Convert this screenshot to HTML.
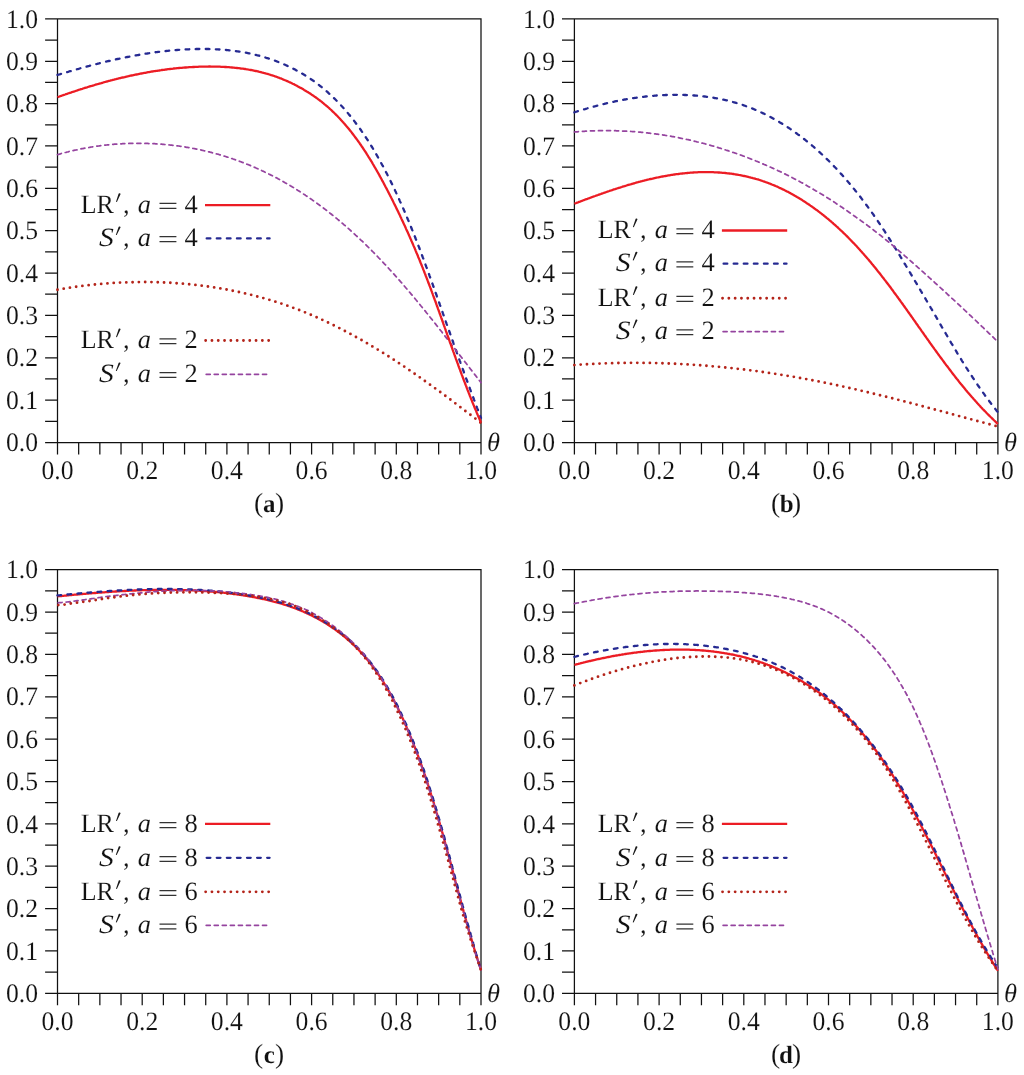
<!DOCTYPE html>
<html><head><meta charset="utf-8"><title>LR' and S' versus theta</title>
<style>
html,body{margin:0;padding:0;background:#fff;}
body{width:1024px;height:1075px;overflow:hidden;}
svg{display:block;will-change:transform;}
.t{font-family:"Liberation Serif",serif;font-size:26.5px;fill:#111;stroke:#fff;stroke-width:0.12px;text-rendering:geometricPrecision;}
.it{font-style:italic;}
.tl{font-size:26.6px;}
.bd{font-weight:bold;}
</style></head><body>
<svg width="1024" height="1075" viewBox="0 0 1024 1075">
<rect width="1024" height="1075" fill="#fff"/>
<path d="M45.10,442.50H57.50M45.10,421.32H57.50M45.10,400.14H57.50M45.10,378.96H57.50M45.10,357.78H57.50M45.10,336.60H57.50M45.10,315.42H57.50M45.10,294.24H57.50M45.10,273.06H57.50M45.10,251.88H57.50M45.10,230.70H57.50M45.10,209.52H57.50M45.10,188.34H57.50M45.10,167.16H57.50M45.10,145.98H57.50M45.10,124.80H57.50M45.10,103.62H57.50M45.10,82.44H57.50M45.10,61.26H57.50M45.10,40.08H57.50M45.10,18.90H57.50M57.50,442.50V454.40M78.67,442.50V454.40M99.85,442.50V454.40M121.03,442.50V454.40M142.20,442.50V454.40M163.38,442.50V454.40M184.55,442.50V454.40M205.72,442.50V454.40M226.90,442.50V454.40M248.07,442.50V454.40M269.25,442.50V454.40M290.43,442.50V454.40M311.60,442.50V454.40M332.77,442.50V454.40M353.95,442.50V454.40M375.12,442.50V454.40M396.30,442.50V454.40M417.48,442.50V454.40M438.65,442.50V454.40M459.82,442.50V454.40M481.00,442.50V454.40M57.50,442.50V18.90H481.00V442.50Z" fill="none" stroke="#111" stroke-width="1.25" stroke-linecap="butt"/>
<text x="38.10" y="451.20" text-anchor="end" class="t tl" textLength="32.09" lengthAdjust="spacingAndGlyphs">0.0</text>
<text x="38.10" y="408.84" text-anchor="end" class="t tl" textLength="32.09" lengthAdjust="spacingAndGlyphs">0.1</text>
<text x="38.10" y="366.48" text-anchor="end" class="t tl" textLength="32.09" lengthAdjust="spacingAndGlyphs">0.2</text>
<text x="38.10" y="324.12" text-anchor="end" class="t tl" textLength="32.09" lengthAdjust="spacingAndGlyphs">0.3</text>
<text x="38.10" y="281.76" text-anchor="end" class="t tl" textLength="32.09" lengthAdjust="spacingAndGlyphs">0.4</text>
<text x="38.10" y="239.40" text-anchor="end" class="t tl" textLength="32.09" lengthAdjust="spacingAndGlyphs">0.5</text>
<text x="38.10" y="197.04" text-anchor="end" class="t tl" textLength="32.09" lengthAdjust="spacingAndGlyphs">0.6</text>
<text x="38.10" y="154.68" text-anchor="end" class="t tl" textLength="32.09" lengthAdjust="spacingAndGlyphs">0.7</text>
<text x="38.10" y="112.32" text-anchor="end" class="t tl" textLength="32.09" lengthAdjust="spacingAndGlyphs">0.8</text>
<text x="38.10" y="69.96" text-anchor="end" class="t tl" textLength="32.09" lengthAdjust="spacingAndGlyphs">0.9</text>
<text x="38.10" y="27.60" text-anchor="end" class="t tl" textLength="32.09" lengthAdjust="spacingAndGlyphs">1.0</text>
<text x="57.50" y="478.70" text-anchor="middle" class="t tl" textLength="32.09" lengthAdjust="spacingAndGlyphs">0.0</text>
<text x="142.20" y="478.70" text-anchor="middle" class="t tl" textLength="32.09" lengthAdjust="spacingAndGlyphs">0.2</text>
<text x="226.90" y="478.70" text-anchor="middle" class="t tl" textLength="32.09" lengthAdjust="spacingAndGlyphs">0.4</text>
<text x="311.60" y="478.70" text-anchor="middle" class="t tl" textLength="32.09" lengthAdjust="spacingAndGlyphs">0.6</text>
<text x="396.30" y="478.70" text-anchor="middle" class="t tl" textLength="32.09" lengthAdjust="spacingAndGlyphs">0.8</text>
<text x="481.00" y="478.70" text-anchor="middle" class="t tl" textLength="32.09" lengthAdjust="spacingAndGlyphs">1.0</text>
<text x="487.00" y="451.30" class="t it">&#952;</text>
<path d="M562.00,442.50H574.40M562.00,421.32H574.40M562.00,400.14H574.40M562.00,378.96H574.40M562.00,357.78H574.40M562.00,336.60H574.40M562.00,315.42H574.40M562.00,294.24H574.40M562.00,273.06H574.40M562.00,251.88H574.40M562.00,230.70H574.40M562.00,209.52H574.40M562.00,188.34H574.40M562.00,167.16H574.40M562.00,145.98H574.40M562.00,124.80H574.40M562.00,103.62H574.40M562.00,82.44H574.40M562.00,61.26H574.40M562.00,40.08H574.40M562.00,18.90H574.40M574.40,442.50V454.40M595.57,442.50V454.40M616.75,442.50V454.40M637.92,442.50V454.40M659.10,442.50V454.40M680.27,442.50V454.40M701.45,442.50V454.40M722.62,442.50V454.40M743.80,442.50V454.40M764.97,442.50V454.40M786.15,442.50V454.40M807.33,442.50V454.40M828.50,442.50V454.40M849.67,442.50V454.40M870.85,442.50V454.40M892.02,442.50V454.40M913.20,442.50V454.40M934.38,442.50V454.40M955.55,442.50V454.40M976.72,442.50V454.40M997.90,442.50V454.40M574.40,442.50V18.90H997.90V442.50Z" fill="none" stroke="#111" stroke-width="1.25" stroke-linecap="butt"/>
<text x="555.00" y="451.20" text-anchor="end" class="t tl" textLength="32.09" lengthAdjust="spacingAndGlyphs">0.0</text>
<text x="555.00" y="408.84" text-anchor="end" class="t tl" textLength="32.09" lengthAdjust="spacingAndGlyphs">0.1</text>
<text x="555.00" y="366.48" text-anchor="end" class="t tl" textLength="32.09" lengthAdjust="spacingAndGlyphs">0.2</text>
<text x="555.00" y="324.12" text-anchor="end" class="t tl" textLength="32.09" lengthAdjust="spacingAndGlyphs">0.3</text>
<text x="555.00" y="281.76" text-anchor="end" class="t tl" textLength="32.09" lengthAdjust="spacingAndGlyphs">0.4</text>
<text x="555.00" y="239.40" text-anchor="end" class="t tl" textLength="32.09" lengthAdjust="spacingAndGlyphs">0.5</text>
<text x="555.00" y="197.04" text-anchor="end" class="t tl" textLength="32.09" lengthAdjust="spacingAndGlyphs">0.6</text>
<text x="555.00" y="154.68" text-anchor="end" class="t tl" textLength="32.09" lengthAdjust="spacingAndGlyphs">0.7</text>
<text x="555.00" y="112.32" text-anchor="end" class="t tl" textLength="32.09" lengthAdjust="spacingAndGlyphs">0.8</text>
<text x="555.00" y="69.96" text-anchor="end" class="t tl" textLength="32.09" lengthAdjust="spacingAndGlyphs">0.9</text>
<text x="555.00" y="27.60" text-anchor="end" class="t tl" textLength="32.09" lengthAdjust="spacingAndGlyphs">1.0</text>
<text x="574.40" y="478.70" text-anchor="middle" class="t tl" textLength="32.09" lengthAdjust="spacingAndGlyphs">0.0</text>
<text x="659.10" y="478.70" text-anchor="middle" class="t tl" textLength="32.09" lengthAdjust="spacingAndGlyphs">0.2</text>
<text x="743.80" y="478.70" text-anchor="middle" class="t tl" textLength="32.09" lengthAdjust="spacingAndGlyphs">0.4</text>
<text x="828.50" y="478.70" text-anchor="middle" class="t tl" textLength="32.09" lengthAdjust="spacingAndGlyphs">0.6</text>
<text x="913.20" y="478.70" text-anchor="middle" class="t tl" textLength="32.09" lengthAdjust="spacingAndGlyphs">0.8</text>
<text x="997.90" y="478.70" text-anchor="middle" class="t tl" textLength="32.09" lengthAdjust="spacingAndGlyphs">1.0</text>
<text x="1003.90" y="451.30" class="t it">&#952;</text>
<path d="M45.10,993.30H57.50M45.10,972.12H57.50M45.10,950.94H57.50M45.10,929.76H57.50M45.10,908.58H57.50M45.10,887.40H57.50M45.10,866.22H57.50M45.10,845.04H57.50M45.10,823.86H57.50M45.10,802.68H57.50M45.10,781.50H57.50M45.10,760.32H57.50M45.10,739.14H57.50M45.10,717.96H57.50M45.10,696.78H57.50M45.10,675.60H57.50M45.10,654.42H57.50M45.10,633.24H57.50M45.10,612.06H57.50M45.10,590.88H57.50M45.10,569.70H57.50M57.50,993.30V1005.20M78.67,993.30V1005.20M99.85,993.30V1005.20M121.03,993.30V1005.20M142.20,993.30V1005.20M163.38,993.30V1005.20M184.55,993.30V1005.20M205.72,993.30V1005.20M226.90,993.30V1005.20M248.07,993.30V1005.20M269.25,993.30V1005.20M290.43,993.30V1005.20M311.60,993.30V1005.20M332.77,993.30V1005.20M353.95,993.30V1005.20M375.12,993.30V1005.20M396.30,993.30V1005.20M417.48,993.30V1005.20M438.65,993.30V1005.20M459.82,993.30V1005.20M481.00,993.30V1005.20M57.50,993.30V569.70H481.00V993.30Z" fill="none" stroke="#111" stroke-width="1.25" stroke-linecap="butt"/>
<text x="38.10" y="1002.00" text-anchor="end" class="t tl" textLength="32.09" lengthAdjust="spacingAndGlyphs">0.0</text>
<text x="38.10" y="959.64" text-anchor="end" class="t tl" textLength="32.09" lengthAdjust="spacingAndGlyphs">0.1</text>
<text x="38.10" y="917.28" text-anchor="end" class="t tl" textLength="32.09" lengthAdjust="spacingAndGlyphs">0.2</text>
<text x="38.10" y="874.92" text-anchor="end" class="t tl" textLength="32.09" lengthAdjust="spacingAndGlyphs">0.3</text>
<text x="38.10" y="832.56" text-anchor="end" class="t tl" textLength="32.09" lengthAdjust="spacingAndGlyphs">0.4</text>
<text x="38.10" y="790.20" text-anchor="end" class="t tl" textLength="32.09" lengthAdjust="spacingAndGlyphs">0.5</text>
<text x="38.10" y="747.84" text-anchor="end" class="t tl" textLength="32.09" lengthAdjust="spacingAndGlyphs">0.6</text>
<text x="38.10" y="705.48" text-anchor="end" class="t tl" textLength="32.09" lengthAdjust="spacingAndGlyphs">0.7</text>
<text x="38.10" y="663.12" text-anchor="end" class="t tl" textLength="32.09" lengthAdjust="spacingAndGlyphs">0.8</text>
<text x="38.10" y="620.76" text-anchor="end" class="t tl" textLength="32.09" lengthAdjust="spacingAndGlyphs">0.9</text>
<text x="38.10" y="578.40" text-anchor="end" class="t tl" textLength="32.09" lengthAdjust="spacingAndGlyphs">1.0</text>
<text x="57.50" y="1029.50" text-anchor="middle" class="t tl" textLength="32.09" lengthAdjust="spacingAndGlyphs">0.0</text>
<text x="142.20" y="1029.50" text-anchor="middle" class="t tl" textLength="32.09" lengthAdjust="spacingAndGlyphs">0.2</text>
<text x="226.90" y="1029.50" text-anchor="middle" class="t tl" textLength="32.09" lengthAdjust="spacingAndGlyphs">0.4</text>
<text x="311.60" y="1029.50" text-anchor="middle" class="t tl" textLength="32.09" lengthAdjust="spacingAndGlyphs">0.6</text>
<text x="396.30" y="1029.50" text-anchor="middle" class="t tl" textLength="32.09" lengthAdjust="spacingAndGlyphs">0.8</text>
<text x="481.00" y="1029.50" text-anchor="middle" class="t tl" textLength="32.09" lengthAdjust="spacingAndGlyphs">1.0</text>
<text x="487.00" y="1002.10" class="t it">&#952;</text>
<path d="M562.00,993.30H574.40M562.00,972.12H574.40M562.00,950.94H574.40M562.00,929.76H574.40M562.00,908.58H574.40M562.00,887.40H574.40M562.00,866.22H574.40M562.00,845.04H574.40M562.00,823.86H574.40M562.00,802.68H574.40M562.00,781.50H574.40M562.00,760.32H574.40M562.00,739.14H574.40M562.00,717.96H574.40M562.00,696.78H574.40M562.00,675.60H574.40M562.00,654.42H574.40M562.00,633.24H574.40M562.00,612.06H574.40M562.00,590.88H574.40M562.00,569.70H574.40M574.40,993.30V1005.20M595.57,993.30V1005.20M616.75,993.30V1005.20M637.92,993.30V1005.20M659.10,993.30V1005.20M680.27,993.30V1005.20M701.45,993.30V1005.20M722.62,993.30V1005.20M743.80,993.30V1005.20M764.97,993.30V1005.20M786.15,993.30V1005.20M807.33,993.30V1005.20M828.50,993.30V1005.20M849.67,993.30V1005.20M870.85,993.30V1005.20M892.02,993.30V1005.20M913.20,993.30V1005.20M934.38,993.30V1005.20M955.55,993.30V1005.20M976.72,993.30V1005.20M997.90,993.30V1005.20M574.40,993.30V569.70H997.90V993.30Z" fill="none" stroke="#111" stroke-width="1.25" stroke-linecap="butt"/>
<text x="555.00" y="1002.00" text-anchor="end" class="t tl" textLength="32.09" lengthAdjust="spacingAndGlyphs">0.0</text>
<text x="555.00" y="959.64" text-anchor="end" class="t tl" textLength="32.09" lengthAdjust="spacingAndGlyphs">0.1</text>
<text x="555.00" y="917.28" text-anchor="end" class="t tl" textLength="32.09" lengthAdjust="spacingAndGlyphs">0.2</text>
<text x="555.00" y="874.92" text-anchor="end" class="t tl" textLength="32.09" lengthAdjust="spacingAndGlyphs">0.3</text>
<text x="555.00" y="832.56" text-anchor="end" class="t tl" textLength="32.09" lengthAdjust="spacingAndGlyphs">0.4</text>
<text x="555.00" y="790.20" text-anchor="end" class="t tl" textLength="32.09" lengthAdjust="spacingAndGlyphs">0.5</text>
<text x="555.00" y="747.84" text-anchor="end" class="t tl" textLength="32.09" lengthAdjust="spacingAndGlyphs">0.6</text>
<text x="555.00" y="705.48" text-anchor="end" class="t tl" textLength="32.09" lengthAdjust="spacingAndGlyphs">0.7</text>
<text x="555.00" y="663.12" text-anchor="end" class="t tl" textLength="32.09" lengthAdjust="spacingAndGlyphs">0.8</text>
<text x="555.00" y="620.76" text-anchor="end" class="t tl" textLength="32.09" lengthAdjust="spacingAndGlyphs">0.9</text>
<text x="555.00" y="578.40" text-anchor="end" class="t tl" textLength="32.09" lengthAdjust="spacingAndGlyphs">1.0</text>
<text x="574.40" y="1029.50" text-anchor="middle" class="t tl" textLength="32.09" lengthAdjust="spacingAndGlyphs">0.0</text>
<text x="659.10" y="1029.50" text-anchor="middle" class="t tl" textLength="32.09" lengthAdjust="spacingAndGlyphs">0.2</text>
<text x="743.80" y="1029.50" text-anchor="middle" class="t tl" textLength="32.09" lengthAdjust="spacingAndGlyphs">0.4</text>
<text x="828.50" y="1029.50" text-anchor="middle" class="t tl" textLength="32.09" lengthAdjust="spacingAndGlyphs">0.6</text>
<text x="913.20" y="1029.50" text-anchor="middle" class="t tl" textLength="32.09" lengthAdjust="spacingAndGlyphs">0.8</text>
<text x="997.90" y="1029.50" text-anchor="middle" class="t tl" textLength="32.09" lengthAdjust="spacingAndGlyphs">1.0</text>
<text x="1003.90" y="1002.10" class="t it">&#952;</text>
<path d="M57.5,74.9L58.5,74.6L59.4,74.4L60.4,74.1L61.3,73.8L62.3,73.5L63.3,73.2L64.2,72.9L65.2,72.6L66.2,72.4L67.1,72.1L68.1,71.8L69.0,71.5L70.0,71.2L71.0,71.0L71.9,70.7L72.9,70.4L73.9,70.1L74.8,69.9L75.8,69.6L76.7,69.3L77.7,69.0L78.7,68.8L79.6,68.5L80.6,68.2L81.6,68.0L82.5,67.7L83.5,67.4L84.5,67.2L85.4,66.9L86.4,66.7L87.4,66.4L88.4,66.1L89.3,65.9L90.3,65.6L91.3,65.4L92.2,65.1L93.2,64.9L94.2,64.6L95.1,64.4L96.1,64.1L97.1,63.9L98.1,63.6L99.0,63.4L100.0,63.1L101.0,62.9L101.9,62.7L102.9,62.4L103.9,62.2L104.9,61.9L105.8,61.7L106.8,61.5L107.8,61.2L108.8,61.0L109.7,60.8L110.7,60.6L111.7,60.3L112.7,60.1L113.7,59.9L114.6,59.7L115.6,59.5L116.6,59.2L117.6,59.0L118.6,58.8L119.5,58.6L120.5,58.4L121.5,58.2L122.5,58.0L123.5,57.8L124.4,57.6L125.4,57.4L126.4,57.2L127.4,57.0L128.4,56.8L129.4,56.6L130.3,56.4L131.3,56.2L132.3,56.0L133.3,55.8L134.3,55.7L135.3,55.5L136.3,55.3L137.2,55.1L138.2,55.0L139.2,54.8L140.2,54.6L141.2,54.4L142.2,54.3L143.2,54.1L144.2,54.0L145.1,53.8L146.1,53.6L147.1,53.5L148.1,53.3L149.1,53.2L150.1,53.0L151.1,52.9L152.1,52.8L153.1,52.6L154.1,52.5L155.1,52.3L156.1,52.2L157.1,52.1L158.0,51.9L159.0,51.8L160.0,51.7L161.0,51.6L162.0,51.5L163.0,51.3L164.0,51.2L165.0,51.1L166.0,51.0L167.0,50.9L168.0,50.8L169.0,50.7L170.0,50.6L171.0,50.5L172.0,50.4L173.0,50.3L174.0,50.2L175.0,50.2L176.0,50.1L177.0,50.0L178.0,49.9L179.0,49.8L180.0,49.8L181.0,49.7L182.0,49.6L183.0,49.6L184.0,49.5L185.0,49.5L186.0,49.4L187.0,49.4L188.0,49.3L189.0,49.3L190.0,49.2L191.0,49.2L192.0,49.2L193.0,49.1L194.0,49.1L195.0,49.1L196.0,49.0L197.0,49.0L198.0,49.0L199.0,49.0L200.0,49.0L201.0,49.0L202.0,49.0L203.0,49.0L204.0,49.0L205.0,49.0L206.0,49.0L207.0,49.0L208.0,49.0L209.0,49.0L210.0,49.1L211.0,49.1L212.0,49.1L213.1,49.2L214.1,49.2L215.1,49.3L216.1,49.3L217.1,49.4L218.1,49.4L219.1,49.5L220.1,49.5L221.1,49.6L222.1,49.7L223.1,49.7L224.1,49.8L225.1,49.9L226.1,50.0L227.1,50.1L228.1,50.2L229.0,50.3L230.0,50.4L231.0,50.5L232.0,50.6L233.0,50.7L234.0,50.9L235.0,51.0L236.0,51.1L237.0,51.3L238.0,51.4L239.0,51.6L240.0,51.7L241.0,51.9L242.0,52.0L243.0,52.2L243.9,52.4L244.9,52.5L245.9,52.7L246.9,52.9L247.9,53.1L248.9,53.3L249.8,53.5L250.8,53.7L251.8,53.9L252.8,54.1L253.8,54.4L254.7,54.6L255.7,54.8L256.7,55.1L257.7,55.3L258.6,55.6L259.6,55.8L260.6,56.1L261.5,56.3L262.5,56.6L263.5,56.9L264.4,57.2L265.4,57.5L266.3,57.8L267.3,58.1L268.3,58.4L269.2,58.7L270.2,59.0L271.1,59.3L272.1,59.6L273.0,60.0L273.9,60.3L274.9,60.7L275.8,61.0L276.8,61.4L277.7,61.7L278.6,62.1L279.6,62.5L280.5,62.8L281.4,63.2L282.3,63.6L283.3,64.0L284.2,64.4L285.1,64.8L286.0,65.2L286.9,65.6L287.8,66.0L288.7,66.5L289.6,66.9L290.6,67.3L291.5,67.8L292.3,68.2L293.2,68.7L294.1,69.1L295.0,69.6L295.9,70.1L296.8,70.5L297.7,71.0L298.6,71.5L299.4,72.0L300.3,72.5L301.2,73.0L302.0,73.5L302.9,74.0L303.8,74.5L304.6,75.1L305.5,75.6L306.3,76.1L307.2,76.7L308.0,77.2L308.8,77.7L309.7,78.3L310.5,78.9L311.3,79.4L312.2,80.0L313.0,80.6L313.8,81.1L314.6,81.7L315.4,82.3L316.2,82.9L317.0,83.5L317.8,84.1L318.6,84.7L319.4,85.3L320.2,86.0L321.0,86.6L321.8,87.2L322.6,87.8L323.3,88.5L324.1,89.1L324.9,89.8L325.6,90.4L326.4,91.1L327.1,91.7L327.9,92.4L328.6,93.1L329.4,93.8L330.1,94.4L330.8,95.1L331.6,95.8L332.3,96.5L333.0,97.2L333.8,97.9L334.5,98.6L335.2,99.3L335.9,100.0L336.6,100.7L337.3,101.4L338.0,102.1L338.7,102.9L339.4,103.6L340.1,104.3L340.8,105.0L341.4,105.8L342.1,106.5L342.8,107.3L343.5,108.0L344.1,108.8L344.8,109.5L345.4,110.3L346.1,111.0L346.8,111.8L347.4,112.5L348.0,113.3L348.7,114.1L349.3,114.9L350.0,115.6L350.6,116.4L351.2,117.2L351.9,118.0L352.5,118.8L353.1,119.6L353.7,120.3L354.3,121.1L354.9,121.9L355.5,122.7L356.1,123.5L356.7,124.3L357.3,125.1L357.9,125.9L358.5,126.8L359.1,127.6L359.7,128.4L360.3,129.2L360.9,130.0L361.4,130.8L362.0,131.7L362.6,132.5L363.1,133.3L363.7,134.1L364.3,135.0L364.8,135.8L365.4,136.6L365.9,137.5L366.5,138.3L367.0,139.2L367.6,140.0L368.1,140.8L368.7,141.7L369.2,142.5L369.7,143.4L370.3,144.2L370.8,145.1L371.3,145.9L371.8,146.8L372.4,147.6L372.9,148.5L373.4,149.4L373.9,150.2L374.4,151.1L374.9,151.9L375.4,152.8L375.9,153.7L376.4,154.5L376.9,155.4L377.4,156.3L377.9,157.2L378.4,158.0L378.9,158.9L379.4,159.8L379.9,160.7L380.4,161.5L380.9,162.4L381.3,163.3L381.8,164.2L382.3,165.1L382.8,165.9L383.3,166.8L383.7,167.7L384.2,168.6L384.7,169.5L385.1,170.4L385.6,171.3L386.0,172.1L386.5,173.0L387.0,173.9L387.4,174.8L387.9,175.7L388.3,176.6L388.8,177.5L389.2,178.4L389.7,179.3L390.1,180.2L390.6,181.1L391.0,182.0L391.4,182.9L391.9,183.8L392.3,184.7L392.8,185.6L393.2,186.5L393.6,187.4L394.0,188.3L394.5,189.2L394.9,190.1L395.3,191.0L395.8,191.9L396.2,192.9L396.6,193.8L397.0,194.7L397.4,195.6L397.9,196.5L398.3,197.4L398.7,198.3L399.1,199.2L399.5,200.1L399.9,201.1L400.3,202.0L400.8,202.9L401.2,203.8L401.6,204.7L402.0,205.6L402.4,206.6L402.8,207.5L403.2,208.4L403.6,209.3L404.0,210.2L404.4,211.1L404.8,212.1L405.2,213.0L405.6,213.9L406.0,214.8L406.4,215.8L406.7,216.7L407.1,217.6L407.5,218.5L407.9,219.5L408.3,220.4L408.7,221.3L409.1,222.2L409.4,223.2L409.8,224.1L410.2,225.0L410.6,225.9L411.0,226.9L411.3,227.8L411.7,228.7L412.1,229.7L412.5,230.6L412.8,231.5L413.2,232.4L413.6,233.4L414.0,234.3L414.3,235.2L414.7,236.2L415.1,237.1L415.4,238.0L415.8,239.0L416.2,239.9L416.5,240.8L416.9,241.8L417.3,242.7L417.6,243.6L418.0,244.6L418.3,245.5L418.7,246.4L419.1,247.4L419.4,248.3L419.8,249.3L420.1,250.2L420.5,251.1L420.8,252.1L421.2,253.0L421.5,253.9L421.9,254.9L422.2,255.8L422.6,256.8L422.9,257.7L423.3,258.6L423.6,259.6L424.0,260.5L424.3,261.5L424.7,262.4L425.0,263.3L425.4,264.3L425.7,265.2L426.1,266.2L426.4,267.1L426.8,268.0L427.1,269.0L427.5,269.9L427.8,270.9L428.1,271.8L428.5,272.8L428.8,273.7L429.2,274.6L429.5,275.6L429.8,276.5L430.2,277.5L430.5,278.4L430.9,279.4L431.2,280.3L431.5,281.2L431.9,282.2L432.2,283.1L432.6,284.1L432.9,285.0L433.2,286.0L433.6,286.9L433.9,287.9L434.2,288.8L434.6,289.7L434.9,290.7L435.2,291.6L435.6,292.6L435.9,293.5L436.3,294.5L436.6,295.4L436.9,296.4L437.3,297.3L437.6,298.2L437.9,299.2L438.3,300.1L438.6,301.1L438.9,302.0L439.3,303.0L439.6,303.9L439.9,304.9L440.3,305.8L440.6,306.7L440.9,307.7L441.3,308.6L441.6,309.6L441.9,310.5L442.3,311.5L442.6,312.4L442.9,313.4L443.3,314.3L443.6,315.3L443.9,316.2L444.3,317.1L444.6,318.1L444.9,319.0L445.3,320.0L445.6,320.9L445.9,321.9L446.3,322.8L446.6,323.8L446.9,324.7L447.3,325.7L447.6,326.6L448.0,327.5L448.3,328.5L448.6,329.4L449.0,330.4L449.3,331.3L449.6,332.3L450.0,333.2L450.3,334.2L450.6,335.1L451.0,336.1L451.3,337.0L451.6,337.9L452.0,338.9L452.3,339.8L452.6,340.8L453.0,341.7L453.3,342.7L453.6,343.6L454.0,344.6L454.3,345.5L454.6,346.4L455.0,347.4L455.3,348.3L455.7,349.3L456.0,350.2L456.3,351.2L456.7,352.1L457.0,353.1L457.3,354.0L457.7,354.9L458.0,355.9L458.4,356.8L458.7,357.8L459.0,358.7L459.4,359.7L459.7,360.6L460.1,361.5L460.4,362.5L460.7,363.4L461.1,364.4L461.4,365.3L461.7,366.3L462.1,367.2L462.4,368.1L462.8,369.1L463.1,370.0L463.5,371.0L463.8,371.9L464.1,372.9L464.5,373.8L464.8,374.7L465.2,375.7L465.5,376.6L465.9,377.6L466.2,378.5L466.5,379.5L466.9,380.4L467.2,381.3L467.6,382.3L467.9,383.2L468.3,384.2L468.6,385.1L469.0,386.0L469.3,387.0L469.7,387.9L470.0,388.9L470.4,389.8L470.7,390.7L471.1,391.7L471.4,392.6L471.8,393.6L472.1,394.5L472.5,395.4L472.8,396.4L473.2,397.3L473.5,398.3L473.9,399.2L474.2,400.1L474.6,401.1L474.9,402.0L475.3,402.9L475.6,403.9L476.0,404.8L476.3,405.8L476.7,406.7L477.0,407.6L477.4,408.6L477.8,409.5L478.1,410.4L478.5,411.4L478.8,412.3L479.2,413.3L479.6,414.2L479.9,415.1L480.3,416.1L480.6,417.0L481.0,417.9" fill="none" stroke="#262a92" stroke-width="2.3" stroke-linecap="round" stroke-dasharray="3.7 6.38"/>
<path d="M57.5,154.6L58.5,154.3L59.4,154.1L60.4,153.8L61.4,153.5L62.3,153.3L63.3,153.0L64.3,152.8L65.2,152.5L66.2,152.3L67.2,152.0L68.2,151.8L69.1,151.5L70.1,151.3L71.1,151.1L72.1,150.8L73.0,150.6L74.0,150.4L75.0,150.2L76.0,150.0L77.0,149.8L77.9,149.5L78.9,149.3L79.9,149.1L80.9,148.9L81.9,148.7L82.9,148.6L83.8,148.4L84.8,148.2L85.8,148.0L86.8,147.8L87.8,147.6L88.8,147.5L89.8,147.3L90.7,147.1L91.7,147.0L92.7,146.8L93.7,146.7L94.7,146.5L95.7,146.4L96.7,146.2L97.7,146.1L98.7,146.0L99.7,145.8L100.7,145.7L101.7,145.6L102.7,145.4L103.7,145.3L104.7,145.2L105.6,145.1L106.6,145.0L107.6,144.9L108.6,144.8L109.6,144.7L110.6,144.6L111.6,144.5L112.6,144.4L113.6,144.3L114.6,144.2L115.6,144.2L116.6,144.1L117.6,144.0L118.6,143.9L119.6,143.9L120.6,143.8L121.6,143.8L122.6,143.7L123.6,143.6L124.6,143.6L125.6,143.6L126.6,143.5L127.6,143.5L128.6,143.4L129.7,143.4L130.7,143.4L131.7,143.4L132.7,143.3L133.7,143.3L134.7,143.3L135.7,143.3L136.7,143.3L137.7,143.3L138.7,143.3L139.7,143.3L140.7,143.3L141.7,143.3L142.7,143.3L143.7,143.3L144.7,143.4L145.7,143.4L146.7,143.4L147.7,143.4L148.7,143.5L149.7,143.5L150.7,143.5L151.7,143.6L152.7,143.6L153.7,143.7L154.7,143.7L155.7,143.8L156.7,143.9L157.7,143.9L158.7,144.0L159.7,144.1L160.7,144.1L161.7,144.2L162.7,144.3L163.7,144.4L164.7,144.5L165.7,144.6L166.7,144.6L167.7,144.7L168.7,144.8L169.7,145.0L170.7,145.1L171.7,145.2L172.7,145.3L173.7,145.4L174.7,145.5L175.7,145.7L176.7,145.8L177.7,145.9L178.7,146.0L179.7,146.2L180.7,146.3L181.6,146.5L182.6,146.6L183.6,146.8L184.6,146.9L185.6,147.1L186.6,147.3L187.6,147.4L188.6,147.6L189.6,147.8L190.5,147.9L191.5,148.1L192.5,148.3L193.5,148.5L194.5,148.7L195.5,148.9L196.5,149.1L197.4,149.3L198.4,149.5L199.4,149.7L200.4,149.9L201.4,150.1L202.3,150.3L203.3,150.5L204.3,150.8L205.3,151.0L206.3,151.2L207.2,151.4L208.2,151.7L209.2,151.9L210.2,152.2L211.1,152.4L212.1,152.7L213.1,152.9L214.0,153.2L215.0,153.4L216.0,153.7L216.9,154.0L217.9,154.2L218.9,154.5L219.8,154.8L220.8,155.1L221.8,155.3L222.7,155.6L223.7,155.9L224.6,156.2L225.6,156.5L226.6,156.8L227.5,157.1L228.5,157.4L229.4,157.7L230.4,158.0L231.3,158.4L232.3,158.7L233.2,159.0L234.2,159.3L235.1,159.7L236.1,160.0L237.0,160.3L237.9,160.7L238.9,161.0L239.8,161.4L240.8,161.7L241.7,162.1L242.6,162.4L243.6,162.8L244.5,163.2L245.4,163.5L246.4,163.9L247.3,164.3L248.2,164.6L249.2,165.0L250.1,165.4L251.0,165.8L251.9,166.2L252.9,166.6L253.8,167.0L254.7,167.4L255.6,167.8L256.5,168.2L257.5,168.6L258.4,169.0L259.3,169.4L260.2,169.8L261.1,170.2L262.0,170.7L262.9,171.1L263.8,171.5L264.7,172.0L265.6,172.4L266.5,172.8L267.4,173.3L268.3,173.7L269.2,174.2L270.1,174.6L271.0,175.1L271.9,175.5L272.8,176.0L273.7,176.4L274.6,176.9L275.5,177.4L276.4,177.8L277.3,178.3L278.1,178.8L279.0,179.3L279.9,179.8L280.8,180.2L281.7,180.7L282.5,181.2L283.4,181.7L284.3,182.2L285.1,182.7L286.0,183.2L286.9,183.7L287.8,184.2L288.6,184.7L289.5,185.2L290.3,185.7L291.2,186.2L292.1,186.8L292.9,187.3L293.8,187.8L294.6,188.3L295.5,188.9L296.3,189.4L297.2,189.9L298.0,190.5L298.9,191.0L299.7,191.5L300.6,192.1L301.4,192.6L302.3,193.2L303.1,193.7L303.9,194.3L304.8,194.8L305.6,195.4L306.4,195.9L307.3,196.5L308.1,197.1L308.9,197.6L309.7,198.2L310.6,198.8L311.4,199.3L312.2,199.9L313.0,200.5L313.9,201.1L314.7,201.6L315.5,202.2L316.3,202.8L317.1,203.4L317.9,204.0L318.7,204.6L319.6,205.2L320.4,205.8L321.2,206.4L322.0,207.0L322.8,207.6L323.6,208.2L324.4,208.8L325.2,209.4L326.0,210.0L326.8,210.6L327.5,211.2L328.3,211.8L329.1,212.5L329.9,213.1L330.7,213.7L331.5,214.3L332.3,215.0L333.1,215.6L333.8,216.2L334.6,216.8L335.4,217.5L336.2,218.1L336.9,218.7L337.7,219.4L338.5,220.0L339.3,220.7L340.0,221.3L340.8,222.0L341.6,222.6L342.3,223.3L343.1,223.9L343.8,224.6L344.6,225.2L345.4,225.9L346.1,226.5L346.9,227.2L347.6,227.9L348.4,228.5L349.1,229.2L349.9,229.9L350.6,230.5L351.4,231.2L352.1,231.9L352.9,232.5L353.6,233.2L354.3,233.9L355.1,234.6L355.8,235.3L356.5,235.9L357.3,236.6L358.0,237.3L358.7,238.0L359.5,238.7L360.2,239.4L360.9,240.1L361.7,240.7L362.4,241.4L363.1,242.1L363.8,242.8L364.5,243.5L365.3,244.2L366.0,244.9L366.7,245.6L367.4,246.3L368.1,247.0L368.8,247.7L369.6,248.4L370.3,249.2L371.0,249.9L371.7,250.6L372.4,251.3L373.1,252.0L373.8,252.7L374.5,253.4L375.2,254.1L375.9,254.9L376.6,255.6L377.3,256.3L378.0,257.0L378.7,257.8L379.4,258.5L380.1,259.2L380.8,259.9L381.5,260.7L382.1,261.4L382.8,262.1L383.5,262.8L384.2,263.6L384.9,264.3L385.6,265.0L386.3,265.8L386.9,266.5L387.6,267.3L388.3,268.0L389.0,268.7L389.6,269.5L390.3,270.2L391.0,271.0L391.7,271.7L392.3,272.4L393.0,273.2L393.7,273.9L394.4,274.7L395.0,275.4L395.7,276.2L396.4,276.9L397.0,277.7L397.7,278.4L398.4,279.2L399.0,279.9L399.7,280.7L400.3,281.4L401.0,282.2L401.7,282.9L402.3,283.7L403.0,284.5L403.6,285.2L404.3,286.0L404.9,286.7L405.6,287.5L406.2,288.3L406.9,289.0L407.5,289.8L408.2,290.5L408.8,291.3L409.5,292.1L410.1,292.8L410.8,293.6L411.4,294.4L412.1,295.1L412.7,295.9L413.4,296.7L414.0,297.5L414.7,298.2L415.3,299.0L415.9,299.8L416.6,300.5L417.2,301.3L417.9,302.1L418.5,302.9L419.1,303.6L419.8,304.4L420.4,305.2L421.0,306.0L421.7,306.7L422.3,307.5L422.9,308.3L423.6,309.1L424.2,309.8L424.8,310.6L425.5,311.4L426.1,312.2L426.7,313.0L427.4,313.7L428.0,314.5L428.6,315.3L429.2,316.1L429.9,316.9L430.5,317.7L431.1,318.4L431.7,319.2L432.4,320.0L433.0,320.8L433.6,321.6L434.2,322.4L434.9,323.2L435.5,323.9L436.1,324.7L436.7,325.5L437.3,326.3L438.0,327.1L438.6,327.9L439.2,328.7L439.8,329.5L440.4,330.2L441.1,331.0L441.7,331.8L442.3,332.6L442.9,333.4L443.5,334.2L444.2,335.0L444.8,335.8L445.4,336.6L446.0,337.4L446.6,338.1L447.2,338.9L447.9,339.7L448.5,340.5L449.1,341.3L449.7,342.1L450.3,342.9L450.9,343.7L451.5,344.5L452.2,345.3L452.8,346.1L453.4,346.9L454.0,347.7L454.6,348.4L455.2,349.2L455.8,350.0L456.5,350.8L457.1,351.6L457.7,352.4L458.3,353.2L458.9,354.0L459.5,354.8L460.1,355.6L460.7,356.4L461.4,357.2L462.0,358.0L462.6,358.8L463.2,359.6L463.8,360.4L464.4,361.1L465.0,361.9L465.6,362.7L466.3,363.5L466.9,364.3L467.5,365.1L468.1,365.9L468.7,366.7L469.3,367.5L469.9,368.3L470.5,369.1L471.2,369.9L471.8,370.7L472.4,371.5L473.0,372.3L473.6,373.0L474.2,373.8L474.8,374.6L475.5,375.4L476.1,376.2L476.7,377.0L477.3,377.8L477.9,378.6L478.5,379.4L479.2,380.2L479.8,381.0L480.4,381.8L481.0,382.6" fill="none" stroke="#95449f" stroke-width="1.75" stroke-linecap="round" stroke-dasharray="4.0 4.05"/>
<path d="M57.5,289.7L58.5,289.5L59.5,289.4L60.5,289.2L61.5,289.0L62.4,288.9L63.4,288.7L64.4,288.5L65.4,288.4L66.4,288.2L67.4,288.0L68.4,287.9L69.4,287.7L70.4,287.6L71.4,287.4L72.3,287.3L73.3,287.1L74.3,287.0L75.3,286.9L76.3,286.7L77.3,286.6L78.3,286.5L79.3,286.3L80.3,286.2L81.3,286.1L82.3,285.9L83.3,285.8L84.3,285.7L85.3,285.6L86.3,285.4L87.3,285.3L88.3,285.2L89.3,285.1L90.3,285.0L91.3,284.9L92.2,284.8L93.2,284.7L94.2,284.6L95.2,284.5L96.2,284.4L97.2,284.3L98.2,284.2L99.2,284.1L100.2,284.0L101.2,283.9L102.2,283.8L103.2,283.7L104.2,283.7L105.2,283.6L106.2,283.5L107.2,283.4L108.2,283.3L109.2,283.3L110.2,283.2L111.2,283.1L112.2,283.1L113.2,283.0L114.2,282.9L115.2,282.9L116.2,282.8L117.2,282.8L118.2,282.7L119.2,282.7L120.2,282.6L121.2,282.6L122.2,282.5L123.3,282.5L124.3,282.4L125.3,282.4L126.3,282.4L127.3,282.3L128.3,282.3L129.3,282.3L130.3,282.2L131.3,282.2L132.3,282.2L133.3,282.2L134.3,282.1L135.3,282.1L136.3,282.1L137.3,282.1L138.3,282.1L139.3,282.1L140.3,282.1L141.3,282.0L142.3,282.0L143.3,282.0L144.3,282.0L145.3,282.0L146.3,282.0L147.3,282.1L148.3,282.1L149.3,282.1L150.3,282.1L151.3,282.1L152.3,282.1L153.3,282.1L154.3,282.2L155.3,282.2L156.3,282.2L157.3,282.2L158.3,282.3L159.3,282.3L160.4,282.3L161.4,282.4L162.4,282.4L163.4,282.5L164.4,282.5L165.4,282.5L166.4,282.6L167.4,282.6L168.4,282.7L169.4,282.7L170.4,282.8L171.4,282.9L172.4,282.9L173.4,283.0L174.4,283.0L175.4,283.1L176.4,283.2L177.4,283.2L178.4,283.3L179.4,283.4L180.4,283.5L181.4,283.6L182.4,283.6L183.4,283.7L184.4,283.8L185.4,283.9L186.4,284.0L187.4,284.1L188.4,284.2L189.4,284.3L190.4,284.4L191.4,284.5L192.4,284.6L193.4,284.7L194.4,284.8L195.4,284.9L196.4,285.0L197.3,285.1L198.3,285.3L199.3,285.4L200.3,285.5L201.3,285.6L202.3,285.7L203.3,285.9L204.3,286.0L205.3,286.1L206.3,286.3L207.3,286.4L208.3,286.5L209.3,286.7L210.3,286.8L211.3,287.0L212.3,287.1L213.2,287.3L214.2,287.4L215.2,287.6L216.2,287.7L217.2,287.9L218.2,288.1L219.2,288.2L220.2,288.4L221.2,288.6L222.2,288.7L223.1,288.9L224.1,289.1L225.1,289.3L226.1,289.5L227.1,289.6L228.1,289.8L229.1,290.0L230.0,290.2L231.0,290.4L232.0,290.6L233.0,290.8L234.0,291.0L235.0,291.2L235.9,291.4L236.9,291.6L237.9,291.8L238.9,292.0L239.9,292.2L240.8,292.4L241.8,292.7L242.8,292.9L243.8,293.1L244.8,293.3L245.7,293.6L246.7,293.8L247.7,294.0L248.7,294.3L249.6,294.5L250.6,294.7L251.6,295.0L252.6,295.2L253.5,295.5L254.5,295.7L255.5,296.0L256.4,296.2L257.4,296.5L258.4,296.7L259.4,297.0L260.3,297.3L261.3,297.5L262.3,297.8L263.2,298.1L264.2,298.3L265.2,298.6L266.1,298.9L267.1,299.2L268.0,299.4L269.0,299.7L270.0,300.0L270.9,300.3L271.9,300.6L272.8,300.9L273.8,301.2L274.8,301.5L275.7,301.8L276.7,302.1L277.6,302.4L278.6,302.7L279.5,303.0L280.5,303.3L281.4,303.6L282.4,304.0L283.3,304.3L284.3,304.6L285.2,304.9L286.2,305.3L287.1,305.6L288.1,305.9L289.0,306.3L290.0,306.6L290.9,306.9L291.9,307.3L292.8,307.6L293.7,308.0L294.7,308.3L295.6,308.7L296.6,309.0L297.5,309.4L298.4,309.8L299.4,310.1L300.3,310.5L301.2,310.8L302.2,311.2L303.1,311.6L304.0,312.0L305.0,312.3L305.9,312.7L306.8,313.1L307.7,313.5L308.7,313.9L309.6,314.3L310.5,314.6L311.4,315.0L312.4,315.4L313.3,315.8L314.2,316.2L315.1,316.6L316.0,317.0L317.0,317.4L317.9,317.8L318.8,318.2L319.7,318.7L320.6,319.1L321.5,319.5L322.4,319.9L323.4,320.3L324.3,320.7L325.2,321.2L326.1,321.6L327.0,322.0L327.9,322.5L328.8,322.9L329.7,323.3L330.6,323.8L331.5,324.2L332.4,324.6L333.3,325.1L334.2,325.5L335.1,326.0L336.0,326.4L336.9,326.9L337.8,327.3L338.7,327.8L339.6,328.2L340.5,328.7L341.4,329.1L342.3,329.6L343.2,330.0L344.0,330.5L344.9,331.0L345.8,331.4L346.7,331.9L347.6,332.4L348.5,332.9L349.4,333.3L350.2,333.8L351.1,334.3L352.0,334.8L352.9,335.2L353.8,335.7L354.7,336.2L355.5,336.7L356.4,337.2L357.3,337.7L358.2,338.2L359.0,338.6L359.9,339.1L360.8,339.6L361.7,340.1L362.5,340.6L363.4,341.1L364.3,341.6L365.1,342.1L366.0,342.6L366.9,343.1L367.7,343.6L368.6,344.1L369.5,344.7L370.3,345.2L371.2,345.7L372.0,346.2L372.9,346.7L373.8,347.2L374.6,347.7L375.5,348.3L376.3,348.8L377.2,349.3L378.1,349.8L378.9,350.3L379.8,350.9L380.6,351.4L381.5,351.9L382.3,352.5L383.2,353.0L384.0,353.5L384.9,354.1L385.7,354.6L386.6,355.1L387.4,355.7L388.3,356.2L389.1,356.7L390.0,357.3L390.8,357.8L391.6,358.4L392.5,358.9L393.3,359.4L394.2,360.0L395.0,360.5L395.9,361.1L396.7,361.6L397.5,362.2L398.4,362.7L399.2,363.3L400.0,363.8L400.9,364.4L401.7,365.0L402.5,365.5L403.4,366.1L404.2,366.6L405.0,367.2L405.9,367.7L406.7,368.3L407.5,368.9L408.4,369.4L409.2,370.0L410.0,370.6L410.9,371.1L411.7,371.7L412.5,372.3L413.3,372.8L414.2,373.4L415.0,374.0L415.8,374.5L416.6,375.1L417.5,375.7L418.3,376.3L419.1,376.8L419.9,377.4L420.7,378.0L421.6,378.6L422.4,379.2L423.2,379.7L424.0,380.3L424.8,380.9L425.6,381.5L426.5,382.1L427.3,382.6L428.1,383.2L428.9,383.8L429.7,384.4L430.5,385.0L431.4,385.6L432.2,386.2L433.0,386.7L433.8,387.3L434.6,387.9L435.4,388.5L436.2,389.1L437.0,389.7L437.8,390.3L438.7,390.9L439.5,391.5L440.3,392.1L441.1,392.7L441.9,393.3L442.7,393.9L443.5,394.5L444.3,395.0L445.1,395.6L445.9,396.2L446.7,396.8L447.5,397.4L448.3,398.0L449.1,398.6L449.9,399.2L450.7,399.8L451.5,400.4L452.3,401.1L453.1,401.7L453.9,402.3L454.7,402.9L455.5,403.5L456.3,404.1L457.1,404.7L457.9,405.3L458.7,405.9L459.5,406.5L460.3,407.1L461.1,407.7L461.9,408.3L462.7,408.9L463.5,409.5L464.3,410.1L465.1,410.8L465.9,411.4L466.7,412.0L467.5,412.6L468.3,413.2L469.1,413.8L469.9,414.4L470.7,415.0L471.5,415.6L472.3,416.3L473.1,416.9L473.9,417.5L474.7,418.1L475.5,418.7L476.2,419.3L477.0,419.9L477.8,420.6L478.6,421.2L479.4,421.8L480.2,422.4L481.0,423.0" fill="none" stroke="#b4241a" stroke-width="2.85" stroke-linecap="round" stroke-dasharray="0 6.3"/>
<path d="M57.5,97.2L58.4,96.8L59.4,96.5L60.3,96.2L61.3,95.8L62.2,95.5L63.2,95.2L64.1,94.8L65.1,94.5L66.0,94.2L67.0,93.9L67.9,93.5L68.9,93.2L69.8,92.9L70.8,92.6L71.7,92.2L72.7,91.9L73.6,91.6L74.6,91.3L75.5,91.0L76.5,90.7L77.4,90.4L78.4,90.0L79.3,89.7L80.3,89.4L81.2,89.1L82.2,88.8L83.1,88.5L84.1,88.2L85.0,87.9L86.0,87.6L87.0,87.3L87.9,87.0L88.9,86.7L89.8,86.4L90.8,86.1L91.8,85.9L92.7,85.6L93.7,85.3L94.6,85.0L95.6,84.7L96.6,84.4L97.5,84.2L98.5,83.9L99.4,83.6L100.4,83.3L101.4,83.1L102.3,82.8L103.3,82.5L104.3,82.2L105.2,82.0L106.2,81.7L107.2,81.5L108.1,81.2L109.1,80.9L110.1,80.7L111.0,80.4L112.0,80.2L113.0,79.9L114.0,79.7L114.9,79.4L115.9,79.2L116.9,78.9L117.8,78.7L118.8,78.4L119.8,78.2L120.8,78.0L121.7,77.7L122.7,77.5L123.7,77.3L124.7,77.1L125.6,76.8L126.6,76.6L127.6,76.4L128.6,76.2L129.6,75.9L130.5,75.7L131.5,75.5L132.5,75.3L133.5,75.1L134.4,74.9L135.4,74.7L136.4,74.5L137.4,74.3L138.4,74.1L139.4,73.9L140.3,73.7L141.3,73.5L142.3,73.3L143.3,73.1L144.3,72.9L145.3,72.8L146.3,72.6L147.2,72.4L148.2,72.2L149.2,72.1L150.2,71.9L151.2,71.7L152.2,71.5L153.2,71.4L154.2,71.2L155.1,71.1L156.1,70.9L157.1,70.8L158.1,70.6L159.1,70.5L160.1,70.3L161.1,70.2L162.1,70.0L163.1,69.9L164.1,69.8L165.1,69.6L166.1,69.5L167.0,69.4L168.0,69.2L169.0,69.1L170.0,69.0L171.0,68.9L172.0,68.8L173.0,68.7L174.0,68.5L175.0,68.4L176.0,68.3L177.0,68.2L178.0,68.1L179.0,68.0L180.0,67.9L181.0,67.9L182.0,67.8L183.0,67.7L184.0,67.6L185.0,67.5L186.0,67.5L187.0,67.4L188.0,67.3L189.0,67.2L190.0,67.2L191.0,67.1L192.0,67.1L193.0,67.0L194.0,67.0L195.0,66.9L196.0,66.9L197.0,66.8L198.0,66.8L199.0,66.7L200.0,66.7L201.0,66.7L202.0,66.7L203.0,66.6L204.0,66.6L205.0,66.6L206.0,66.6L207.0,66.6L208.0,66.6L209.0,66.5L210.0,66.5L211.0,66.6L212.0,66.6L213.0,66.6L214.0,66.6L215.0,66.6L216.0,66.6L217.0,66.6L218.0,66.7L219.0,66.7L220.0,66.7L221.0,66.8L222.0,66.8L223.0,66.9L224.0,66.9L225.0,67.0L226.0,67.0L227.0,67.1L228.0,67.2L229.0,67.2L230.0,67.3L231.0,67.4L232.0,67.5L233.0,67.6L234.0,67.7L235.0,67.8L236.0,67.9L237.0,68.0L238.0,68.1L239.0,68.2L240.0,68.3L241.0,68.5L242.0,68.6L243.0,68.7L244.0,68.9L245.0,69.0L246.0,69.2L247.0,69.3L247.9,69.5L248.9,69.7L249.9,69.8L250.9,70.0L251.9,70.2L252.9,70.4L253.9,70.6L254.8,70.8L255.8,71.0L256.8,71.2L257.8,71.4L258.7,71.7L259.7,71.9L260.7,72.1L261.7,72.4L262.6,72.6L263.6,72.9L264.6,73.1L265.5,73.4L266.5,73.7L267.5,73.9L268.4,74.2L269.4,74.5L270.4,74.8L271.3,75.1L272.3,75.4L273.2,75.7L274.2,76.0L275.1,76.4L276.1,76.7L277.0,77.0L277.9,77.4L278.9,77.7L279.8,78.1L280.8,78.4L281.7,78.8L282.6,79.2L283.5,79.6L284.5,80.0L285.4,80.3L286.3,80.7L287.2,81.1L288.1,81.5L289.1,82.0L290.0,82.4L290.9,82.8L291.8,83.2L292.7,83.7L293.6,84.1L294.5,84.6L295.4,85.0L296.3,85.5L297.2,85.9L298.0,86.4L298.9,86.9L299.8,87.4L300.7,87.9L301.5,88.3L302.4,88.8L303.3,89.3L304.1,89.9L305.0,90.4L305.9,90.9L306.7,91.4L307.6,91.9L308.4,92.5L309.3,93.0L310.1,93.6L310.9,94.1L311.8,94.7L312.6,95.2L313.4,95.8L314.3,96.4L315.1,96.9L315.9,97.5L316.7,98.1L317.5,98.7L318.3,99.3L319.1,99.9L319.9,100.5L320.7,101.1L321.5,101.7L322.3,102.4L323.1,103.0L323.8,103.6L324.6,104.3L325.4,104.9L326.1,105.6L326.9,106.2L327.7,106.9L328.4,107.5L329.2,108.2L329.9,108.9L330.6,109.5L331.4,110.2L332.1,110.9L332.8,111.6L333.6,112.3L334.3,113.0L335.0,113.7L335.7,114.4L336.4,115.1L337.1,115.8L337.8,116.5L338.5,117.3L339.2,118.0L339.9,118.7L340.6,119.5L341.2,120.2L341.9,120.9L342.6,121.7L343.3,122.4L343.9,123.2L344.6,123.9L345.2,124.7L345.9,125.4L346.5,126.2L347.2,127.0L347.8,127.7L348.5,128.5L349.1,129.3L349.7,130.1L350.4,130.9L351.0,131.6L351.6,132.4L352.2,133.2L352.8,134.0L353.4,134.8L354.0,135.6L354.6,136.4L355.2,137.2L355.8,138.0L356.4,138.8L357.0,139.6L357.6,140.4L358.2,141.3L358.8,142.1L359.4,142.9L359.9,143.7L360.5,144.5L361.1,145.4L361.6,146.2L362.2,147.0L362.8,147.9L363.3,148.7L363.9,149.5L364.4,150.4L365.0,151.2L365.5,152.0L366.1,152.9L366.6,153.7L367.1,154.6L367.7,155.4L368.2,156.3L368.7,157.1L369.3,158.0L369.8,158.8L370.3,159.7L370.8,160.5L371.4,161.4L371.9,162.2L372.4,163.1L372.9,164.0L373.4,164.8L373.9,165.7L374.4,166.6L374.9,167.4L375.4,168.3L375.9,169.2L376.4,170.0L376.9,170.9L377.4,171.8L377.9,172.7L378.4,173.5L378.9,174.4L379.4,175.3L379.8,176.2L380.3,177.0L380.8,177.9L381.3,178.8L381.8,179.7L382.2,180.6L382.7,181.4L383.2,182.3L383.7,183.2L384.1,184.1L384.6,185.0L385.1,185.9L385.5,186.7L386.0,187.6L386.5,188.5L386.9,189.4L387.4,190.3L387.9,191.2L388.3,192.1L388.8,193.0L389.2,193.9L389.7,194.8L390.1,195.6L390.6,196.5L391.1,197.4L391.5,198.3L392.0,199.2L392.4,200.1L392.9,201.0L393.3,201.9L393.7,202.8L394.2,203.7L394.6,204.6L395.1,205.5L395.5,206.4L396.0,207.3L396.4,208.2L396.8,209.1L397.3,210.0L397.7,210.9L398.2,211.8L398.6,212.7L399.0,213.6L399.5,214.5L399.9,215.4L400.3,216.3L400.7,217.2L401.2,218.1L401.6,219.1L402.0,220.0L402.4,220.9L402.9,221.8L403.3,222.7L403.7,223.6L404.1,224.5L404.6,225.4L405.0,226.3L405.4,227.2L405.8,228.1L406.2,229.1L406.6,230.0L407.0,230.9L407.5,231.8L407.9,232.7L408.3,233.6L408.7,234.5L409.1,235.5L409.5,236.4L409.9,237.3L410.3,238.2L410.7,239.1L411.1,240.0L411.5,241.0L411.9,241.9L412.3,242.8L412.7,243.7L413.1,244.6L413.5,245.6L413.9,246.5L414.3,247.4L414.7,248.3L415.1,249.3L415.5,250.2L415.8,251.1L416.2,252.0L416.6,253.0L417.0,253.9L417.4,254.8L417.8,255.7L418.1,256.7L418.5,257.6L418.9,258.5L419.3,259.4L419.7,260.4L420.0,261.3L420.4,262.2L420.8,263.2L421.2,264.1L421.5,265.0L421.9,265.9L422.3,266.9L422.7,267.8L423.0,268.7L423.4,269.7L423.8,270.6L424.1,271.5L424.5,272.5L424.8,273.4L425.2,274.3L425.6,275.3L425.9,276.2L426.3,277.1L426.7,278.1L427.0,279.0L427.4,279.9L427.7,280.9L428.1,281.8L428.4,282.8L428.8,283.7L429.2,284.6L429.5,285.6L429.9,286.5L430.2,287.4L430.6,288.4L430.9,289.3L431.3,290.3L431.6,291.2L432.0,292.1L432.3,293.1L432.7,294.0L433.0,295.0L433.3,295.9L433.7,296.8L434.0,297.8L434.4,298.7L434.7,299.7L435.1,300.6L435.4,301.5L435.8,302.5L436.1,303.4L436.4,304.4L436.8,305.3L437.1,306.3L437.5,307.2L437.8,308.1L438.1,309.1L438.5,310.0L438.8,311.0L439.2,311.9L439.5,312.9L439.8,313.8L440.2,314.7L440.5,315.7L440.9,316.6L441.2,317.6L441.5,318.5L441.9,319.5L442.2,320.4L442.5,321.3L442.9,322.3L443.2,323.2L443.5,324.2L443.9,325.1L444.2,326.1L444.6,327.0L444.9,328.0L445.2,328.9L445.6,329.8L445.9,330.8L446.2,331.7L446.6,332.7L446.9,333.6L447.2,334.6L447.6,335.5L447.9,336.5L448.3,337.4L448.6,338.3L448.9,339.3L449.3,340.2L449.6,341.2L449.9,342.1L450.3,343.1L450.6,344.0L450.9,344.9L451.3,345.9L451.6,346.8L452.0,347.8L452.3,348.7L452.6,349.7L453.0,350.6L453.3,351.6L453.7,352.5L454.0,353.4L454.3,354.4L454.7,355.3L455.0,356.3L455.4,357.2L455.7,358.2L456.0,359.1L456.4,360.0L456.7,361.0L457.1,361.9L457.4,362.9L457.8,363.8L458.1,364.7L458.4,365.7L458.8,366.6L459.1,367.6L459.5,368.5L459.8,369.4L460.2,370.4L460.5,371.3L460.9,372.3L461.2,373.2L461.6,374.1L461.9,375.1L462.3,376.0L462.6,377.0L463.0,377.9L463.3,378.8L463.7,379.8L464.0,380.7L464.4,381.6L464.8,382.6L465.1,383.5L465.5,384.5L465.8,385.4L466.2,386.3L466.6,387.3L466.9,388.2L467.3,389.1L467.6,390.1L468.0,391.0L468.4,391.9L468.7,392.9L469.1,393.8L469.5,394.7L469.8,395.7L470.2,396.6L470.6,397.5L470.9,398.5L471.3,399.4L471.7,400.3L472.1,401.2L472.4,402.2L472.8,403.1L473.2,404.0L473.6,405.0L474.0,405.9L474.3,406.8L474.7,407.7L475.1,408.7L475.5,409.6L475.9,410.5L476.3,411.4L476.6,412.4L477.0,413.3L477.4,414.2L477.8,415.1L478.2,416.1L478.6,417.0L479.0,417.9L479.4,418.8L479.8,419.7L480.2,420.7L480.6,421.6L481.0,422.5" fill="none" stroke="#ec1c24" stroke-width="2.3" stroke-linejoin="round"/>
<path d="M574.4,112.3L575.4,112.0L576.3,111.7L577.3,111.4L578.2,111.1L579.2,110.8L580.1,110.5L581.1,110.2L582.1,109.9L583.0,109.6L584.0,109.3L584.9,109.1L585.9,108.8L586.9,108.5L587.8,108.2L588.8,107.9L589.8,107.7L590.7,107.4L591.7,107.1L592.7,106.9L593.6,106.6L594.6,106.3L595.6,106.1L596.5,105.8L597.5,105.6L598.5,105.3L599.4,105.1L600.4,104.8L601.4,104.6L602.4,104.3L603.3,104.1L604.3,103.9L605.3,103.6L606.3,103.4L607.2,103.2L608.2,103.0L609.2,102.7L610.2,102.5L611.1,102.3L612.1,102.1L613.1,101.9L614.1,101.7L615.1,101.4L616.0,101.2L617.0,101.0L618.0,100.8L619.0,100.7L620.0,100.5L621.0,100.3L621.9,100.1L622.9,99.9L623.9,99.7L624.9,99.5L625.9,99.4L626.9,99.2L627.9,99.0L628.9,98.9L629.8,98.7L630.8,98.5L631.8,98.4L632.8,98.2L633.8,98.1L634.8,97.9L635.8,97.8L636.8,97.6L637.8,97.5L638.8,97.4L639.8,97.2L640.8,97.1L641.8,97.0L642.8,96.9L643.7,96.8L644.7,96.6L645.7,96.5L646.7,96.4L647.7,96.3L648.7,96.2L649.7,96.1L650.7,96.0L651.7,95.9L652.7,95.8L653.7,95.8L654.7,95.7L655.7,95.6L656.7,95.5L657.7,95.5L658.7,95.4L659.7,95.3L660.7,95.3L661.7,95.2L662.7,95.2L663.7,95.1L664.7,95.1L665.7,95.0L666.7,95.0L667.7,95.0L668.7,94.9L669.7,94.9L670.7,94.9L671.7,94.9L672.7,94.8L673.8,94.8L674.8,94.8L675.8,94.8L676.8,94.8L677.8,94.8L678.8,94.8L679.8,94.9L680.8,94.9L681.8,94.9L682.8,94.9L683.8,94.9L684.8,95.0L685.8,95.0L686.8,95.1L687.8,95.1L688.8,95.1L689.8,95.2L690.8,95.3L691.8,95.3L692.8,95.4L693.8,95.5L694.8,95.5L695.8,95.6L696.8,95.7L697.8,95.8L698.8,95.9L699.8,96.0L700.8,96.1L701.8,96.2L702.8,96.3L703.8,96.4L704.8,96.5L705.8,96.6L706.8,96.8L707.7,96.9L708.7,97.0L709.7,97.2L710.7,97.3L711.7,97.5L712.7,97.6L713.7,97.8L714.7,98.0L715.7,98.1L716.7,98.3L717.6,98.5L718.6,98.7L719.6,98.9L720.6,99.1L721.6,99.3L722.6,99.5L723.5,99.7L724.5,99.9L725.5,100.1L726.5,100.3L727.4,100.6L728.4,100.8L729.4,101.1L730.4,101.3L731.3,101.6L732.3,101.8L733.3,102.1L734.2,102.3L735.2,102.6L736.2,102.9L737.1,103.2L738.1,103.5L739.0,103.8L740.0,104.1L740.9,104.4L741.9,104.7L742.9,105.0L743.8,105.4L744.7,105.7L745.7,106.0L746.6,106.4L747.6,106.7L748.5,107.1L749.5,107.4L750.4,107.8L751.3,108.1L752.3,108.5L753.2,108.9L754.1,109.3L755.0,109.7L756.0,110.1L756.9,110.5L757.8,110.9L758.7,111.3L759.6,111.7L760.5,112.1L761.4,112.5L762.4,112.9L763.3,113.4L764.2,113.8L765.1,114.2L766.0,114.7L766.9,115.1L767.8,115.6L768.6,116.0L769.5,116.5L770.4,117.0L771.3,117.4L772.2,117.9L773.1,118.4L773.9,118.9L774.8,119.4L775.7,119.9L776.6,120.4L777.4,120.9L778.3,121.4L779.2,121.9L780.0,122.4L780.9,122.9L781.7,123.4L782.6,124.0L783.4,124.5L784.3,125.0L785.1,125.6L786.0,126.1L786.8,126.6L787.7,127.2L788.5,127.7L789.3,128.3L790.2,128.9L791.0,129.4L791.8,130.0L792.6,130.6L793.5,131.1L794.3,131.7L795.1,132.3L795.9,132.9L796.7,133.5L797.5,134.1L798.4,134.7L799.2,135.2L800.0,135.8L800.8,136.5L801.6,137.1L802.4,137.7L803.1,138.3L803.9,138.9L804.7,139.5L805.5,140.1L806.3,140.8L807.1,141.4L807.8,142.0L808.6,142.7L809.4,143.3L810.2,143.9L810.9,144.6L811.7,145.2L812.5,145.9L813.2,146.5L814.0,147.2L814.7,147.9L815.5,148.5L816.2,149.2L817.0,149.8L817.7,150.5L818.5,151.2L819.2,151.9L820.0,152.5L820.7,153.2L821.4,153.9L822.2,154.6L822.9,155.3L823.6,156.0L824.4,156.6L825.1,157.3L825.8,158.0L826.5,158.7L827.2,159.4L828.0,160.1L828.7,160.8L829.4,161.5L830.1,162.3L830.8,163.0L831.5,163.7L832.2,164.4L832.9,165.1L833.6,165.8L834.3,166.6L835.0,167.3L835.7,168.0L836.4,168.7L837.1,169.5L837.7,170.2L838.4,170.9L839.1,171.7L839.8,172.4L840.5,173.2L841.1,173.9L841.8,174.6L842.5,175.4L843.1,176.1L843.8,176.9L844.5,177.6L845.1,178.4L845.8,179.1L846.4,179.9L847.1,180.7L847.8,181.4L848.4,182.2L849.1,183.0L849.7,183.7L850.3,184.5L851.0,185.3L851.6,186.0L852.3,186.8L852.9,187.6L853.5,188.3L854.2,189.1L854.8,189.9L855.4,190.7L856.1,191.5L856.7,192.2L857.3,193.0L857.9,193.8L858.6,194.6L859.2,195.4L859.8,196.2L860.4,197.0L861.0,197.8L861.6,198.6L862.2,199.4L862.8,200.2L863.4,201.0L864.0,201.8L864.7,202.6L865.3,203.4L865.8,204.2L866.4,205.0L867.0,205.8L867.6,206.6L868.2,207.4L868.8,208.2L869.4,209.0L870.0,209.8L870.6,210.7L871.2,211.5L871.7,212.3L872.3,213.1L872.9,213.9L873.5,214.7L874.0,215.6L874.6,216.4L875.2,217.2L875.8,218.0L876.3,218.9L876.9,219.7L877.5,220.5L878.0,221.4L878.6,222.2L879.1,223.0L879.7,223.8L880.3,224.7L880.8,225.5L881.4,226.4L881.9,227.2L882.5,228.0L883.0,228.9L883.6,229.7L884.1,230.5L884.7,231.4L885.2,232.2L885.8,233.1L886.3,233.9L886.8,234.7L887.4,235.6L887.9,236.4L888.5,237.3L889.0,238.1L889.5,239.0L890.1,239.8L890.6,240.7L891.1,241.5L891.7,242.4L892.2,243.2L892.7,244.1L893.3,244.9L893.8,245.8L894.3,246.6L894.8,247.5L895.4,248.3L895.9,249.2L896.4,250.0L896.9,250.9L897.5,251.7L898.0,252.6L898.5,253.5L899.0,254.3L899.6,255.2L900.1,256.0L900.6,256.9L901.1,257.7L901.6,258.6L902.2,259.5L902.7,260.3L903.2,261.2L903.7,262.0L904.2,262.9L904.7,263.8L905.3,264.6L905.8,265.5L906.3,266.3L906.8,267.2L907.3,268.1L907.8,268.9L908.4,269.8L908.9,270.6L909.4,271.5L909.9,272.4L910.4,273.2L910.9,274.1L911.4,274.9L911.9,275.8L912.5,276.7L913.0,277.5L913.5,278.4L914.0,279.2L914.5,280.1L915.0,281.0L915.5,281.8L916.0,282.7L916.6,283.6L917.1,284.4L917.6,285.3L918.1,286.2L918.6,287.0L919.1,287.9L919.6,288.7L920.1,289.6L920.6,290.5L921.1,291.3L921.6,292.2L922.2,293.1L922.7,293.9L923.2,294.8L923.7,295.7L924.2,296.5L924.7,297.4L925.2,298.2L925.7,299.1L926.2,300.0L926.7,300.8L927.2,301.7L927.7,302.6L928.2,303.4L928.7,304.3L929.2,305.2L929.8,306.0L930.3,306.9L930.8,307.8L931.3,308.6L931.8,309.5L932.3,310.4L932.8,311.2L933.3,312.1L933.8,313.0L934.3,313.8L934.8,314.7L935.3,315.6L935.8,316.4L936.3,317.3L936.8,318.2L937.3,319.0L937.8,319.9L938.3,320.8L938.8,321.7L939.3,322.5L939.8,323.4L940.3,324.3L940.8,325.1L941.3,326.0L941.8,326.9L942.3,327.7L942.8,328.6L943.3,329.5L943.8,330.3L944.3,331.2L944.8,332.1L945.4,332.9L945.9,333.8L946.4,334.7L946.9,335.5L947.4,336.4L947.9,337.2L948.4,338.1L948.9,339.0L949.4,339.8L949.9,340.7L950.4,341.6L950.9,342.4L951.4,343.3L952.0,344.2L952.5,345.0L953.0,345.9L953.5,346.7L954.0,347.6L954.5,348.5L955.0,349.3L955.6,350.2L956.1,351.0L956.6,351.9L957.1,352.8L957.6,353.6L958.2,354.5L958.7,355.3L959.2,356.2L959.7,357.0L960.2,357.9L960.8,358.7L961.3,359.6L961.8,360.5L962.3,361.3L962.9,362.2L963.4,363.0L963.9,363.9L964.5,364.7L965.0,365.6L965.5,366.4L966.1,367.3L966.6,368.1L967.2,368.9L967.7,369.8L968.2,370.6L968.8,371.5L969.3,372.3L969.9,373.2L970.4,374.0L971.0,374.8L971.5,375.7L972.1,376.5L972.6,377.4L973.2,378.2L973.7,379.0L974.3,379.9L974.8,380.7L975.4,381.5L975.9,382.4L976.5,383.2L977.1,384.0L977.6,384.9L978.2,385.7L978.8,386.5L979.3,387.3L979.9,388.2L980.5,389.0L981.1,389.8L981.6,390.6L982.2,391.4L982.8,392.3L983.4,393.1L984.0,393.9L984.5,394.7L985.1,395.5L985.7,396.3L986.3,397.1L986.9,397.9L987.5,398.8L988.1,399.6L988.7,400.4L989.3,401.2L989.9,402.0L990.5,402.8L991.1,403.6L991.7,404.4L992.3,405.2L992.9,406.0L993.5,406.7L994.2,407.5L994.8,408.3L995.4,409.1L996.0,409.9L996.6,410.7L997.3,411.5L997.9,412.2" fill="none" stroke="#262a92" stroke-width="2.3" stroke-linecap="round" stroke-dasharray="3.7 6.38"/>
<path d="M574.4,132.0L575.4,131.9L576.4,131.8L577.4,131.8L578.4,131.7L579.4,131.6L580.4,131.5L581.4,131.5L582.4,131.4L583.4,131.3L584.4,131.3L585.4,131.2L586.4,131.2L587.4,131.1L588.4,131.0L589.4,131.0L590.4,131.0L591.4,130.9L592.4,130.9L593.4,130.8L594.4,130.8L595.4,130.8L596.4,130.7L597.4,130.7L598.4,130.7L599.4,130.7L600.4,130.7L601.5,130.6L602.5,130.6L603.5,130.6L604.5,130.6L605.5,130.6L606.5,130.6L607.5,130.6L608.5,130.6L609.5,130.6L610.5,130.6L611.5,130.6L612.5,130.7L613.5,130.7L614.5,130.7L615.5,130.7L616.5,130.8L617.5,130.8L618.5,130.8L619.5,130.9L620.5,130.9L621.5,130.9L622.5,131.0L623.5,131.0L624.5,131.1L625.5,131.1L626.5,131.2L627.5,131.2L628.5,131.3L629.5,131.4L630.5,131.4L631.5,131.5L632.5,131.6L633.5,131.6L634.5,131.7L635.5,131.8L636.5,131.9L637.5,132.0L638.5,132.0L639.5,132.1L640.5,132.2L641.5,132.3L642.5,132.4L643.5,132.5L644.5,132.6L645.5,132.7L646.5,132.8L647.5,132.9L648.5,133.1L649.5,133.2L650.5,133.3L651.5,133.4L652.5,133.5L653.5,133.7L654.5,133.8L655.5,133.9L656.5,134.1L657.5,134.2L658.5,134.3L659.5,134.5L660.5,134.6L661.5,134.8L662.4,134.9L663.4,135.1L664.4,135.2L665.4,135.4L666.4,135.5L667.4,135.7L668.4,135.9L669.4,136.0L670.4,136.2L671.4,136.4L672.3,136.6L673.3,136.7L674.3,136.9L675.3,137.1L676.3,137.3L677.3,137.5L678.3,137.7L679.3,137.9L680.2,138.1L681.2,138.3L682.2,138.5L683.2,138.7L684.2,138.9L685.2,139.1L686.1,139.3L687.1,139.5L688.1,139.7L689.1,139.9L690.1,140.1L691.0,140.4L692.0,140.6L693.0,140.8L694.0,141.1L694.9,141.3L695.9,141.5L696.9,141.8L697.9,142.0L698.8,142.2L699.8,142.5L700.8,142.7L701.8,143.0L702.7,143.2L703.7,143.5L704.7,143.7L705.6,144.0L706.6,144.3L707.6,144.5L708.5,144.8L709.5,145.1L710.5,145.3L711.4,145.6L712.4,145.9L713.4,146.1L714.3,146.4L715.3,146.7L716.3,147.0L717.2,147.3L718.2,147.6L719.1,147.9L720.1,148.2L721.1,148.5L722.0,148.7L723.0,149.0L723.9,149.4L724.9,149.7L725.8,150.0L726.8,150.3L727.8,150.6L728.7,150.9L729.7,151.2L730.6,151.5L731.6,151.9L732.5,152.2L733.5,152.5L734.4,152.8L735.4,153.2L736.3,153.5L737.3,153.8L738.2,154.2L739.1,154.5L740.1,154.8L741.0,155.2L742.0,155.5L742.9,155.9L743.9,156.2L744.8,156.6L745.7,156.9L746.7,157.3L747.6,157.6L748.5,158.0L749.5,158.4L750.4,158.7L751.3,159.1L752.3,159.5L753.2,159.8L754.1,160.2L755.1,160.6L756.0,161.0L756.9,161.3L757.9,161.7L758.8,162.1L759.7,162.5L760.6,162.9L761.6,163.3L762.5,163.7L763.4,164.1L764.3,164.5L765.3,164.9L766.2,165.3L767.1,165.7L768.0,166.1L768.9,166.5L769.8,166.9L770.8,167.3L771.7,167.7L772.6,168.1L773.5,168.5L774.4,169.0L775.3,169.4L776.2,169.8L777.1,170.2L778.1,170.7L779.0,171.1L779.9,171.5L780.8,171.9L781.7,172.4L782.6,172.8L783.5,173.3L784.4,173.7L785.3,174.1L786.2,174.6L787.1,175.0L788.0,175.5L788.9,175.9L789.8,176.4L790.7,176.8L791.6,177.3L792.4,177.8L793.3,178.2L794.2,178.7L795.1,179.2L796.0,179.6L796.9,180.1L797.8,180.6L798.7,181.0L799.6,181.5L800.4,182.0L801.3,182.5L802.2,182.9L803.1,183.4L804.0,183.9L804.8,184.4L805.7,184.9L806.6,185.4L807.5,185.9L808.3,186.4L809.2,186.9L810.1,187.4L810.9,187.9L811.8,188.4L812.7,188.9L813.6,189.4L814.4,189.9L815.3,190.4L816.1,190.9L817.0,191.4L817.9,191.9L818.7,192.4L819.6,193.0L820.5,193.5L821.3,194.0L822.2,194.5L823.0,195.0L823.9,195.6L824.7,196.1L825.6,196.6L826.4,197.2L827.3,197.7L828.1,198.2L829.0,198.8L829.8,199.3L830.7,199.9L831.5,200.4L832.3,200.9L833.2,201.5L834.0,202.0L834.9,202.6L835.7,203.1L836.5,203.7L837.4,204.3L838.2,204.8L839.0,205.4L839.9,205.9L840.7,206.5L841.5,207.1L842.4,207.6L843.2,208.2L844.0,208.8L844.8,209.3L845.7,209.9L846.5,210.5L847.3,211.0L848.1,211.6L849.0,212.2L849.8,212.8L850.6,213.3L851.4,213.9L852.3,214.5L853.1,215.1L853.9,215.7L854.7,216.2L855.5,216.8L856.3,217.4L857.2,218.0L858.0,218.6L858.8,219.1L859.6,219.7L860.4,220.3L861.2,220.9L862.1,221.5L862.9,222.1L863.7,222.7L864.5,223.3L865.3,223.8L866.1,224.4L866.9,225.0L867.7,225.6L868.5,226.2L869.3,226.8L870.1,227.4L871.0,228.0L871.8,228.6L872.6,229.2L873.3,229.8L874.1,230.5L874.9,231.1L875.7,231.7L876.5,232.3L877.3,232.9L878.1,233.5L878.9,234.2L879.7,234.8L880.5,235.4L881.3,236.0L882.0,236.7L882.8,237.3L883.6,237.9L884.4,238.5L885.2,239.2L885.9,239.8L886.7,240.5L887.5,241.1L888.3,241.7L889.0,242.4L889.8,243.0L890.6,243.7L891.3,244.3L892.1,244.9L892.9,245.6L893.6,246.2L894.4,246.9L895.2,247.5L895.9,248.2L896.7,248.8L897.5,249.5L898.2,250.1L899.0,250.8L899.7,251.5L900.5,252.1L901.3,252.8L902.0,253.4L902.8,254.1L903.5,254.7L904.3,255.4L905.0,256.1L905.8,256.7L906.6,257.4L907.3,258.0L908.1,258.7L908.8,259.4L909.6,260.0L910.3,260.7L911.1,261.4L911.8,262.0L912.6,262.7L913.3,263.4L914.1,264.0L914.8,264.7L915.6,265.4L916.3,266.0L917.1,266.7L917.8,267.4L918.6,268.0L919.3,268.7L920.1,269.4L920.8,270.0L921.6,270.7L922.3,271.4L923.1,272.0L923.8,272.7L924.6,273.4L925.3,274.0L926.1,274.7L926.8,275.4L927.6,276.1L928.3,276.7L929.0,277.4L929.8,278.1L930.5,278.7L931.3,279.4L932.0,280.1L932.8,280.8L933.5,281.4L934.3,282.1L935.0,282.8L935.7,283.5L936.5,284.1L937.2,284.8L938.0,285.5L938.7,286.2L939.5,286.8L940.2,287.5L940.9,288.2L941.7,288.9L942.4,289.5L943.2,290.2L943.9,290.9L944.6,291.6L945.4,292.3L946.1,292.9L946.9,293.6L947.6,294.3L948.3,295.0L949.1,295.7L949.8,296.3L950.5,297.0L951.3,297.7L952.0,298.4L952.8,299.1L953.5,299.7L954.2,300.4L955.0,301.1L955.7,301.8L956.4,302.5L957.2,303.2L957.9,303.8L958.6,304.5L959.4,305.2L960.1,305.9L960.8,306.6L961.6,307.3L962.3,307.9L963.0,308.6L963.8,309.3L964.5,310.0L965.2,310.7L966.0,311.4L966.7,312.1L967.4,312.7L968.2,313.4L968.9,314.1L969.6,314.8L970.4,315.5L971.1,316.2L971.8,316.9L972.5,317.6L973.3,318.3L974.0,318.9L974.7,319.6L975.5,320.3L976.2,321.0L976.9,321.7L977.6,322.4L978.4,323.1L979.1,323.8L979.8,324.5L980.5,325.2L981.3,325.9L982.0,326.6L982.7,327.2L983.5,327.9L984.2,328.6L984.9,329.3L985.6,330.0L986.3,330.7L987.1,331.4L987.8,332.1L988.5,332.8L989.2,333.5L990.0,334.2L990.7,334.9L991.4,335.6L992.1,336.3L992.9,337.0L993.6,337.7L994.3,338.4L995.0,339.1L995.7,339.8L996.5,340.5L997.2,341.2L997.9,341.9" fill="none" stroke="#95449f" stroke-width="1.75" stroke-linecap="round" stroke-dasharray="4.0 4.05"/>
<path d="M574.4,365.1L575.4,365.0L576.4,364.9L577.4,364.8L578.4,364.8L579.4,364.7L580.4,364.6L581.4,364.6L582.4,364.5L583.4,364.4L584.4,364.4L585.4,364.3L586.4,364.3L587.4,364.2L588.4,364.1L589.4,364.1L590.4,364.0L591.4,364.0L592.4,363.9L593.4,363.9L594.4,363.8L595.4,363.8L596.4,363.7L597.4,363.7L598.4,363.6L599.4,363.6L600.4,363.5L601.4,363.5L602.4,363.5L603.4,363.4L604.5,363.4L605.5,363.4L606.5,363.3L607.5,363.3L608.5,363.3L609.5,363.2L610.5,363.2L611.5,363.2L612.5,363.1L613.5,363.1L614.5,363.1L615.5,363.1L616.5,363.0L617.5,363.0L618.5,363.0L619.5,363.0L620.5,363.0L621.5,362.9L622.5,362.9L623.5,362.9L624.5,362.9L625.5,362.9L626.5,362.9L627.5,362.9L628.5,362.9L629.5,362.8L630.5,362.8L631.5,362.8L632.5,362.8L633.5,362.8L634.5,362.8L635.5,362.8L636.5,362.8L637.6,362.8L638.6,362.8L639.6,362.8L640.6,362.8L641.6,362.8L642.6,362.9L643.6,362.9L644.6,362.9L645.6,362.9L646.6,362.9L647.6,362.9L648.6,362.9L649.6,362.9L650.6,363.0L651.6,363.0L652.6,363.0L653.6,363.0L654.6,363.0L655.6,363.1L656.6,363.1L657.6,363.1L658.6,363.1L659.6,363.2L660.6,363.2L661.6,363.2L662.6,363.3L663.6,363.3L664.6,363.3L665.6,363.4L666.6,363.4L667.6,363.4L668.6,363.5L669.6,363.5L670.7,363.6L671.7,363.6L672.7,363.6L673.7,363.7L674.7,363.7L675.7,363.8L676.7,363.8L677.7,363.9L678.7,363.9L679.7,364.0L680.7,364.0L681.7,364.1L682.7,364.1L683.7,364.2L684.7,364.2L685.7,364.3L686.7,364.4L687.7,364.4L688.7,364.5L689.7,364.5L690.7,364.6L691.7,364.7L692.7,364.7L693.7,364.8L694.7,364.9L695.7,364.9L696.7,365.0L697.7,365.1L698.7,365.1L699.7,365.2L700.7,365.3L701.7,365.4L702.7,365.4L703.7,365.5L704.7,365.6L705.7,365.7L706.7,365.8L707.7,365.8L708.7,365.9L709.7,366.0L710.7,366.1L711.7,366.2L712.7,366.3L713.7,366.4L714.7,366.4L715.7,366.5L716.7,366.6L717.7,366.7L718.7,366.8L719.7,366.9L720.7,367.0L721.7,367.1L722.7,367.2L723.7,367.3L724.7,367.4L725.7,367.5L726.7,367.6L727.7,367.7L728.7,367.8L729.7,367.9L730.7,368.0L731.7,368.1L732.7,368.2L733.7,368.3L734.7,368.5L735.7,368.6L736.7,368.7L737.7,368.8L738.6,368.9L739.6,369.0L740.6,369.1L741.6,369.3L742.6,369.4L743.6,369.5L744.6,369.6L745.6,369.7L746.6,369.9L747.6,370.0L748.6,370.1L749.6,370.2L750.6,370.4L751.6,370.5L752.6,370.6L753.6,370.7L754.6,370.9L755.6,371.0L756.6,371.1L757.6,371.3L758.6,371.4L759.6,371.5L760.5,371.7L761.5,371.8L762.5,372.0L763.5,372.1L764.5,372.2L765.5,372.4L766.5,372.5L767.5,372.7L768.5,372.8L769.5,373.0L770.5,373.1L771.5,373.3L772.5,373.4L773.5,373.6L774.4,373.7L775.4,373.9L776.4,374.0L777.4,374.2L778.4,374.3L779.4,374.5L780.4,374.6L781.4,374.8L782.4,375.0L783.4,375.1L784.4,375.3L785.3,375.4L786.3,375.6L787.3,375.8L788.3,375.9L789.3,376.1L790.3,376.3L791.3,376.4L792.3,376.6L793.3,376.8L794.2,376.9L795.2,377.1L796.2,377.3L797.2,377.5L798.2,377.6L799.2,377.8L800.2,378.0L801.2,378.2L802.2,378.3L803.1,378.5L804.1,378.7L805.1,378.9L806.1,379.1L807.1,379.2L808.1,379.4L809.1,379.6L810.0,379.8L811.0,380.0L812.0,380.2L813.0,380.4L814.0,380.5L815.0,380.7L816.0,380.9L816.9,381.1L817.9,381.3L818.9,381.5L819.9,381.7L820.9,381.9L821.9,382.1L822.8,382.3L823.8,382.5L824.8,382.7L825.8,382.9L826.8,383.1L827.8,383.3L828.7,383.5L829.7,383.7L830.7,383.9L831.7,384.1L832.7,384.3L833.7,384.5L834.6,384.7L835.6,384.9L836.6,385.1L837.6,385.4L838.6,385.6L839.5,385.8L840.5,386.0L841.5,386.2L842.5,386.4L843.5,386.6L844.4,386.9L845.4,387.1L846.4,387.3L847.4,387.5L848.4,387.7L849.3,388.0L850.3,388.2L851.3,388.4L852.3,388.6L853.3,388.8L854.2,389.1L855.2,389.3L856.2,389.5L857.2,389.7L858.1,390.0L859.1,390.2L860.1,390.4L861.1,390.7L862.0,390.9L863.0,391.1L864.0,391.3L865.0,391.6L866.0,391.8L866.9,392.0L867.9,392.3L868.9,392.5L869.9,392.7L870.8,393.0L871.8,393.2L872.8,393.4L873.8,393.7L874.7,393.9L875.7,394.2L876.7,394.4L877.7,394.6L878.6,394.9L879.6,395.1L880.6,395.4L881.5,395.6L882.5,395.8L883.5,396.1L884.5,396.3L885.4,396.6L886.4,396.8L887.4,397.1L888.4,397.3L889.3,397.6L890.3,397.8L891.3,398.0L892.3,398.3L893.2,398.5L894.2,398.8L895.2,399.0L896.1,399.3L897.1,399.5L898.1,399.8L899.1,400.0L900.0,400.3L901.0,400.5L902.0,400.8L902.9,401.0L903.9,401.3L904.9,401.5L905.9,401.8L906.8,402.0L907.8,402.3L908.8,402.6L909.7,402.8L910.7,403.1L911.7,403.3L912.6,403.6L913.6,403.8L914.6,404.1L915.6,404.3L916.5,404.6L917.5,404.9L918.5,405.1L919.4,405.4L920.4,405.6L921.4,405.9L922.3,406.1L923.3,406.4L924.3,406.7L925.3,406.9L926.2,407.2L927.2,407.4L928.2,407.7L929.1,408.0L930.1,408.2L931.1,408.5L932.0,408.7L933.0,409.0L934.0,409.3L934.9,409.5L935.9,409.8L936.9,410.0L937.9,410.3L938.8,410.6L939.8,410.8L940.8,411.1L941.7,411.3L942.7,411.6L943.7,411.9L944.6,412.1L945.6,412.4L946.6,412.7L947.5,412.9L948.5,413.2L949.5,413.4L950.4,413.7L951.4,414.0L952.4,414.2L953.3,414.5L954.3,414.8L955.3,415.0L956.3,415.3L957.2,415.5L958.2,415.8L959.2,416.1L960.1,416.3L961.1,416.6L962.1,416.9L963.0,417.1L964.0,417.4L965.0,417.7L965.9,417.9L966.9,418.2L967.9,418.4L968.8,418.7L969.8,419.0L970.8,419.2L971.7,419.5L972.7,419.8L973.7,420.0L974.6,420.3L975.6,420.5L976.6,420.8L977.6,421.1L978.5,421.3L979.5,421.6L980.5,421.9L981.4,422.1L982.4,422.4L983.4,422.6L984.3,422.9L985.3,423.2L986.3,423.4L987.2,423.7L988.2,423.9L989.2,424.2L990.1,424.5L991.1,424.7L992.1,425.0L993.1,425.2L994.0,425.5L995.0,425.8L996.0,426.0L996.9,426.3L997.9,426.5" fill="none" stroke="#b4241a" stroke-width="2.85" stroke-linecap="round" stroke-dasharray="0 6.3"/>
<path d="M574.4,203.7L575.3,203.3L576.3,203.0L577.2,202.6L578.2,202.3L579.1,201.9L580.0,201.6L581.0,201.2L581.9,200.9L582.8,200.5L583.8,200.2L584.7,199.8L585.7,199.4L586.6,199.1L587.5,198.8L588.5,198.4L589.4,198.1L590.4,197.7L591.3,197.4L592.3,197.0L593.2,196.7L594.1,196.3L595.1,196.0L596.0,195.7L597.0,195.3L597.9,195.0L598.9,194.6L599.8,194.3L600.8,194.0L601.7,193.6L602.6,193.3L603.6,193.0L604.5,192.6L605.5,192.3L606.4,192.0L607.4,191.7L608.3,191.3L609.3,191.0L610.2,190.7L611.2,190.4L612.1,190.1L613.1,189.7L614.0,189.4L615.0,189.1L615.9,188.8L616.9,188.5L617.9,188.2L618.8,187.9L619.8,187.6L620.7,187.3L621.7,187.0L622.6,186.7L623.6,186.4L624.6,186.1L625.5,185.8L626.5,185.5L627.4,185.2L628.4,184.9L629.4,184.6L630.3,184.4L631.3,184.1L632.2,183.8L633.2,183.5L634.2,183.3L635.1,183.0L636.1,182.7L637.1,182.4L638.0,182.2L639.0,181.9L640.0,181.7L641.0,181.4L641.9,181.2L642.9,180.9L643.9,180.7L644.8,180.4L645.8,180.2L646.8,179.9L647.8,179.7L648.7,179.5L649.7,179.2L650.7,179.0L651.7,178.8L652.6,178.6L653.6,178.3L654.6,178.1L655.6,177.9L656.6,177.7L657.5,177.5L658.5,177.3L659.5,177.1L660.5,176.9L661.5,176.7L662.5,176.5L663.4,176.3L664.4,176.1L665.4,176.0L666.4,175.8L667.4,175.6L668.4,175.4L669.4,175.3L670.4,175.1L671.4,174.9L672.3,174.8L673.3,174.6L674.3,174.5L675.3,174.4L676.3,174.2L677.3,174.1L678.3,174.0L679.3,173.8L680.3,173.7L681.3,173.6L682.3,173.5L683.3,173.4L684.3,173.3L685.3,173.2L686.3,173.1L687.3,173.0L688.3,172.9L689.3,172.8L690.3,172.7L691.3,172.6L692.3,172.6L693.3,172.5L694.3,172.4L695.3,172.4L696.3,172.3L697.3,172.3L698.3,172.2L699.3,172.2L700.3,172.2L701.3,172.2L702.3,172.1L703.3,172.1L704.3,172.1L705.3,172.1L706.3,172.1L707.3,172.1L708.3,172.1L709.3,172.1L710.3,172.1L711.3,172.2L712.3,172.2L713.3,172.2L714.3,172.3L715.3,172.3L716.3,172.4L717.3,172.4L718.3,172.5L719.3,172.5L720.3,172.6L721.3,172.7L722.3,172.8L723.3,172.9L724.3,172.9L725.3,173.0L726.3,173.1L727.3,173.3L728.3,173.4L729.3,173.5L730.3,173.6L731.3,173.7L732.3,173.9L733.3,174.0L734.3,174.2L735.3,174.3L736.3,174.5L737.3,174.6L738.3,174.8L739.2,175.0L740.2,175.2L741.2,175.4L742.2,175.6L743.2,175.8L744.2,176.0L745.1,176.2L746.1,176.4L747.1,176.6L748.1,176.8L749.1,177.1L750.0,177.3L751.0,177.6L752.0,177.8L752.9,178.1L753.9,178.3L754.9,178.6L755.8,178.9L756.8,179.2L757.8,179.4L758.7,179.7L759.7,180.0L760.6,180.3L761.6,180.7L762.5,181.0L763.5,181.3L764.4,181.6L765.4,182.0L766.3,182.3L767.3,182.7L768.2,183.0L769.1,183.4L770.1,183.7L771.0,184.1L771.9,184.5L772.9,184.9L773.8,185.2L774.7,185.6L775.6,186.0L776.6,186.4L777.5,186.8L778.4,187.2L779.3,187.7L780.2,188.1L781.1,188.5L782.0,188.9L782.9,189.4L783.8,189.8L784.7,190.3L785.6,190.7L786.5,191.2L787.4,191.6L788.3,192.1L789.2,192.6L790.1,193.0L790.9,193.5L791.8,194.0L792.7,194.5L793.6,195.0L794.4,195.5L795.3,196.0L796.2,196.5L797.0,197.0L797.9,197.5L798.8,198.0L799.6,198.5L800.5,199.1L801.3,199.6L802.2,200.1L803.0,200.7L803.9,201.2L804.7,201.8L805.6,202.3L806.4,202.9L807.2,203.4L808.1,204.0L808.9,204.5L809.7,205.1L810.5,205.7L811.4,206.2L812.2,206.8L813.0,207.4L813.8,208.0L814.6,208.6L815.4,209.2L816.3,209.8L817.1,210.3L817.9,210.9L818.7,211.6L819.5,212.2L820.3,212.8L821.1,213.4L821.8,214.0L822.6,214.6L823.4,215.2L824.2,215.9L825.0,216.5L825.8,217.1L826.5,217.8L827.3,218.4L828.1,219.0L828.9,219.7L829.6,220.3L830.4,221.0L831.2,221.6L831.9,222.3L832.7,222.9L833.4,223.6L834.2,224.3L834.9,224.9L835.7,225.6L836.4,226.3L837.2,226.9L837.9,227.6L838.6,228.3L839.4,229.0L840.1,229.7L840.8,230.4L841.6,231.0L842.3,231.7L843.0,232.4L843.7,233.1L844.5,233.8L845.2,234.5L845.9,235.2L846.6,235.9L847.3,236.6L848.0,237.3L848.7,238.1L849.4,238.8L850.1,239.5L850.8,240.2L851.5,240.9L852.2,241.7L852.9,242.4L853.6,243.1L854.3,243.8L855.0,244.6L855.7,245.3L856.4,246.0L857.1,246.8L857.7,247.5L858.4,248.2L859.1,249.0L859.8,249.7L860.4,250.5L861.1,251.2L861.8,252.0L862.4,252.7L863.1,253.5L863.8,254.2L864.4,255.0L865.1,255.7L865.7,256.5L866.4,257.3L867.0,258.0L867.7,258.8L868.4,259.5L869.0,260.3L869.6,261.1L870.3,261.8L870.9,262.6L871.6,263.4L872.2,264.2L872.9,264.9L873.5,265.7L874.1,266.5L874.8,267.3L875.4,268.0L876.0,268.8L876.6,269.6L877.3,270.4L877.9,271.2L878.5,271.9L879.2,272.7L879.8,273.5L880.4,274.3L881.0,275.1L881.6,275.9L882.2,276.7L882.9,277.5L883.5,278.3L884.1,279.1L884.7,279.9L885.3,280.6L885.9,281.4L886.5,282.2L887.1,283.0L887.7,283.8L888.3,284.6L889.0,285.4L889.6,286.2L890.2,287.0L890.8,287.8L891.4,288.7L892.0,289.5L892.6,290.3L893.2,291.1L893.7,291.9L894.3,292.7L894.9,293.5L895.5,294.3L896.1,295.1L896.7,295.9L897.3,296.7L897.9,297.5L898.5,298.4L899.1,299.2L899.7,300.0L900.3,300.8L900.8,301.6L901.4,302.4L902.0,303.2L902.6,304.0L903.2,304.9L903.8,305.7L904.3,306.5L904.9,307.3L905.5,308.1L906.1,308.9L906.7,309.8L907.3,310.6L907.8,311.4L908.4,312.2L909.0,313.0L909.6,313.9L910.2,314.7L910.7,315.5L911.3,316.3L911.9,317.1L912.5,317.9L913.0,318.8L913.6,319.6L914.2,320.4L914.8,321.2L915.4,322.0L915.9,322.9L916.5,323.7L917.1,324.5L917.7,325.3L918.2,326.1L918.8,327.0L919.4,327.8L920.0,328.6L920.6,329.4L921.1,330.2L921.7,331.1L922.3,331.9L922.9,332.7L923.4,333.5L924.0,334.3L924.6,335.2L925.2,336.0L925.8,336.8L926.3,337.6L926.9,338.4L927.5,339.3L928.1,340.1L928.7,340.9L929.2,341.7L929.8,342.5L930.4,343.4L931.0,344.2L931.6,345.0L932.1,345.8L932.7,346.6L933.3,347.4L933.9,348.2L934.5,349.1L935.1,349.9L935.7,350.7L936.2,351.5L936.8,352.3L937.4,353.1L938.0,353.9L938.6,354.8L939.2,355.6L939.8,356.4L940.4,357.2L941.0,358.0L941.6,358.8L942.2,359.6L942.8,360.4L943.4,361.2L943.9,362.0L944.5,362.8L945.1,363.6L945.7,364.4L946.3,365.2L947.0,366.0L947.6,366.8L948.2,367.6L948.8,368.4L949.4,369.2L950.0,370.0L950.6,370.8L951.2,371.6L951.8,372.4L952.4,373.2L953.0,374.0L953.6,374.8L954.3,375.6L954.9,376.4L955.5,377.2L956.1,378.0L956.7,378.8L957.4,379.5L958.0,380.3L958.6,381.1L959.2,381.9L959.9,382.7L960.5,383.5L961.1,384.2L961.8,385.0L962.4,385.8L963.0,386.6L963.7,387.3L964.3,388.1L965.0,388.9L965.6,389.7L966.2,390.4L966.9,391.2L967.5,392.0L968.2,392.7L968.8,393.5L969.5,394.3L970.1,395.0L970.8,395.8L971.4,396.5L972.1,397.3L972.8,398.0L973.4,398.8L974.1,399.5L974.8,400.3L975.4,401.0L976.1,401.8L976.8,402.5L977.4,403.3L978.1,404.0L978.8,404.8L979.5,405.5L980.2,406.2L980.8,407.0L981.5,407.7L982.2,408.4L982.9,409.2L983.6,409.9L984.3,410.6L985.0,411.3L985.7,412.0L986.4,412.8L987.1,413.5L987.8,414.2L988.5,414.9L989.2,415.6L989.9,416.3L990.6,417.0L991.4,417.7L992.1,418.4L992.8,419.1L993.5,419.8L994.2,420.5L995.0,421.2L995.7,421.9L996.4,422.6L997.2,423.3L997.9,423.9" fill="none" stroke="#ec1c24" stroke-width="2.3" stroke-linejoin="round"/>
<path d="M57.5,596.3L58.5,596.2L59.5,596.2L60.5,596.1L61.5,596.0L62.5,595.9L63.5,595.8L64.5,595.7L65.5,595.6L66.5,595.5L67.5,595.4L68.5,595.3L69.5,595.2L70.5,595.1L71.5,595.0L72.5,594.9L73.5,594.8L74.5,594.7L75.5,594.7L76.4,594.6L77.4,594.5L78.4,594.4L79.4,594.3L80.4,594.2L81.4,594.1L82.4,594.0L83.4,593.9L84.4,593.9L85.4,593.8L86.4,593.7L87.4,593.6L88.4,593.5L89.4,593.4L90.4,593.4L91.4,593.3L92.4,593.2L93.4,593.1L94.4,593.0L95.4,593.0L96.4,592.9L97.4,592.8L98.4,592.7L99.4,592.6L100.4,592.6L101.4,592.5L102.4,592.4L103.4,592.3L104.4,592.3L105.4,592.2L106.4,592.1L107.4,592.1L108.4,592.0L109.4,591.9L110.4,591.9L111.4,591.8L112.4,591.7L113.4,591.7L114.4,591.6L115.4,591.5L116.4,591.5L117.4,591.4L118.4,591.3L119.4,591.3L120.4,591.2L121.4,591.2L122.4,591.1L123.4,591.1L124.4,591.0L125.4,591.0L126.4,590.9L127.4,590.8L128.4,590.8L129.4,590.7L130.4,590.7L131.4,590.7L132.4,590.6L133.4,590.6L134.4,590.5L135.4,590.5L136.4,590.4L137.4,590.4L138.4,590.4L139.4,590.3L140.4,590.3L141.4,590.3L142.4,590.2L143.4,590.2L144.4,590.2L145.4,590.1L146.4,590.1L147.4,590.1L148.4,590.0L149.4,590.0L150.4,590.0L151.4,590.0L152.4,590.0L153.4,589.9L154.4,589.9L155.4,589.9L156.4,589.9L157.4,589.9L158.4,589.9L159.4,589.8L160.4,589.8L161.4,589.8L162.4,589.8L163.4,589.8L164.4,589.8L165.4,589.8L166.4,589.8L167.4,589.8L168.4,589.8L169.4,589.8L170.4,589.8L171.4,589.8L172.4,589.8L173.4,589.9L174.5,589.9L175.5,589.9L176.5,589.9L177.5,589.9L178.5,589.9L179.5,590.0L180.5,590.0L181.5,590.0L182.5,590.0L183.5,590.1L184.5,590.1L185.5,590.1L186.5,590.1L187.5,590.2L188.5,590.2L189.5,590.3L190.5,590.3L191.5,590.3L192.5,590.4L193.5,590.4L194.5,590.5L195.5,590.5L196.5,590.6L197.5,590.6L198.5,590.7L199.5,590.7L200.5,590.8L201.5,590.9L202.5,590.9L203.5,591.0L204.5,591.1L205.5,591.1L206.5,591.2L207.5,591.3L208.5,591.3L209.5,591.4L210.5,591.5L211.5,591.6L212.5,591.7L213.5,591.8L214.5,591.8L215.5,591.9L216.5,592.0L217.5,592.1L218.4,592.2L219.4,592.3L220.4,592.4L221.4,592.5L222.4,592.6L223.4,592.7L224.4,592.8L225.4,592.9L226.4,593.1L227.4,593.2L228.4,593.3L229.4,593.4L230.4,593.5L231.4,593.7L232.4,593.8L233.4,593.9L234.4,594.0L235.4,594.2L236.4,594.3L237.3,594.5L238.3,594.6L239.3,594.7L240.3,594.9L241.3,595.0L242.3,595.2L243.3,595.3L244.3,595.5L245.3,595.6L246.3,595.8L247.2,596.0L248.2,596.1L249.2,596.3L250.2,596.5L251.2,596.7L252.2,596.8L253.2,597.0L254.1,597.2L255.1,597.4L256.1,597.6L257.1,597.8L258.1,598.0L259.1,598.2L260.0,598.4L261.0,598.6L262.0,598.8L263.0,599.0L264.0,599.2L264.9,599.4L265.9,599.6L266.9,599.9L267.9,600.1L268.8,600.3L269.8,600.6L270.8,600.8L271.8,601.1L272.7,601.3L273.7,601.6L274.7,601.8L275.6,602.1L276.6,602.3L277.6,602.6L278.5,602.9L279.5,603.2L280.5,603.4L281.4,603.7L282.4,604.0L283.3,604.3L284.3,604.6L285.2,604.9L286.2,605.2L287.1,605.5L288.1,605.8L289.0,606.2L290.0,606.5L290.9,606.8L291.9,607.1L292.8,607.5L293.8,607.8L294.7,608.2L295.6,608.5L296.6,608.9L297.5,609.3L298.4,609.6L299.4,610.0L300.3,610.4L301.2,610.8L302.1,611.2L303.1,611.5L304.0,611.9L304.9,612.4L305.8,612.8L306.7,613.2L307.6,613.6L308.5,614.0L309.4,614.5L310.3,614.9L311.2,615.3L312.1,615.8L313.0,616.2L313.9,616.7L314.8,617.2L315.7,617.6L316.6,618.1L317.5,618.6L318.3,619.0L319.2,619.5L320.1,620.0L321.0,620.5L321.8,621.0L322.7,621.5L323.6,622.0L324.4,622.6L325.3,623.1L326.1,623.6L327.0,624.1L327.8,624.7L328.7,625.2L329.5,625.8L330.3,626.3L331.2,626.9L332.0,627.4L332.8,628.0L333.6,628.6L334.5,629.1L335.3,629.7L336.1,630.3L336.9,630.9L337.7,631.5L338.5,632.1L339.3,632.7L340.1,633.3L340.9,633.9L341.7,634.5L342.5,635.2L343.3,635.8L344.0,636.4L344.8,637.0L345.6,637.7L346.3,638.3L347.1,639.0L347.9,639.6L348.6,640.3L349.4,641.0L350.1,641.6L350.9,642.3L351.6,643.0L352.3,643.7L353.1,644.3L353.8,645.0L354.5,645.7L355.2,646.4L355.9,647.1L356.7,647.8L357.4,648.5L358.1,649.3L358.8,650.0L359.4,650.7L360.1,651.4L360.8,652.2L361.5,652.9L362.2,653.6L362.8,654.4L363.5,655.1L364.2,655.9L364.8,656.6L365.5,657.4L366.1,658.2L366.8,658.9L367.4,659.7L368.0,660.5L368.7,661.3L369.3,662.0L369.9,662.8L370.5,663.6L371.2,664.4L371.8,665.2L372.4,666.0L373.0,666.8L373.6,667.6L374.2,668.4L374.8,669.2L375.3,670.0L375.9,670.8L376.5,671.7L377.1,672.5L377.7,673.3L378.2,674.1L378.8,675.0L379.3,675.8L379.9,676.6L380.5,677.5L381.0,678.3L381.5,679.1L382.1,680.0L382.6,680.8L383.2,681.7L383.7,682.5L384.2,683.4L384.7,684.2L385.3,685.1L385.8,685.9L386.3,686.8L386.8,687.7L387.3,688.5L387.8,689.4L388.3,690.3L388.8,691.1L389.3,692.0L389.8,692.9L390.3,693.7L390.8,694.6L391.3,695.5L391.7,696.4L392.2,697.3L392.7,698.1L393.2,699.0L393.6,699.9L394.1,700.8L394.6,701.7L395.0,702.6L395.5,703.5L395.9,704.4L396.4,705.3L396.8,706.1L397.3,707.0L397.7,707.9L398.2,708.8L398.6,709.7L399.0,710.6L399.5,711.5L399.9,712.4L400.3,713.4L400.8,714.3L401.2,715.2L401.6,716.1L402.0,717.0L402.4,717.9L402.9,718.8L403.3,719.7L403.7,720.6L404.1,721.5L404.5,722.5L404.9,723.4L405.3,724.3L405.7,725.2L406.1,726.1L406.5,727.0L406.9,728.0L407.3,728.9L407.7,729.8L408.1,730.7L408.5,731.6L408.9,732.6L409.3,733.5L409.6,734.4L410.0,735.3L410.4,736.3L410.8,737.2L411.2,738.1L411.5,739.1L411.9,740.0L412.3,740.9L412.7,741.8L413.0,742.8L413.4,743.7L413.8,744.6L414.1,745.6L414.5,746.5L414.9,747.4L415.2,748.4L415.6,749.3L415.9,750.2L416.3,751.2L416.7,752.1L417.0,753.0L417.4,754.0L417.7,754.9L418.1,755.9L418.4,756.8L418.7,757.7L419.1,758.7L419.4,759.6L419.8,760.6L420.1,761.5L420.5,762.5L420.8,763.4L421.1,764.3L421.5,765.3L421.8,766.2L422.1,767.2L422.5,768.1L422.8,769.1L423.1,770.0L423.4,771.0L423.8,771.9L424.1,772.9L424.4,773.8L424.7,774.8L425.1,775.7L425.4,776.6L425.7,777.6L426.0,778.5L426.3,779.5L426.6,780.5L426.9,781.4L427.3,782.4L427.6,783.3L427.9,784.3L428.2,785.2L428.5,786.2L428.8,787.1L429.1,788.1L429.4,789.0L429.7,790.0L430.0,790.9L430.3,791.9L430.6,792.8L430.9,793.8L431.2,794.8L431.5,795.7L431.8,796.7L432.1,797.6L432.4,798.6L432.7,799.5L433.0,800.5L433.3,801.5L433.6,802.4L433.9,803.4L434.1,804.3L434.4,805.3L434.7,806.3L435.0,807.2L435.3,808.2L435.6,809.1L435.9,810.1L436.1,811.1L436.4,812.0L436.7,813.0L437.0,813.9L437.3,814.9L437.5,815.9L437.8,816.8L438.1,817.8L438.4,818.8L438.7,819.7L438.9,820.7L439.2,821.6L439.5,822.6L439.8,823.6L440.0,824.5L440.3,825.5L440.6,826.5L440.9,827.4L441.1,828.4L441.4,829.3L441.7,830.3L441.9,831.3L442.2,832.2L442.5,833.2L442.7,834.2L443.0,835.1L443.3,836.1L443.6,837.1L443.8,838.0L444.1,839.0L444.3,840.0L444.6,840.9L444.9,841.9L445.1,842.9L445.4,843.8L445.7,844.8L445.9,845.8L446.2,846.7L446.5,847.7L446.7,848.7L447.0,849.6L447.3,850.6L447.5,851.6L447.8,852.5L448.0,853.5L448.3,854.5L448.6,855.4L448.8,856.4L449.1,857.4L449.3,858.3L449.6,859.3L449.9,860.3L450.1,861.2L450.4,862.2L450.6,863.2L450.9,864.1L451.2,865.1L451.4,866.1L451.7,867.0L451.9,868.0L452.2,869.0L452.4,869.9L452.7,870.9L453.0,871.9L453.2,872.8L453.5,873.8L453.7,874.8L454.0,875.7L454.3,876.7L454.5,877.7L454.8,878.7L455.0,879.6L455.3,880.6L455.5,881.6L455.8,882.5L456.1,883.5L456.3,884.5L456.6,885.4L456.8,886.4L457.1,887.4L457.4,888.3L457.6,889.3L457.9,890.3L458.1,891.2L458.4,892.2L458.7,893.2L458.9,894.1L459.2,895.1L459.4,896.1L459.7,897.0L460.0,898.0L460.2,899.0L460.5,899.9L460.7,900.9L461.0,901.9L461.3,902.8L461.5,903.8L461.8,904.8L462.1,905.7L462.3,906.7L462.6,907.7L462.8,908.6L463.1,909.6L463.4,910.6L463.6,911.5L463.9,912.5L464.2,913.5L464.4,914.4L464.7,915.4L465.0,916.4L465.2,917.3L465.5,918.3L465.8,919.3L466.0,920.2L466.3,921.2L466.6,922.1L466.9,923.1L467.1,924.1L467.4,925.0L467.7,926.0L467.9,927.0L468.2,927.9L468.5,928.9L468.8,929.9L469.0,930.8L469.3,931.8L469.6,932.7L469.9,933.7L470.2,934.7L470.4,935.6L470.7,936.6L471.0,937.6L471.3,938.5L471.6,939.5L471.8,940.4L472.1,941.4L472.4,942.4L472.7,943.3L473.0,944.3L473.3,945.2L473.5,946.2L473.8,947.2L474.1,948.1L474.4,949.1L474.7,950.0L475.0,951.0L475.3,952.0L475.6,952.9L475.9,953.9L476.2,954.8L476.5,955.8L476.8,956.7L477.1,957.7L477.4,958.7L477.6,959.6L477.9,960.6L478.3,961.5L478.6,962.5L478.9,963.4L479.2,964.4L479.5,965.3L479.8,966.3L480.1,967.2L480.4,968.2L480.7,969.2L481.0,970.1" fill="none" stroke="#ec1c24" stroke-width="2.3" stroke-linejoin="round"/>
<path d="M57.4,595.4L58.4,595.4L59.4,595.3L60.4,595.2L61.4,595.1L62.4,595.0L63.4,594.9L64.4,594.8L65.4,594.7L66.4,594.6L67.4,594.5L68.4,594.4L69.4,594.3L70.4,594.2L71.4,594.1L72.4,594.0L73.4,593.9L74.4,593.9L75.4,593.8L76.4,593.7L77.4,593.6L78.4,593.5L79.4,593.4L80.4,593.3L81.4,593.2L82.4,593.1L83.4,593.1L84.4,593.0L85.4,592.9L86.4,592.8L87.3,592.7L88.3,592.6L89.3,592.6L90.3,592.5L91.3,592.4L92.3,592.3L93.3,592.2L94.3,592.1L95.3,592.1L96.3,592.0L97.3,591.9L98.3,591.8L99.3,591.8L100.3,591.7L101.3,591.6L102.3,591.5L103.3,591.5L104.3,591.4L105.3,591.3L106.3,591.3L107.3,591.2L108.3,591.1L109.3,591.0L110.3,591.0L111.3,590.9L112.3,590.8L113.3,590.8L114.3,590.7L115.3,590.7L116.3,590.6L117.3,590.5L118.3,590.5L119.3,590.4L120.3,590.4L121.3,590.3L122.3,590.2L123.3,590.2L124.3,590.1L125.3,590.1L126.3,590.0L127.3,590.0L128.3,589.9L129.4,589.9L130.4,589.8L131.4,589.8L132.4,589.7L133.4,589.7L134.4,589.7L135.4,589.6L136.4,589.6L137.4,589.5L138.4,589.5L139.4,589.5L140.4,589.4L141.4,589.4L142.4,589.4L143.4,589.3L144.4,589.3L145.4,589.3L146.4,589.2L147.4,589.2L148.4,589.2L149.4,589.2L150.4,589.1L151.4,589.1L152.4,589.1L153.4,589.1L154.4,589.1L155.4,589.0L156.4,589.0L157.4,589.0L158.4,589.0L159.4,589.0L160.4,589.0L161.4,589.0L162.4,589.0L163.4,589.0L164.4,589.0L165.4,589.0L166.4,589.0L167.4,589.0L168.4,589.0L169.4,589.0L170.5,589.0L171.5,589.0L172.5,589.0L173.5,589.0L174.5,589.0L175.5,589.0L176.5,589.0L177.5,589.1L178.5,589.1L179.5,589.1L180.5,589.1L181.5,589.2L182.5,589.2L183.5,589.2L184.5,589.2L185.5,589.3L186.5,589.3L187.5,589.3L188.5,589.4L189.5,589.4L190.5,589.5L191.5,589.5L192.5,589.5L193.5,589.6L194.5,589.6L195.5,589.7L196.5,589.7L197.5,589.8L198.5,589.8L199.5,589.9L200.5,590.0L201.5,590.0L202.5,590.1L203.5,590.2L204.5,590.2L205.5,590.3L206.5,590.4L207.5,590.4L208.5,590.5L209.5,590.6L210.5,590.7L211.5,590.7L212.5,590.8L213.5,590.9L214.5,591.0L215.5,591.1L216.5,591.2L217.5,591.3L218.5,591.4L219.5,591.5L220.5,591.6L221.5,591.7L222.5,591.8L223.5,591.9L224.5,592.0L225.5,592.1L226.5,592.2L227.5,592.3L228.5,592.5L229.5,592.6L230.5,592.7L231.5,592.8L232.5,593.0L233.5,593.1L234.5,593.2L235.5,593.4L236.5,593.5L237.5,593.6L238.5,593.8L239.4,593.9L240.4,594.1L241.4,594.2L242.4,594.4L243.4,594.5L244.4,594.7L245.4,594.8L246.4,595.0L247.4,595.2L248.4,595.3L249.4,595.5L250.3,595.7L251.3,595.8L252.3,596.0L253.3,596.2L254.3,596.4L255.3,596.6L256.3,596.8L257.3,597.0L258.2,597.2L259.2,597.4L260.2,597.6L261.2,597.8L262.2,598.0L263.2,598.2L264.1,598.4L265.1,598.6L266.1,598.8L267.1,599.1L268.1,599.3L269.0,599.5L270.0,599.8L271.0,600.0L272.0,600.3L272.9,600.5L273.9,600.8L274.9,601.0L275.8,601.3L276.8,601.6L277.8,601.8L278.7,602.1L279.7,602.4L280.7,602.7L281.6,602.9L282.6,603.2L283.6,603.5L284.5,603.8L285.5,604.1L286.4,604.4L287.4,604.8L288.3,605.1L289.3,605.4L290.3,605.7L291.2,606.1L292.2,606.4L293.1,606.7L294.0,607.1L295.0,607.4L295.9,607.8L296.9,608.1L297.8,608.5L298.7,608.9L299.7,609.3L300.6,609.6L301.5,610.0L302.5,610.4L303.4,610.8L304.3,611.2L305.2,611.6L306.1,612.0L307.1,612.5L308.0,612.9L308.9,613.3L309.8,613.7L310.7,614.2L311.6,614.6L312.5,615.1L313.4,615.5L314.3,616.0L315.2,616.5L316.1,616.9L317.0,617.4L317.8,617.9L318.7,618.4L319.6,618.9L320.5,619.3L321.3,619.8L322.2,620.4L323.1,620.9L324.0,621.4L324.8,621.9L325.7,622.4L326.5,623.0L327.4,623.5L328.2,624.0L329.1,624.6L329.9,625.1L330.8,625.7L331.6,626.2L332.4,626.8L333.3,627.4L334.1,627.9L334.9,628.5L335.7,629.1L336.5,629.7L337.4,630.3L338.2,630.9L339.0,631.5L339.8,632.1L340.6,632.7L341.4,633.3L342.2,633.9L342.9,634.6L343.7,635.2L344.5,635.8L345.3,636.5L346.1,637.1L346.8,637.8L347.6,638.4L348.4,639.1L349.1,639.7L349.9,640.4L350.6,641.1L351.4,641.7L352.1,642.4L352.8,643.1L353.6,643.8L354.3,644.5L355.0,645.2L355.8,645.9L356.5,646.6L357.2,647.3L357.9,648.0L358.6,648.7L359.3,649.5L360.0,650.2L360.7,650.9L361.4,651.7L362.0,652.4L362.7,653.1L363.4,653.9L364.1,654.6L364.7,655.4L365.4,656.2L366.0,656.9L366.7,657.7L367.3,658.5L368.0,659.2L368.6,660.0L369.2,660.8L369.9,661.6L370.5,662.4L371.1,663.2L371.7,664.0L372.3,664.8L373.0,665.6L373.6,666.4L374.2,667.2L374.8,668.0L375.3,668.8L375.9,669.6L376.5,670.4L377.1,671.2L377.7,672.1L378.2,672.9L378.8,673.7L379.4,674.5L379.9,675.4L380.5,676.2L381.1,677.1L381.6,677.9L382.1,678.7L382.7,679.6L383.2,680.4L383.8,681.3L384.3,682.1L384.8,683.0L385.4,683.8L385.9,684.7L386.4,685.6L386.9,686.4L387.4,687.3L387.9,688.2L388.4,689.0L388.9,689.9L389.4,690.8L389.9,691.6L390.4,692.5L390.9,693.4L391.4,694.3L391.9,695.2L392.4,696.0L392.8,696.9L393.3,697.8L393.8,698.7L394.2,699.6L394.7,700.5L395.2,701.4L395.6,702.2L396.1,703.1L396.6,704.0L397.0,704.9L397.5,705.8L397.9,706.7L398.3,707.6L398.8,708.5L399.2,709.4L399.7,710.3L400.1,711.2L400.5,712.1L401.0,713.1L401.4,714.0L401.8,714.9L402.2,715.8L402.7,716.7L403.1,717.6L403.5,718.5L403.9,719.4L404.3,720.3L404.7,721.3L405.1,722.2L405.5,723.1L406.0,724.0L406.4,724.9L406.8,725.8L407.2,726.8L407.5,727.7L407.9,728.6L408.3,729.5L408.7,730.5L409.1,731.4L409.5,732.3L409.9,733.2L410.3,734.2L410.7,735.1L411.0,736.0L411.4,736.9L411.8,737.9L412.2,738.8L412.6,739.7L412.9,740.7L413.3,741.6L413.7,742.5L414.0,743.5L414.4,744.4L414.8,745.3L415.1,746.3L415.5,747.2L415.9,748.1L416.2,749.1L416.6,750.0L416.9,750.9L417.3,751.9L417.6,752.8L418.0,753.8L418.3,754.7L418.7,755.6L419.0,756.6L419.4,757.5L419.7,758.5L420.1,759.4L420.4,760.3L420.7,761.3L421.1,762.2L421.4,763.2L421.8,764.1L422.1,765.1L422.4,766.0L422.8,767.0L423.1,767.9L423.4,768.8L423.7,769.8L424.1,770.7L424.4,771.7L424.7,772.6L425.0,773.6L425.4,774.5L425.7,775.5L426.0,776.4L426.3,777.4L426.6,778.3L426.9,779.3L427.3,780.2L427.6,781.2L427.9,782.1L428.2,783.1L428.5,784.1L428.8,785.0L429.1,786.0L429.4,786.9L429.7,787.9L430.0,788.8L430.3,789.8L430.6,790.7L430.9,791.7L431.2,792.7L431.5,793.6L431.8,794.6L432.1,795.5L432.4,796.5L432.7,797.4L433.0,798.4L433.3,799.4L433.6,800.3L433.9,801.3L434.2,802.2L434.5,803.2L434.8,804.2L435.1,805.1L435.3,806.1L435.6,807.0L435.9,808.0L436.2,809.0L436.5,809.9L436.8,810.9L437.0,811.8L437.3,812.8L437.6,813.8L437.9,814.7L438.2,815.7L438.4,816.6L438.7,817.6L439.0,818.6L439.3,819.5L439.6,820.5L439.8,821.5L440.1,822.4L440.4,823.4L440.7,824.4L440.9,825.3L441.2,826.3L441.5,827.2L441.7,828.2L442.0,829.2L442.3,830.1L442.6,831.1L442.8,832.1L443.1,833.0L443.4,834.0L443.6,835.0L443.9,835.9L444.2,836.9L444.4,837.9L444.7,838.8L445.0,839.8L445.2,840.8L445.5,841.7L445.8,842.7L446.0,843.7L446.3,844.6L446.5,845.6L446.8,846.6L447.1,847.5L447.3,848.5L447.6,849.5L447.9,850.4L448.1,851.4L448.4,852.4L448.6,853.3L448.9,854.3L449.2,855.3L449.4,856.2L449.7,857.2L449.9,858.2L450.2,859.1L450.5,860.1L450.7,861.1L451.0,862.0L451.2,863.0L451.5,864.0L451.8,864.9L452.0,865.9L452.3,866.9L452.5,867.8L452.8,868.8L453.1,869.8L453.3,870.7L453.6,871.7L453.8,872.7L454.1,873.7L454.3,874.6L454.6,875.6L454.9,876.6L455.1,877.5L455.4,878.5L455.6,879.5L455.9,880.4L456.1,881.4L456.4,882.4L456.7,883.3L456.9,884.3L457.2,885.3L457.4,886.2L457.7,887.2L458.0,888.2L458.2,889.1L458.5,890.1L458.7,891.1L459.0,892.0L459.2,893.0L459.5,894.0L459.8,894.9L460.0,895.9L460.3,896.9L460.5,897.8L460.8,898.8L461.1,899.8L461.3,900.7L461.6,901.7L461.9,902.7L462.1,903.6L462.4,904.6L462.6,905.6L462.9,906.5L463.2,907.5L463.4,908.5L463.7,909.4L464.0,910.4L464.2,911.4L464.5,912.3L464.8,913.3L465.0,914.3L465.3,915.2L465.6,916.2L465.8,917.2L466.1,918.1L466.4,919.1L466.6,920.1L466.9,921.0L467.2,922.0L467.4,922.9L467.7,923.9L468.0,924.9L468.3,925.8L468.5,926.8L468.8,927.8L469.1,928.7L469.4,929.7L469.6,930.7L469.9,931.6L470.2,932.6L470.5,933.5L470.7,934.5L471.0,935.5L471.3,936.4L471.5,937.4L471.8,938.4L472.1,939.3L472.3,940.3L472.6,941.3L472.9,942.2L473.1,943.2L473.4,944.2L473.7,945.1L473.9,946.1L474.2,947.0L474.5,948.0L474.8,949.0L475.0,949.9L475.3,950.9L475.6,951.9L475.9,952.8L476.1,953.8L476.4,954.8L476.7,955.7L477.0,956.7L477.3,957.6L477.5,958.6L477.8,959.6L478.1,960.5L478.4,961.5L478.7,962.4L479.0,963.4L479.3,964.4L479.5,965.3L479.8,966.3L480.1,967.2L480.4,968.2L480.7,969.1L481.0,970.1" fill="none" stroke="#262a92" stroke-width="2.3" stroke-linecap="round" stroke-dasharray="3.7 6.38"/>
<path d="M58.1,602.8L59.1,602.7L60.1,602.6L61.1,602.6L62.1,602.5L63.1,602.4L64.1,602.3L65.1,602.2L66.1,602.1L67.1,602.0L68.1,601.9L69.1,601.8L70.1,601.6L71.1,601.5L72.0,601.4L73.0,601.2L74.0,601.1L75.0,601.0L76.0,600.8L77.0,600.7L78.0,600.6L79.0,600.4L80.0,600.3L81.0,600.2L82.0,600.1L82.9,599.9L83.9,599.8L84.9,599.7L85.9,599.5L86.9,599.4L87.9,599.2L88.9,599.1L89.9,598.9L90.9,598.8L91.9,598.6L92.8,598.5L93.8,598.4L94.8,598.2L95.8,598.1L96.8,597.9L97.8,597.8L98.8,597.6L99.8,597.5L100.8,597.3L101.8,597.2L102.7,597.1L103.7,596.9L104.7,596.8L105.7,596.7L106.7,596.5L107.7,596.4L108.7,596.3L109.7,596.2L110.7,596.1L111.7,595.9L112.7,595.8L113.7,595.7L114.6,595.6L115.6,595.5L116.6,595.4L117.6,595.3L118.6,595.1L119.6,595.0L120.6,594.9L121.6,594.8L122.6,594.7L123.6,594.6L124.6,594.5L125.6,594.4L126.6,594.3L127.6,594.2L128.6,594.1L129.5,594.0L130.5,593.9L131.5,593.8L132.5,593.7L133.5,593.6L134.5,593.5L135.5,593.4L136.5,593.3L137.5,593.2L138.5,593.1L139.5,593.0L140.5,592.9L141.5,592.8L142.5,592.7L143.5,592.6L144.5,592.5L145.5,592.4L146.5,592.3L147.5,592.2L148.5,592.1L149.5,592.0L150.5,591.9L151.5,591.8L152.5,591.7L153.4,591.7L154.4,591.6L155.4,591.5L156.4,591.5L157.4,591.4L158.4,591.4L159.4,591.3L160.4,591.3L161.4,591.2L162.4,591.2L163.4,591.1L164.4,591.1L165.4,591.0L166.4,591.0L167.4,590.9L168.4,590.9L169.4,590.9L170.4,590.8L171.4,590.8L172.4,590.7L173.4,590.7L174.4,590.7L175.4,590.7L176.4,590.6L177.4,590.6L178.4,590.6L179.4,590.6L180.4,590.5L181.4,590.5L182.4,590.5L183.5,590.5L184.5,590.5L185.5,590.5L186.5,590.5L187.5,590.4L188.5,590.4L189.5,590.4L190.5,590.4L191.5,590.4L192.5,590.4L193.5,590.4L194.5,590.4L195.5,590.4L196.5,590.4L197.5,590.5L198.5,590.5L199.5,590.5L200.5,590.5L201.5,590.5L202.5,590.5L203.5,590.6L204.5,590.6L205.5,590.6L206.5,590.6L207.5,590.7L208.5,590.7L209.5,590.7L210.5,590.8L211.5,590.8L212.5,590.8L213.5,590.9L214.5,591.0L215.5,591.0L216.5,591.1L217.5,591.1L218.5,591.2L219.5,591.3L220.5,591.3L221.6,591.4L222.6,591.5L223.6,591.6L224.6,591.6L225.6,591.7L226.6,591.8L227.6,591.9L228.6,592.0L229.6,592.1L230.6,592.2L231.6,592.3L232.6,592.3L233.6,592.4L234.6,592.5L235.6,592.7L236.6,592.8L237.6,592.9L238.6,593.0L239.6,593.1L240.6,593.2L241.6,593.3L242.6,593.4L243.6,593.6L244.6,593.7L245.6,593.8L246.6,594.0L247.6,594.1L248.6,594.2L249.6,594.4L250.6,594.5L251.5,594.7L252.5,594.8L253.5,595.0L254.5,595.1L255.5,595.3L256.5,595.4L257.5,595.6L258.5,595.8L259.5,595.9L260.5,596.1L261.5,596.3L262.5,596.5L263.5,596.7L264.5,596.8L265.5,597.0L266.5,597.2L267.5,597.4L268.5,597.6L269.4,597.8L270.4,598.1L271.4,598.3L272.4,598.5L273.4,598.7L274.4,598.9L275.4,599.2L276.4,599.4L277.3,599.6L278.3,599.9L279.3,600.2L280.3,600.5L281.2,600.7L282.2,601.0L283.2,601.3L284.2,601.6L285.1,601.9L286.1,602.2L287.1,602.5L288.0,602.8L289.0,603.1L290.0,603.5L290.9,603.8L291.9,604.1L292.8,604.5L293.8,604.8L294.8,605.2L295.7,605.5L296.7,605.9L297.6,606.2L298.6,606.6L299.5,607.0L300.4,607.3L301.4,607.7L302.3,608.1L303.3,608.5L304.2,608.9L305.1,609.3L306.1,609.7L307.0,610.1L307.9,610.5L308.8,611.0L309.8,611.5L310.7,611.9L311.6,612.4L312.5,612.9L313.3,613.4L314.2,613.9L315.1,614.4L316.0,614.9L316.9,615.4L317.8,615.9L318.7,616.4L319.5,616.9L320.4,617.4L321.3,618.0L322.1,618.5L323.0,619.0L323.9,619.6L324.7,620.1L325.6,620.7L326.4,621.2L327.3,621.8L328.1,622.4L328.9,622.9L329.8,623.5L330.6,624.1L331.4,624.7L332.2,625.3L333.1,625.8L333.9,626.4L334.7,627.0L335.5,627.7L336.3,628.3L337.1,628.9L337.9,629.5L338.7,630.1L339.5,630.8L340.3,631.4L341.1,632.0L341.9,632.7L342.6,633.3L343.4,634.0L344.2,634.6L345.0,635.3L345.7,635.9L346.5,636.6L347.2,637.3L348.0,637.9L348.7,638.6L349.5,639.3L350.2,640.0L351.0,640.7L351.7,641.4L352.4,642.1L353.2,642.8L353.9,643.5L354.6,644.2L355.3,644.9L356.0,645.6L356.7,646.4L357.4,647.1L358.1,647.8L358.8,648.6L359.5,649.3L360.2,650.0L360.8,650.8L361.5,651.5L362.2,652.3L362.8,653.1L363.5,653.8L364.1,654.6L364.8,655.4L365.4,656.1L366.1,656.9L366.7,657.7L367.3,658.5L368.0,659.3L368.6,660.0L369.2,660.8L369.8,661.6L370.4,662.4L371.0,663.2L371.6,664.0L372.2,664.8L372.8,665.7L373.4,666.5L374.0,667.3L374.6,668.1L375.1,668.9L375.7,669.8L376.3,670.6L376.8,671.4L377.4,672.3L378.0,673.1L378.5,673.9L379.1,674.8L379.6,675.6L380.2,676.4L380.7,677.3L381.2,678.1L381.8,679.0L382.3,679.8L382.8,680.7L383.4,681.5L383.9,682.4L384.4,683.2L384.9,684.1L385.4,685.0L386.0,685.8L386.5,686.7L387.0,687.6L387.5,688.4L388.0,689.3L388.5,690.2L389.0,691.0L389.4,691.9L389.9,692.8L390.4,693.7L390.9,694.6L391.4,695.4L391.8,696.3L392.3,697.2L392.8,698.1L393.2,699.0L393.7,699.9L394.2,700.8L394.6,701.6L395.1,702.5L395.5,703.4L396.0,704.3L396.4,705.2L396.9,706.1L397.3,707.0L397.7,707.9L398.2,708.8L398.6,709.7L399.0,710.6L399.5,711.5L399.9,712.4L400.3,713.4L400.7,714.3L401.2,715.2L401.6,716.1L402.0,717.0L402.4,717.9L402.8,718.8L403.2,719.7L403.6,720.6L404.0,721.6L404.4,722.5L404.8,723.4L405.2,724.3L405.6,725.2L406.0,726.2L406.4,727.1L406.8,728.0L407.2,728.9L407.6,729.8L408.0,730.8L408.4,731.7L408.8,732.6L409.1,733.5L409.5,734.5L409.9,735.4L410.3,736.3L410.6,737.3L411.0,738.2L411.4,739.1L411.8,740.0L412.1,741.0L412.5,741.9L412.9,742.8L413.2,743.8L413.6,744.7L413.9,745.6L414.3,746.6L414.7,747.5L415.0,748.5L415.4,749.4L415.7,750.3L416.1,751.3L416.4,752.2L416.8,753.1L417.1,754.1L417.5,755.0L417.8,756.0L418.1,756.9L418.5,757.8L418.8,758.8L419.2,759.7L419.5,760.7L419.8,761.6L420.2,762.6L420.5,763.5L420.8,764.4L421.2,765.4L421.5,766.3L421.8,767.3L422.2,768.2L422.5,769.2L422.8,770.1L423.2,771.1L423.5,772.0L423.8,773.0L424.1,773.9L424.4,774.8L424.8,775.8L425.1,776.7L425.4,777.7L425.7,778.6L426.0,779.6L426.3,780.5L426.7,781.5L427.0,782.4L427.3,783.4L427.6,784.4L427.9,785.3L428.2,786.3L428.5,787.2L428.8,788.2L429.1,789.1L429.4,790.1L429.7,791.0L430.0,792.0L430.3,792.9L430.6,793.9L430.9,794.8L431.2,795.8L431.5,796.8L431.8,797.7L432.1,798.7L432.4,799.6L432.7,800.6L433.0,801.5L433.3,802.5L433.6,803.5L433.9,804.4L434.1,805.4L434.4,806.3L434.7,807.3L435.0,808.3L435.3,809.2L435.6,810.2L435.9,811.1L436.1,812.1L436.4,813.1L436.7,814.0L437.0,815.0L437.3,815.9L437.5,816.9L437.8,817.9L438.1,818.8L438.4,819.8L438.6,820.8L438.9,821.7L439.2,822.7L439.5,823.6L439.7,824.6L440.0,825.6L440.3,826.5L440.6,827.5L440.8,828.5L441.1,829.4L441.4,830.4L441.7,831.4L441.9,832.3L442.2,833.3L442.5,834.3L442.7,835.2L443.0,836.2L443.3,837.1L443.5,838.1L443.8,839.1L444.1,840.0L444.3,841.0L444.6,842.0L444.9,842.9L445.1,843.9L445.4,844.9L445.6,845.8L445.9,846.8L446.2,847.8L446.4,848.7L446.7,849.7L447.0,850.7L447.2,851.6L447.5,852.6L447.7,853.6L448.0,854.5L448.3,855.5L448.5,856.5L448.8,857.4L449.0,858.4L449.3,859.4L449.6,860.3L449.8,861.3L450.1,862.3L450.3,863.2L450.6,864.2L450.9,865.2L451.1,866.1L451.4,867.1L451.6,868.1L451.9,869.1L452.2,870.0L452.4,871.0L452.7,872.0L452.9,872.9L453.2,873.9L453.4,874.9L453.7,875.8L454.0,876.8L454.2,877.8L454.5,878.7L454.7,879.7L455.0,880.7L455.3,881.6L455.5,882.6L455.8,883.6L456.0,884.5L456.3,885.5L456.5,886.5L456.8,887.4L457.1,888.4L457.3,889.4L457.6,890.3L457.8,891.3L458.1,892.3L458.4,893.2L458.6,894.2L458.9,895.2L459.1,896.1L459.4,897.1L459.7,898.1L459.9,899.0L460.2,900.0L460.5,901.0L460.7,901.9L461.0,902.9L461.2,903.9L461.5,904.8L461.8,905.8L462.0,906.8L462.3,907.7L462.6,908.7L462.8,909.7L463.1,910.6L463.4,911.6L463.6,912.6L463.9,913.5L464.2,914.5L464.4,915.5L464.7,916.4L465.0,917.4L465.2,918.4L465.5,919.3L465.8,920.3L466.0,921.3L466.3,922.2L466.6,923.2L466.8,924.2L467.1,925.1L467.4,926.1L467.7,927.0L467.9,928.0L468.2,929.0L468.5,929.9L468.8,930.9L469.0,931.9L469.3,932.8L469.6,933.8L469.9,934.8L470.2,935.7L470.4,936.7L470.7,937.6L471.0,938.6L471.3,939.6L471.6,940.5L471.9,941.5L472.2,942.4L472.5,943.4L472.8,944.3L473.1,945.3L473.4,946.3L473.6,947.2L473.9,948.2L474.2,949.1L474.5,950.1L474.8,951.0L475.1,952.0L475.4,953.0L475.7,953.9L476.0,954.9L476.3,955.8L476.6,956.8L477.0,957.7L477.3,958.7L477.6,959.6L477.9,960.6L478.2,961.5L478.5,962.5L478.8,963.4L479.1,964.4L479.4,965.4L479.7,966.3L480.1,967.3L480.4,968.2L480.7,969.2L481.0,970.1" fill="none" stroke="#95449f" stroke-width="1.75" stroke-linecap="round" stroke-dasharray="4.0 4.05"/>
<path d="M58.3,605.1L59.3,605.0L60.3,604.9L61.3,604.9L62.3,604.8L63.3,604.7L64.3,604.6L65.3,604.5L66.3,604.3L67.3,604.1L68.3,603.9L69.3,603.8L70.2,603.6L71.2,603.4L72.2,603.3L73.2,603.2L74.2,603.0L75.2,602.9L76.2,602.8L77.2,602.6L78.2,602.5L79.2,602.4L80.1,602.2L81.1,602.1L82.1,602.0L83.1,601.9L84.1,601.7L85.1,601.6L86.1,601.5L87.1,601.3L88.1,601.2L89.1,601.1L90.0,600.9L91.0,600.8L92.0,600.6L93.0,600.4L94.0,600.3L95.0,600.1L96.0,599.9L97.0,599.8L97.9,599.6L98.9,599.5L99.9,599.3L100.9,599.2L101.9,599.0L102.9,598.9L103.9,598.7L104.9,598.5L105.8,598.4L106.8,598.2L107.8,598.1L108.8,598.0L109.8,597.8L110.8,597.7L111.8,597.6L112.8,597.4L113.8,597.3L114.7,597.2L115.7,597.1L116.7,596.9L117.7,596.8L118.7,596.7L119.7,596.6L120.7,596.4L121.7,596.3L122.7,596.2L123.7,596.1L124.7,596.0L125.6,595.8L126.6,595.7L127.6,595.6L128.6,595.5L129.6,595.4L130.6,595.3L131.6,595.2L132.6,595.1L133.6,595.0L134.6,594.9L135.6,594.8L136.6,594.7L137.6,594.6L138.6,594.5L139.6,594.4L140.5,594.4L141.5,594.3L142.5,594.2L143.5,594.1L144.5,594.0L145.5,593.9L146.5,593.8L147.5,593.7L148.5,593.7L149.5,593.6L150.5,593.5L151.5,593.4L152.5,593.4L153.5,593.3L154.5,593.3L155.5,593.2L156.5,593.2L157.5,593.1L158.5,593.1L159.5,593.0L160.5,593.0L161.5,592.9L162.4,592.9L163.4,592.8L164.4,592.8L165.4,592.7L166.4,592.7L167.4,592.7L168.4,592.6L169.4,592.6L170.4,592.6L171.4,592.5L172.4,592.5L173.4,592.5L174.4,592.4L175.4,592.4L176.4,592.4L177.4,592.4L178.4,592.3L179.4,592.3L180.4,592.3L181.4,592.3L182.4,592.3L183.4,592.3L184.4,592.3L185.4,592.2L186.4,592.2L187.4,592.2L188.4,592.2L189.4,592.2L190.4,592.2L191.4,592.2L192.4,592.2L193.4,592.2L194.4,592.3L195.4,592.3L196.4,592.3L197.4,592.3L198.4,592.3L199.4,592.3L200.4,592.3L201.4,592.4L202.4,592.4L203.4,592.4L204.4,592.5L205.4,592.5L206.4,592.5L207.4,592.6L208.4,592.6L209.4,592.7L210.4,592.7L211.4,592.8L212.4,592.8L213.4,592.9L214.4,592.9L215.4,592.9L216.4,593.0L217.4,593.0L218.4,593.0L219.4,593.1L220.4,593.1L221.4,593.1L222.4,593.2L223.4,593.3L224.4,593.3L225.4,593.4L226.4,593.4L227.4,593.5L228.4,593.6L229.4,593.6L230.4,593.7L231.4,593.8L232.4,593.9L233.4,593.9L234.4,594.0L235.4,594.1L236.4,594.2L237.4,594.3L238.4,594.4L239.4,594.5L240.4,594.6L241.4,594.7L242.4,594.8L243.4,594.9L244.4,595.0L245.4,595.1L246.4,595.2L247.4,595.3L248.4,595.4L249.3,595.6L250.3,595.7L251.3,595.8L252.3,596.0L253.3,596.1L254.3,596.3L255.3,596.4L256.3,596.6L257.3,596.7L258.3,596.9L259.3,597.1L260.3,597.2L261.3,597.4L262.3,597.6L263.3,597.7L264.2,597.9L265.2,598.1L266.2,598.3L267.2,598.5L268.2,598.7L269.2,598.9L270.2,599.1L271.2,599.3L272.1,599.5L273.1,599.7L274.1,600.0L275.1,600.2L276.1,600.4L277.1,600.6L278.0,600.9L279.0,601.1L280.0,601.4L281.0,601.6L282.0,601.9L282.9,602.1L283.9,602.4L284.9,602.7L285.9,602.9L286.8,603.2L287.8,603.5L288.8,603.8L289.7,604.1L290.7,604.4L291.6,604.8L292.6,605.2L293.5,605.5L294.5,605.9L295.4,606.3L296.3,606.7L297.3,607.1L298.2,607.5L299.1,607.9L300.1,608.3L301.0,608.7L301.9,609.1L302.8,609.5L303.8,610.0L304.7,610.4L305.6,610.8L306.5,611.3L307.4,611.7L308.3,612.2L309.2,612.6L310.1,613.1L311.0,613.5L311.9,614.0L312.8,614.5L313.7,615.0L314.6,615.5L315.4,615.9L316.3,616.4L317.2,616.9L318.1,617.4L318.9,618.0L319.8,618.5L320.7,619.0L321.5,619.5L322.4,620.1L323.2,620.6L324.1,621.1L324.9,621.7L325.8,622.2L326.6,622.8L327.5,623.4L328.3,623.9L329.1,624.5L329.9,625.1L330.8,625.7L331.6,626.2L332.4,626.8L333.2,627.4L334.0,628.0L334.8,628.6L335.6,629.2L336.4,629.9L337.2,630.5L338.0,631.1L338.8,631.7L339.6,632.4L340.4,633.0L341.1,633.6L341.9,634.3L342.7,634.9L343.4,635.6L344.2,636.2L344.9,636.9L345.7,637.6L346.4,638.2L347.2,638.9L347.9,639.6L348.7,640.3L349.4,640.9L350.1,641.6L350.8,642.3L351.6,643.0L352.3,643.7L353.0,644.4L353.7,645.1L354.4,645.9L355.1,646.6L355.8,647.3L356.5,648.0L357.1,648.7L357.8,649.5L358.5,650.2L359.2,651.0L359.8,651.7L360.5,652.5L361.2,653.2L361.8,654.0L362.5,654.7L363.1,655.5L363.7,656.3L364.4,657.0L365.0,657.8L365.6,658.6L366.3,659.4L366.9,660.1L367.5,660.9L368.1,661.7L368.7,662.5L369.3,663.3L369.9,664.1L370.5,664.9L371.1,665.7L371.7,666.5L372.2,667.3L372.8,668.2L373.4,669.0L374.0,669.8L374.5,670.6L375.1,671.4L375.6,672.3L376.2,673.1L376.7,673.9L377.3,674.8L377.8,675.6L378.4,676.4L378.9,677.3L379.4,678.1L380.0,679.0L380.5,679.8L381.0,680.6L381.6,681.5L382.1,682.3L382.6,683.2L383.1,684.1L383.6,684.9L384.1,685.8L384.6,686.6L385.1,687.5L385.6,688.4L386.1,689.2L386.6,690.1L387.1,691.0L387.6,691.8L388.1,692.7L388.5,693.6L389.0,694.4L389.5,695.3L390.0,696.2L390.4,697.1L390.9,698.0L391.3,698.9L391.8,699.7L392.3,700.6L392.7,701.5L393.2,702.4L393.6,703.3L394.1,704.2L394.5,705.1L394.9,706.0L395.4,706.9L395.8,707.8L396.2,708.7L396.7,709.6L397.1,710.5L397.5,711.4L397.9,712.3L398.4,713.2L398.8,714.1L399.2,715.0L399.6,715.9L400.1,716.8L400.5,717.7L400.9,718.6L401.3,719.5L401.7,720.4L402.1,721.3L402.5,722.2L402.9,723.2L403.3,724.1L403.7,725.0L404.1,725.9L404.5,726.8L404.9,727.7L405.3,728.6L405.7,729.6L406.1,730.5L406.5,731.4L406.9,732.3L407.3,733.2L407.7,734.2L408.0,735.1L408.4,736.0L408.8,736.9L409.2,737.9L409.5,738.8L409.9,739.7L410.3,740.6L410.7,741.6L411.0,742.5L411.4,743.4L411.8,744.4L412.1,745.3L412.5,746.2L412.8,747.1L413.2,748.1L413.6,749.0L413.9,749.9L414.3,750.9L414.6,751.8L415.0,752.7L415.3,753.7L415.7,754.6L416.0,755.5L416.4,756.5L416.7,757.4L417.1,758.4L417.4,759.3L417.7,760.2L418.1,761.2L418.4,762.1L418.8,763.1L419.1,764.0L419.4,764.9L419.8,765.9L420.1,766.8L420.4,767.8L420.7,768.7L421.1,769.7L421.4,770.6L421.7,771.5L422.0,772.5L422.4,773.4L422.7,774.4L423.0,775.3L423.3,776.3L423.6,777.2L424.0,778.2L424.3,779.1L424.6,780.1L424.9,781.0L425.2,782.0L425.5,782.9L425.8,783.9L426.1,784.8L426.4,785.8L426.7,786.7L427.0,787.7L427.3,788.6L427.7,789.6L428.0,790.5L428.3,791.5L428.6,792.4L428.8,793.4L429.1,794.4L429.4,795.3L429.7,796.3L430.0,797.2L430.3,798.2L430.6,799.1L430.9,800.1L431.2,801.0L431.5,802.0L431.8,803.0L432.1,803.9L432.4,804.9L432.6,805.8L432.9,806.8L433.2,807.8L433.5,808.7L433.8,809.7L434.1,810.6L434.3,811.6L434.6,812.6L434.9,813.5L435.2,814.5L435.5,815.4L435.7,816.4L436.0,817.4L436.3,818.3L436.6,819.3L436.8,820.2L437.1,821.2L437.4,822.2L437.7,823.1L437.9,824.1L438.2,825.0L438.5,826.0L438.8,827.0L439.0,827.9L439.3,828.9L439.6,829.9L439.9,830.8L440.1,831.8L440.4,832.7L440.7,833.7L441.0,834.7L441.2,835.6L441.5,836.6L441.8,837.6L442.0,838.5L442.3,839.5L442.6,840.5L442.9,841.4L443.1,842.4L443.4,843.3L443.7,844.3L443.9,845.3L444.2,846.2L444.5,847.2L444.7,848.2L445.0,849.1L445.3,850.1L445.5,851.1L445.8,852.0L446.1,853.0L446.3,854.0L446.6,854.9L446.9,855.9L447.1,856.9L447.4,857.8L447.6,858.8L447.9,859.8L448.2,860.7L448.4,861.7L448.7,862.6L449.0,863.6L449.2,864.6L449.5,865.5L449.8,866.5L450.0,867.5L450.3,868.4L450.5,869.4L450.8,870.4L451.1,871.3L451.3,872.3L451.6,873.3L451.9,874.2L452.1,875.2L452.4,876.2L452.6,877.1L452.9,878.1L453.2,879.1L453.4,880.0L453.7,881.0L453.9,882.0L454.2,882.9L454.5,883.9L454.7,884.9L455.0,885.8L455.3,886.8L455.5,887.8L455.8,888.7L456.1,889.7L456.3,890.7L456.6,891.6L456.8,892.6L457.1,893.6L457.4,894.5L457.6,895.5L457.9,896.5L458.2,897.4L458.4,898.4L458.7,899.4L459.0,900.3L459.2,901.3L459.5,902.3L459.8,903.2L460.0,904.2L460.3,905.2L460.6,906.1L460.8,907.1L461.1,908.1L461.4,909.0L461.6,910.0L461.9,911.0L462.2,911.9L462.4,912.9L462.7,913.9L463.0,914.8L463.3,915.8L463.5,916.8L463.8,917.7L464.1,918.7L464.4,919.6L464.7,920.6L465.0,921.6L465.3,922.5L465.6,923.5L465.9,924.4L466.2,925.4L466.5,926.3L466.8,927.3L467.1,928.3L467.4,929.2L467.7,930.2L468.0,931.1L468.3,932.1L468.6,933.0L468.9,934.0L469.2,935.0L469.5,935.9L469.8,936.9L470.1,937.8L470.4,938.8L470.7,939.7L471.0,940.7L471.3,941.6L471.6,942.6L471.9,943.5L472.3,944.5L472.6,945.4L472.9,946.4L473.2,947.4L473.5,948.3L473.8,949.3L474.1,950.2L474.5,951.2L474.8,952.1L475.1,953.1L475.4,954.0L475.7,955.0L476.1,955.9L476.4,956.9L476.7,957.8L477.0,958.8L477.4,959.7L477.7,960.7L478.0,961.6L478.3,962.5L478.7,963.5L479.0,964.4L479.3,965.4L479.7,966.3L480.0,967.3L480.3,968.2L480.7,969.2L481.0,970.1" fill="none" stroke="#b4241a" stroke-width="2.85" stroke-linecap="round" stroke-dasharray="0 6.3"/>
<path d="M574.4,664.9L575.4,664.7L576.3,664.4L577.3,664.1L578.3,663.9L579.3,663.6L580.2,663.4L581.2,663.1L582.2,662.9L583.1,662.7L584.1,662.4L585.1,662.2L586.1,661.9L587.0,661.7L588.0,661.5L589.0,661.2L590.0,661.0L590.9,660.8L591.9,660.5L592.9,660.3L593.9,660.1L594.8,659.9L595.8,659.6L596.8,659.4L597.8,659.2L598.8,659.0L599.7,658.8L600.7,658.6L601.7,658.4L602.7,658.2L603.7,658.0L604.6,657.8L605.6,657.6L606.6,657.4L607.6,657.2L608.6,657.0L609.6,656.8L610.5,656.6L611.5,656.4L612.5,656.2L613.5,656.0L614.5,655.9L615.5,655.7L616.5,655.5L617.5,655.3L618.4,655.2L619.4,655.0L620.4,654.8L621.4,654.7L622.4,654.5L623.4,654.3L624.4,654.2L625.4,654.0L626.4,653.9L627.4,653.7L628.3,653.6L629.3,653.4L630.3,653.3L631.3,653.1L632.3,653.0L633.3,652.9L634.3,652.7L635.3,652.6L636.3,652.5L637.3,652.3L638.3,652.2L639.3,652.1L640.3,652.0L641.3,651.9L642.3,651.8L643.3,651.6L644.3,651.5L645.3,651.4L646.3,651.3L647.2,651.2L648.2,651.1L649.2,651.0L650.2,651.0L651.2,650.9L652.2,650.8L653.2,650.7L654.2,650.6L655.2,650.5L656.2,650.5L657.2,650.4L658.2,650.3L659.2,650.3L660.2,650.2L661.2,650.1L662.2,650.1L663.2,650.0L664.2,650.0L665.2,649.9L666.3,649.9L667.3,649.8L668.3,649.8L669.3,649.8L670.3,649.7L671.3,649.7L672.3,649.7L673.3,649.7L674.3,649.6L675.3,649.6L676.3,649.6L677.3,649.6L678.3,649.6L679.3,649.6L680.3,649.6L681.3,649.6L682.3,649.6L683.3,649.6L684.3,649.6L685.3,649.6L686.3,649.7L687.3,649.7L688.3,649.7L689.3,649.7L690.3,649.8L691.3,649.8L692.3,649.9L693.3,649.9L694.3,649.9L695.3,650.0L696.3,650.1L697.3,650.1L698.3,650.2L699.3,650.2L700.3,650.3L701.3,650.4L702.3,650.5L703.3,650.5L704.3,650.6L705.3,650.7L706.3,650.8L707.3,650.9L708.3,651.0L709.3,651.1L710.3,651.2L711.3,651.3L712.3,651.4L713.3,651.5L714.3,651.7L715.3,651.8L716.3,651.9L717.3,652.1L718.3,652.2L719.3,652.3L720.3,652.5L721.2,652.6L722.2,652.8L723.2,652.9L724.2,653.1L725.2,653.3L726.2,653.4L727.2,653.6L728.2,653.8L729.2,654.0L730.1,654.2L731.1,654.3L732.1,654.5L733.1,654.7L734.1,654.9L735.1,655.2L736.0,655.4L737.0,655.6L738.0,655.8L739.0,656.0L739.9,656.2L740.9,656.5L741.9,656.7L742.9,657.0L743.8,657.2L744.8,657.5L745.8,657.7L746.8,658.0L747.7,658.2L748.7,658.5L749.7,658.8L750.6,659.0L751.6,659.3L752.5,659.6L753.5,659.9L754.5,660.2L755.4,660.5L756.4,660.8L757.3,661.1L758.3,661.4L759.2,661.7L760.2,662.1L761.1,662.4L762.1,662.7L763.0,663.0L764.0,663.4L764.9,663.7L765.8,664.1L766.8,664.4L767.7,664.8L768.7,665.1L769.6,665.5L770.5,665.9L771.5,666.2L772.4,666.6L773.3,667.0L774.2,667.4L775.2,667.8L776.1,668.2L777.0,668.6L777.9,669.0L778.8,669.4L779.8,669.8L780.7,670.2L781.6,670.6L782.5,671.0L783.4,671.5L784.3,671.9L785.2,672.3L786.1,672.8L787.0,673.2L787.9,673.7L788.8,674.1L789.7,674.6L790.6,675.0L791.5,675.5L792.4,675.9L793.3,676.4L794.1,676.9L795.0,677.4L795.9,677.9L796.8,678.3L797.7,678.8L798.5,679.3L799.4,679.8L800.3,680.3L801.1,680.8L802.0,681.3L802.9,681.8L803.7,682.4L804.6,682.9L805.4,683.4L806.3,683.9L807.1,684.5L808.0,685.0L808.8,685.5L809.7,686.1L810.5,686.6L811.3,687.2L812.2,687.7L813.0,688.3L813.8,688.9L814.7,689.4L815.5,690.0L816.3,690.6L817.1,691.2L817.9,691.7L818.8,692.3L819.6,692.9L820.4,693.5L821.2,694.1L822.0,694.7L822.8,695.3L823.6,695.9L824.4,696.5L825.2,697.1L826.0,697.7L826.8,698.4L827.5,699.0L828.3,699.6L829.1,700.3L829.9,700.9L830.7,701.5L831.4,702.2L832.2,702.8L833.0,703.5L833.7,704.1L834.5,704.8L835.2,705.4L836.0,706.1L836.7,706.8L837.5,707.4L838.2,708.1L839.0,708.8L839.7,709.5L840.4,710.1L841.2,710.8L841.9,711.5L842.6,712.2L843.3,712.9L844.1,713.6L844.8,714.3L845.5,715.0L846.2,715.7L846.9,716.4L847.6,717.1L848.3,717.8L849.0,718.6L849.7,719.3L850.4,720.0L851.1,720.7L851.8,721.4L852.5,722.2L853.2,722.9L853.9,723.6L854.5,724.4L855.2,725.1L855.9,725.9L856.6,726.6L857.2,727.4L857.9,728.1L858.6,728.9L859.2,729.6L859.9,730.4L860.5,731.1L861.2,731.9L861.8,732.7L862.5,733.4L863.1,734.2L863.8,735.0L864.4,735.7L865.0,736.5L865.7,737.3L866.3,738.1L866.9,738.9L867.6,739.6L868.2,740.4L868.8,741.2L869.4,742.0L870.0,742.8L870.7,743.6L871.3,744.4L871.9,745.2L872.5,746.0L873.1,746.8L873.7,747.6L874.3,748.4L874.9,749.2L875.5,750.0L876.1,750.8L876.7,751.6L877.3,752.4L877.8,753.2L878.4,754.0L879.0,754.9L879.6,755.7L880.2,756.5L880.7,757.3L881.3,758.1L881.9,759.0L882.5,759.8L883.0,760.6L883.6,761.4L884.2,762.3L884.7,763.1L885.3,763.9L885.8,764.8L886.4,765.6L886.9,766.4L887.5,767.3L888.0,768.1L888.6,769.0L889.1,769.8L889.7,770.6L890.2,771.5L890.8,772.3L891.3,773.2L891.8,774.0L892.4,774.9L892.9,775.7L893.4,776.6L894.0,777.4L894.5,778.3L895.0,779.1L895.6,780.0L896.1,780.8L896.6,781.7L897.1,782.6L897.6,783.4L898.2,784.3L898.7,785.1L899.2,786.0L899.7,786.9L900.2,787.7L900.7,788.6L901.2,789.4L901.7,790.3L902.2,791.2L902.7,792.0L903.2,792.9L903.7,793.8L904.2,794.6L904.7,795.5L905.2,796.4L905.7,797.3L906.2,798.1L906.7,799.0L907.2,799.9L907.7,800.8L908.2,801.6L908.7,802.5L909.2,803.4L909.6,804.3L910.1,805.1L910.6,806.0L911.1,806.9L911.6,807.8L912.1,808.7L912.5,809.5L913.0,810.4L913.5,811.3L914.0,812.2L914.4,813.1L914.9,813.9L915.4,814.8L915.9,815.7L916.3,816.6L916.8,817.5L917.3,818.4L917.7,819.3L918.2,820.1L918.7,821.0L919.1,821.9L919.6,822.8L920.1,823.7L920.5,824.6L921.0,825.5L921.5,826.4L921.9,827.3L922.4,828.1L922.8,829.0L923.3,829.9L923.8,830.8L924.2,831.7L924.7,832.6L925.1,833.5L925.6,834.4L926.0,835.3L926.5,836.2L927.0,837.1L927.4,838.0L927.9,838.9L928.3,839.8L928.8,840.7L929.2,841.5L929.7,842.4L930.1,843.3L930.6,844.2L931.0,845.1L931.5,846.0L931.9,846.9L932.4,847.8L932.8,848.7L933.3,849.6L933.7,850.5L934.2,851.4L934.6,852.3L935.1,853.2L935.5,854.1L936.0,855.0L936.4,855.9L936.8,856.8L937.3,857.7L937.7,858.6L938.2,859.5L938.6,860.4L939.1,861.3L939.5,862.2L940.0,863.1L940.4,864.0L940.9,864.9L941.3,865.8L941.7,866.7L942.2,867.6L942.6,868.5L943.1,869.4L943.5,870.3L944.0,871.2L944.4,872.1L944.8,873.0L945.3,873.9L945.7,874.8L946.2,875.7L946.6,876.6L947.1,877.5L947.5,878.4L948.0,879.3L948.4,880.2L948.9,881.1L949.3,882.0L949.7,882.9L950.2,883.8L950.6,884.7L951.1,885.5L951.5,886.4L952.0,887.3L952.4,888.2L952.9,889.1L953.3,890.0L953.8,890.9L954.2,891.8L954.7,892.7L955.1,893.6L955.6,894.5L956.0,895.4L956.5,896.3L956.9,897.2L957.4,898.1L957.8,899.0L958.3,899.9L958.7,900.8L959.2,901.7L959.6,902.6L960.1,903.5L960.5,904.4L961.0,905.3L961.5,906.1L961.9,907.0L962.4,907.9L962.8,908.8L963.3,909.7L963.7,910.6L964.2,911.5L964.7,912.4L965.1,913.3L965.6,914.2L966.1,915.1L966.5,915.9L967.0,916.8L967.5,917.7L967.9,918.6L968.4,919.5L968.9,920.4L969.3,921.3L969.8,922.2L970.3,923.0L970.7,923.9L971.2,924.8L971.7,925.7L972.2,926.6L972.6,927.5L973.1,928.3L973.6,929.2L974.1,930.1L974.5,931.0L975.0,931.9L975.5,932.7L976.0,933.6L976.5,934.5L977.0,935.4L977.4,936.3L977.9,937.1L978.4,938.0L978.9,938.9L979.4,939.8L979.9,940.6L980.4,941.5L980.9,942.4L981.4,943.3L981.9,944.1L982.4,945.0L982.9,945.9L983.4,946.7L983.9,947.6L984.4,948.5L984.9,949.3L985.4,950.2L985.9,951.1L986.4,951.9L986.9,952.8L987.4,953.7L987.9,954.5L988.4,955.4L988.9,956.2L989.5,957.1L990.0,958.0L990.5,958.8L991.0,959.7L991.5,960.5L992.1,961.4L992.6,962.3L993.1,963.1L993.6,964.0L994.2,964.8L994.7,965.7L995.2,966.5L995.8,967.4L996.3,968.2L996.8,969.1L997.4,969.9L997.9,970.8" fill="none" stroke="#ec1c24" stroke-width="2.3" stroke-linejoin="round"/>
<path d="M574.4,656.8L575.4,656.6L576.3,656.4L577.3,656.1L578.3,655.9L579.3,655.7L580.2,655.4L581.2,655.2L582.2,655.0L583.2,654.7L584.2,654.5L585.1,654.3L586.1,654.1L587.1,653.9L588.1,653.6L589.1,653.4L590.0,653.2L591.0,653.0L592.0,652.8L593.0,652.6L594.0,652.4L594.9,652.2L595.9,652.0L596.9,651.8L597.9,651.6L598.9,651.4L599.9,651.2L600.8,651.0L601.8,650.8L602.8,650.6L603.8,650.5L604.8,650.3L605.8,650.1L606.8,649.9L607.8,649.8L608.7,649.6L609.7,649.4L610.7,649.3L611.7,649.1L612.7,648.9L613.7,648.8L614.7,648.6L615.7,648.5L616.7,648.3L617.7,648.2L618.7,648.0L619.6,647.9L620.6,647.7L621.6,647.6L622.6,647.4L623.6,647.3L624.6,647.2L625.6,647.0L626.6,646.9L627.6,646.8L628.6,646.7L629.6,646.5L630.6,646.4L631.6,646.3L632.6,646.2L633.6,646.1L634.6,646.0L635.6,645.9L636.6,645.8L637.6,645.7L638.6,645.6L639.6,645.5L640.6,645.4L641.6,645.3L642.6,645.2L643.6,645.1L644.6,645.0L645.6,645.0L646.6,644.9L647.6,644.8L648.6,644.7L649.6,644.7L650.6,644.6L651.6,644.6L652.6,644.5L653.6,644.4L654.6,644.4L655.6,644.3L656.6,644.3L657.6,644.2L658.6,644.2L659.6,644.2L660.6,644.1L661.6,644.1L662.6,644.1L663.6,644.0L664.6,644.0L665.6,644.0L666.6,644.0L667.6,644.0L668.6,643.9L669.6,643.9L670.6,643.9L671.6,643.9L672.6,643.9L673.6,643.9L674.6,643.9L675.6,644.0L676.6,644.0L677.6,644.0L678.6,644.0L679.6,644.0L680.6,644.1L681.6,644.1L682.6,644.1L683.7,644.2L684.7,644.2L685.7,644.2L686.7,644.3L687.7,644.3L688.7,644.4L689.7,644.4L690.7,644.5L691.7,644.6L692.7,644.6L693.7,644.7L694.7,644.8L695.7,644.9L696.7,644.9L697.7,645.0L698.7,645.1L699.7,645.2L700.7,645.3L701.7,645.4L702.7,645.5L703.7,645.6L704.7,645.7L705.7,645.8L706.6,645.9L707.6,646.1L708.6,646.2L709.6,646.3L710.6,646.4L711.6,646.6L712.6,646.7L713.6,646.8L714.6,647.0L715.6,647.1L716.6,647.3L717.6,647.4L718.6,647.6L719.6,647.8L720.5,647.9L721.5,648.1L722.5,648.3L723.5,648.5L724.5,648.6L725.5,648.8L726.5,649.0L727.5,649.2L728.4,649.4L729.4,649.6L730.4,649.8L731.4,650.0L732.4,650.2L733.3,650.4L734.3,650.7L735.3,650.9L736.3,651.1L737.3,651.3L738.2,651.6L739.2,651.8L740.2,652.1L741.2,652.3L742.1,652.6L743.1,652.8L744.1,653.1L745.0,653.3L746.0,653.6L747.0,653.9L747.9,654.2L748.9,654.4L749.9,654.7L750.8,655.0L751.8,655.3L752.7,655.6L753.7,655.9L754.6,656.2L755.6,656.5L756.5,656.8L757.5,657.1L758.5,657.5L759.4,657.8L760.3,658.1L761.3,658.5L762.2,658.8L763.2,659.1L764.1,659.5L765.1,659.8L766.0,660.2L766.9,660.6L767.9,660.9L768.8,661.3L769.7,661.7L770.7,662.0L771.6,662.4L772.5,662.8L773.4,663.2L774.4,663.6L775.3,664.0L776.2,664.4L777.1,664.8L778.0,665.2L778.9,665.7L779.8,666.1L780.7,666.5L781.7,666.9L782.6,667.4L783.5,667.8L784.4,668.3L785.3,668.7L786.1,669.2L787.0,669.6L787.9,670.1L788.8,670.6L789.7,671.0L790.6,671.5L791.5,672.0L792.3,672.5L793.2,673.0L794.1,673.5L795.0,674.0L795.8,674.5L796.7,675.0L797.5,675.5L798.4,676.0L799.3,676.5L800.1,677.1L801.0,677.6L801.8,678.1L802.7,678.7L803.5,679.2L804.4,679.8L805.2,680.3L806.0,680.9L806.9,681.4L807.7,682.0L808.5,682.5L809.4,683.1L810.2,683.7L811.0,684.2L811.8,684.8L812.6,685.4L813.5,686.0L814.3,686.6L815.1,687.2L815.9,687.8L816.7,688.4L817.5,689.0L818.3,689.6L819.1,690.2L819.9,690.8L820.7,691.4L821.5,692.0L822.2,692.7L823.0,693.3L823.8,693.9L824.6,694.6L825.4,695.2L826.1,695.8L826.9,696.5L827.7,697.1L828.4,697.8L829.2,698.4L830.0,699.1L830.7,699.7L831.5,700.4L832.2,701.1L833.0,701.7L833.7,702.4L834.5,703.1L835.2,703.7L835.9,704.4L836.7,705.1L837.4,705.8L838.2,706.5L838.9,707.2L839.6,707.8L840.3,708.5L841.1,709.2L841.8,709.9L842.5,710.6L843.2,711.3L843.9,712.0L844.6,712.8L845.3,713.5L846.0,714.2L846.7,714.9L847.4,715.6L848.1,716.3L848.8,717.1L849.5,717.8L850.2,718.5L850.9,719.2L851.6,720.0L852.3,720.7L853.0,721.4L853.6,722.2L854.3,722.9L855.0,723.7L855.7,724.4L856.3,725.2L857.0,725.9L857.7,726.7L858.3,727.4L859.0,728.2L859.6,728.9L860.3,729.7L860.9,730.5L861.6,731.2L862.2,732.0L862.9,732.7L863.5,733.5L864.2,734.3L864.8,735.1L865.5,735.8L866.1,736.6L866.7,737.4L867.4,738.2L868.0,739.0L868.6,739.7L869.2,740.5L869.9,741.3L870.5,742.1L871.1,742.9L871.7,743.7L872.3,744.5L872.9,745.3L873.5,746.1L874.2,746.9L874.8,747.7L875.4,748.5L876.0,749.3L876.6,750.1L877.2,750.9L877.8,751.7L878.4,752.5L878.9,753.3L879.5,754.1L880.1,754.9L880.7,755.7L881.3,756.6L881.9,757.4L882.4,758.2L883.0,759.0L883.6,759.8L884.2,760.7L884.7,761.5L885.3,762.3L885.9,763.1L886.5,764.0L887.0,764.8L887.6,765.6L888.1,766.5L888.7,767.3L889.3,768.1L889.8,769.0L890.4,769.8L890.9,770.6L891.5,771.5L892.0,772.3L892.6,773.2L893.1,774.0L893.6,774.8L894.2,775.7L894.7,776.5L895.3,777.4L895.8,778.2L896.3,779.1L896.9,779.9L897.4,780.8L897.9,781.6L898.5,782.5L899.0,783.3L899.5,784.2L900.0,785.0L900.5,785.9L901.1,786.8L901.6,787.6L902.1,788.5L902.6,789.3L903.1,790.2L903.6,791.1L904.1,791.9L904.7,792.8L905.2,793.7L905.7,794.5L906.2,795.4L906.7,796.3L907.2,797.1L907.7,798.0L908.2,798.9L908.7,799.8L909.2,800.6L909.6,801.5L910.1,802.4L910.6,803.2L911.1,804.1L911.6,805.0L912.1,805.9L912.6,806.8L913.1,807.6L913.5,808.5L914.0,809.4L914.5,810.3L915.0,811.2L915.5,812.0L915.9,812.9L916.4,813.8L916.9,814.7L917.3,815.6L917.8,816.5L918.3,817.4L918.8,818.2L919.2,819.1L919.7,820.0L920.2,820.9L920.6,821.8L921.1,822.7L921.5,823.6L922.0,824.5L922.5,825.4L922.9,826.3L923.4,827.1L923.8,828.0L924.3,828.9L924.8,829.8L925.2,830.7L925.7,831.6L926.1,832.5L926.6,833.4L927.0,834.3L927.5,835.2L927.9,836.1L928.4,837.0L928.8,837.9L929.3,838.8L929.7,839.7L930.2,840.6L930.6,841.5L931.1,842.4L931.5,843.3L931.9,844.2L932.4,845.1L932.8,846.0L933.3,846.9L933.7,847.8L934.2,848.7L934.6,849.6L935.0,850.5L935.5,851.4L935.9,852.3L936.4,853.2L936.8,854.1L937.2,855.0L937.7,855.9L938.1,856.8L938.5,857.7L939.0,858.6L939.4,859.5L939.9,860.4L940.3,861.3L940.7,862.2L941.2,863.1L941.6,864.0L942.0,864.9L942.5,865.8L942.9,866.7L943.4,867.6L943.8,868.5L944.2,869.4L944.7,870.3L945.1,871.2L945.5,872.1L946.0,873.0L946.4,873.9L946.9,874.8L947.3,875.8L947.7,876.7L948.2,877.6L948.6,878.5L949.0,879.4L949.5,880.3L949.9,881.2L950.4,882.1L950.8,883.0L951.2,883.9L951.7,884.8L952.1,885.7L952.6,886.6L953.0,887.5L953.4,888.4L953.9,889.3L954.3,890.2L954.8,891.1L955.2,892.0L955.7,892.9L956.1,893.8L956.5,894.7L957.0,895.6L957.4,896.5L957.9,897.4L958.3,898.3L958.8,899.2L959.2,900.1L959.7,901.0L960.1,901.9L960.6,902.8L961.0,903.6L961.5,904.5L961.9,905.4L962.4,906.3L962.8,907.2L963.3,908.1L963.8,909.0L964.2,909.9L964.7,910.8L965.1,911.7L965.6,912.6L966.1,913.5L966.5,914.4L967.0,915.3L967.5,916.1L967.9,917.0L968.4,917.9L968.9,918.8L969.3,919.7L969.8,920.6L970.3,921.5L970.7,922.3L971.2,923.2L971.7,924.1L972.2,925.0L972.6,925.9L973.1,926.8L973.6,927.6L974.1,928.5L974.6,929.4L975.0,930.3L975.5,931.2L976.0,932.0L976.5,932.9L977.0,933.8L977.5,934.7L978.0,935.5L978.5,936.4L979.0,937.3L979.5,938.2L980.0,939.0L980.5,939.9L981.0,940.8L981.5,941.6L982.0,942.5L982.5,943.4L983.0,944.2L983.5,945.1L984.0,946.0L984.5,946.8L985.0,947.7L985.5,948.5L986.1,949.4L986.6,950.3L987.1,951.1L987.6,952.0L988.1,952.8L988.7,953.7L989.2,954.5L989.7,955.4L990.3,956.2L990.8,957.1L991.3,957.9L991.9,958.8L992.4,959.6L992.9,960.5L993.5,961.3L994.0,962.2L994.6,963.0L995.1,963.8L995.7,964.7L996.2,965.5L996.8,966.4L997.3,967.2L997.9,968.0" fill="none" stroke="#262a92" stroke-width="2.3" stroke-linecap="round" stroke-dasharray="3.7 6.38"/>
<path d="M574.4,603.6L575.4,603.4L576.4,603.2L577.3,603.0L578.3,602.8L579.3,602.6L580.3,602.4L581.3,602.2L582.3,602.0L583.2,601.8L584.2,601.6L585.2,601.5L586.2,601.3L587.2,601.1L588.2,600.9L589.2,600.7L590.2,600.5L591.1,600.4L592.1,600.2L593.1,600.0L594.1,599.8L595.1,599.7L596.1,599.5L597.1,599.3L598.1,599.2L599.0,599.0L600.0,598.8L601.0,598.7L602.0,598.5L603.0,598.3L604.0,598.2L605.0,598.0L606.0,597.9L607.0,597.7L608.0,597.6L609.0,597.4L609.9,597.3L610.9,597.1L611.9,597.0L612.9,596.9L613.9,596.7L614.9,596.6L615.9,596.4L616.9,596.3L617.9,596.2L618.9,596.0L619.9,595.9L620.9,595.8L621.9,595.7L622.9,595.5L623.9,595.4L624.9,595.3L625.9,595.2L626.8,595.1L627.8,594.9L628.8,594.8L629.8,594.7L630.8,594.6L631.8,594.5L632.8,594.4L633.8,594.3L634.8,594.2L635.8,594.1L636.8,594.0L637.8,593.9L638.8,593.8L639.8,593.7L640.8,593.6L641.8,593.5L642.8,593.4L643.8,593.3L644.8,593.2L645.8,593.1L646.8,593.1L647.8,593.0L648.8,592.9L649.8,592.8L650.8,592.7L651.8,592.7L652.8,592.6L653.8,592.5L654.8,592.4L655.8,592.4L656.8,592.3L657.8,592.2L658.8,592.2L659.8,592.1L660.8,592.1L661.8,592.0L662.8,591.9L663.8,591.9L664.8,591.8L665.8,591.8L666.8,591.7L667.8,591.7L668.8,591.6L669.8,591.6L670.8,591.5L671.8,591.5L672.8,591.5L673.8,591.4L674.8,591.4L675.8,591.3L676.8,591.3L677.8,591.3L678.8,591.2L679.9,591.2L680.9,591.2L681.9,591.2L682.9,591.1L683.9,591.1L684.9,591.1L685.9,591.1L686.9,591.0L687.9,591.0L688.9,591.0L689.9,591.0L690.9,591.0L691.9,591.0L692.9,591.0L693.9,591.0L694.9,591.0L695.9,590.9L696.9,590.9L697.9,590.9L698.9,590.9L699.9,590.9L700.9,590.9L701.9,591.0L702.9,591.0L703.9,591.0L704.9,591.0L705.9,591.0L706.9,591.0L707.9,591.0L708.9,591.0L709.9,591.1L710.9,591.1L711.9,591.1L712.9,591.1L714.0,591.1L715.0,591.2L716.0,591.2L717.0,591.2L718.0,591.3L719.0,591.3L720.0,591.3L721.0,591.4L722.0,591.4L723.0,591.4L724.0,591.5L725.0,591.5L726.0,591.6L727.0,591.6L728.0,591.6L729.0,591.7L730.0,591.7L731.0,591.8L732.0,591.8L733.0,591.9L734.0,592.0L735.0,592.0L736.0,592.1L737.0,592.1L738.0,592.2L739.0,592.3L740.0,592.3L741.0,592.4L742.0,592.5L743.0,592.5L744.0,592.6L745.0,592.7L746.0,592.8L747.0,592.8L748.0,592.9L749.0,593.0L750.0,593.1L751.0,593.2L752.0,593.3L753.0,593.4L754.0,593.4L755.0,593.5L756.0,593.6L757.0,593.7L758.0,593.8L759.0,594.0L760.0,594.1L761.0,594.2L762.0,594.3L763.0,594.4L764.0,594.5L765.0,594.7L766.0,594.8L767.0,594.9L767.9,595.0L768.9,595.2L769.9,595.3L770.9,595.5L771.9,595.6L772.9,595.7L773.9,595.9L774.9,596.1L775.9,596.2L776.9,596.4L777.9,596.5L778.9,596.7L779.8,596.9L780.8,597.1L781.8,597.2L782.8,597.4L783.8,597.6L784.8,597.8L785.8,598.0L786.7,598.2L787.7,598.4L788.7,598.6L789.7,598.8L790.7,599.0L791.6,599.3L792.6,599.5L793.6,599.7L794.6,599.9L795.5,600.2L796.5,600.4L797.5,600.7L798.5,600.9L799.4,601.2L800.4,601.5L801.4,601.7L802.3,602.0L803.3,602.3L804.2,602.6L805.2,602.9L806.2,603.1L807.1,603.5L808.1,603.8L809.0,604.1L810.0,604.4L810.9,604.7L811.9,605.1L812.8,605.4L813.8,605.7L814.7,606.1L815.6,606.4L816.6,606.8L817.5,607.2L818.4,607.6L819.4,607.9L820.3,608.3L821.2,608.7L822.1,609.1L823.0,609.5L824.0,610.0L824.9,610.4L825.8,610.8L826.7,611.2L827.6,611.7L828.5,612.1L829.4,612.6L830.2,613.1L831.1,613.5L832.0,614.0L832.9,614.5L833.8,615.0L834.6,615.5L835.5,616.0L836.4,616.5L837.2,617.0L838.1,617.5L838.9,618.1L839.8,618.6L840.6,619.1L841.5,619.7L842.3,620.2L843.2,620.8L844.0,621.3L844.8,621.9L845.6,622.5L846.5,623.1L847.3,623.6L848.1,624.2L848.9,624.8L849.7,625.4L850.5,626.0L851.3,626.6L852.1,627.2L852.9,627.9L853.7,628.5L854.5,629.1L855.2,629.7L856.0,630.4L856.8,631.0L857.6,631.7L858.3,632.3L859.1,633.0L859.8,633.6L860.6,634.3L861.3,634.9L862.1,635.6L862.8,636.3L863.6,637.0L864.3,637.7L865.0,638.3L865.8,639.0L866.5,639.7L867.2,640.4L867.9,641.1L868.6,641.8L869.3,642.6L870.0,643.3L870.7,644.0L871.4,644.7L872.1,645.5L872.8,646.2L873.5,646.9L874.2,647.7L874.8,648.4L875.5,649.1L876.2,649.9L876.8,650.6L877.5,651.4L878.1,652.2L878.8,652.9L879.4,653.7L880.1,654.5L880.7,655.2L881.3,656.0L882.0,656.8L882.6,657.6L883.2,658.4L883.9,659.2L884.5,659.9L885.1,660.7L885.7,661.5L886.3,662.3L886.9,663.1L887.5,663.9L888.1,664.8L888.7,665.6L889.3,666.4L889.8,667.2L890.4,668.0L891.0,668.8L891.6,669.7L892.1,670.5L892.7,671.3L893.3,672.2L893.8,673.0L894.4,673.8L894.9,674.7L895.5,675.5L896.0,676.4L896.5,677.2L897.1,678.0L897.6,678.9L898.1,679.7L898.7,680.6L899.2,681.5L899.7,682.3L900.2,683.2L900.7,684.0L901.2,684.9L901.7,685.8L902.2,686.6L902.7,687.5L903.2,688.4L903.7,689.3L904.2,690.1L904.7,691.0L905.2,691.9L905.7,692.8L906.2,693.6L906.6,694.5L907.1,695.4L907.6,696.3L908.0,697.2L908.5,698.1L909.0,699.0L909.4,699.9L909.9,700.8L910.3,701.6L910.8,702.5L911.2,703.4L911.7,704.3L912.1,705.2L912.6,706.1L913.0,707.0L913.4,708.0L913.9,708.9L914.3,709.8L914.7,710.7L915.1,711.6L915.6,712.5L916.0,713.4L916.4,714.3L916.8,715.2L917.2,716.1L917.6,717.1L918.0,718.0L918.4,718.9L918.8,719.8L919.2,720.7L919.6,721.6L920.0,722.6L920.4,723.5L920.8,724.4L921.2,725.3L921.6,726.3L922.0,727.2L922.4,728.1L922.8,729.0L923.1,730.0L923.5,730.9L923.9,731.8L924.3,732.8L924.6,733.7L925.0,734.6L925.4,735.6L925.8,736.5L926.1,737.4L926.5,738.4L926.8,739.3L927.2,740.2L927.6,741.2L927.9,742.1L928.3,743.0L928.6,744.0L929.0,744.9L929.3,745.9L929.7,746.8L930.0,747.7L930.4,748.7L930.7,749.6L931.1,750.6L931.4,751.5L931.8,752.4L932.1,753.4L932.4,754.3L932.8,755.3L933.1,756.2L933.5,757.2L933.8,758.1L934.1,759.1L934.5,760.0L934.8,760.9L935.1,761.9L935.5,762.8L935.8,763.8L936.1,764.7L936.4,765.7L936.8,766.6L937.1,767.6L937.4,768.5L937.7,769.5L938.1,770.4L938.4,771.4L938.7,772.3L939.0,773.3L939.4,774.2L939.7,775.2L940.0,776.1L940.3,777.1L940.6,778.0L940.9,779.0L941.3,779.9L941.6,780.9L941.9,781.8L942.2,782.8L942.5,783.7L942.8,784.7L943.1,785.7L943.5,786.6L943.8,787.6L944.1,788.5L944.4,789.5L944.7,790.4L945.0,791.4L945.3,792.3L945.6,793.3L945.9,794.2L946.2,795.2L946.5,796.2L946.8,797.1L947.1,798.1L947.4,799.0L947.7,800.0L948.0,800.9L948.3,801.9L948.7,802.8L949.0,803.8L949.3,804.8L949.5,805.7L949.8,806.7L950.1,807.6L950.4,808.6L950.7,809.5L951.0,810.5L951.3,811.5L951.6,812.4L951.9,813.4L952.2,814.3L952.5,815.3L952.8,816.3L953.1,817.2L953.4,818.2L953.7,819.1L954.0,820.1L954.3,821.1L954.6,822.0L954.8,823.0L955.1,823.9L955.4,824.9L955.7,825.9L956.0,826.8L956.3,827.8L956.6,828.7L956.9,829.7L957.2,830.7L957.4,831.6L957.7,832.6L958.0,833.5L958.3,834.5L958.6,835.5L958.9,836.4L959.2,837.4L959.4,838.4L959.7,839.3L960.0,840.3L960.3,841.2L960.6,842.2L960.9,843.2L961.1,844.1L961.4,845.1L961.7,846.1L962.0,847.0L962.3,848.0L962.5,848.9L962.8,849.9L963.1,850.9L963.4,851.8L963.7,852.8L963.9,853.8L964.2,854.7L964.5,855.7L964.8,856.6L965.1,857.6L965.3,858.6L965.6,859.5L965.9,860.5L966.2,861.5L966.5,862.4L966.7,863.4L967.0,864.4L967.3,865.3L967.6,866.3L967.8,867.2L968.1,868.2L968.4,869.2L968.7,870.1L969.0,871.1L969.2,872.1L969.5,873.0L969.8,874.0L970.1,875.0L970.3,875.9L970.6,876.9L970.9,877.9L971.2,878.8L971.4,879.8L971.7,880.7L972.0,881.7L972.3,882.7L972.5,883.6L972.8,884.6L973.1,885.6L973.4,886.5L973.7,887.5L973.9,888.5L974.2,889.4L974.5,890.4L974.8,891.3L975.0,892.3L975.3,893.3L975.6,894.2L975.9,895.2L976.1,896.2L976.4,897.1L976.7,898.1L977.0,899.1L977.3,900.0L977.5,901.0L977.8,902.0L978.1,902.9L978.4,903.9L978.6,904.8L978.9,905.8L979.2,906.8L979.5,907.7L979.8,908.7L980.0,909.7L980.3,910.6L980.6,911.6L980.9,912.6L981.1,913.5L981.4,914.5L981.7,915.4L982.0,916.4L982.3,917.4L982.5,918.3L982.8,919.3L983.1,920.3L983.4,921.2L983.7,922.2L984.0,923.1L984.2,924.1L984.5,925.1L984.8,926.0L985.1,927.0L985.4,928.0L985.6,928.9L985.9,929.9L986.2,930.8L986.5,931.8L986.8,932.8L987.1,933.7L987.4,934.7L987.6,935.7L987.9,936.6L988.2,937.6L988.5,938.5L988.8,939.5L989.1,940.5L989.4,941.4L989.7,942.4L989.9,943.3L990.2,944.3L990.5,945.3L990.8,946.2L991.1,947.2L991.4,948.1L991.7,949.1L992.0,950.1L992.3,951.0L992.6,952.0L992.8,952.9L993.1,953.9L993.4,954.9L993.7,955.8L994.0,956.8L994.3,957.7L994.6,958.7L994.9,959.7L995.2,960.6L995.5,961.6L995.8,962.5L996.1,963.5L996.4,964.4L996.7,965.4L997.0,966.4L997.3,967.3L997.6,968.3L997.9,969.2" fill="none" stroke="#95449f" stroke-width="1.75" stroke-linecap="round" stroke-dasharray="4.0 4.05"/>
<path d="M574.4,685.4L575.3,685.0L576.3,684.7L577.2,684.3L578.1,683.9L579.1,683.6L580.0,683.2L580.9,682.9L581.9,682.5L582.8,682.2L583.8,681.8L584.7,681.5L585.6,681.1L586.6,680.8L587.5,680.4L588.5,680.1L589.4,679.7L590.3,679.4L591.3,679.1L592.2,678.7L593.2,678.4L594.1,678.0L595.1,677.7L596.0,677.4L597.0,677.1L597.9,676.7L598.8,676.4L599.8,676.1L600.7,675.8L601.7,675.4L602.6,675.1L603.6,674.8L604.5,674.5L605.5,674.2L606.5,673.9L607.4,673.6L608.4,673.3L609.3,673.0L610.3,672.7L611.2,672.4L612.2,672.1L613.1,671.8L614.1,671.5L615.1,671.2L616.0,670.9L617.0,670.6L617.9,670.3L618.9,670.1L619.9,669.8L620.8,669.5L621.8,669.2L622.8,669.0L623.7,668.7L624.7,668.4L625.6,668.1L626.6,667.9L627.6,667.6L628.6,667.4L629.5,667.1L630.5,666.9L631.5,666.6L632.4,666.4L633.4,666.1L634.4,665.9L635.3,665.6L636.3,665.4L637.3,665.2L638.3,664.9L639.2,664.7L640.2,664.5L641.2,664.2L642.2,664.0L643.1,663.8L644.1,663.6L645.1,663.4L646.1,663.2L647.1,663.0L648.0,662.8L649.0,662.6L650.0,662.4L651.0,662.2L652.0,662.0L653.0,661.8L653.9,661.6L654.9,661.4L655.9,661.2L656.9,661.0L657.9,660.9L658.9,660.7L659.9,660.5L660.8,660.4L661.8,660.2L662.8,660.0L663.8,659.9L664.8,659.7L665.8,659.6L666.8,659.4L667.8,659.3L668.8,659.2L669.8,659.0L670.8,658.9L671.7,658.7L672.7,658.6L673.7,658.5L674.7,658.4L675.7,658.3L676.7,658.1L677.7,658.0L678.7,657.9L679.7,657.8L680.7,657.7L681.7,657.6L682.7,657.5L683.7,657.5L684.7,657.4L685.7,657.3L686.7,657.2L687.7,657.1L688.7,657.1L689.7,657.0L690.7,656.9L691.7,656.9L692.7,656.8L693.7,656.8L694.7,656.7L695.7,656.7L696.7,656.7L697.7,656.6L698.7,656.6L699.7,656.6L700.7,656.5L701.7,656.5L702.7,656.5L703.7,656.5L704.7,656.5L705.7,656.5L706.7,656.5L707.7,656.5L708.7,656.5L709.7,656.5L710.7,656.6L711.7,656.6L712.7,656.6L713.7,656.7L714.7,656.7L715.7,656.7L716.7,656.8L717.7,656.8L718.7,656.9L719.7,657.0L720.7,657.0L721.7,657.1L722.7,657.2L723.7,657.3L724.7,657.3L725.7,657.4L726.7,657.5L727.7,657.6L728.7,657.7L729.7,657.9L730.7,658.0L731.7,658.1L732.7,658.2L733.7,658.4L734.7,658.5L735.7,658.6L736.7,658.8L737.6,659.0L738.6,659.1L739.6,659.3L740.6,659.4L741.6,659.6L742.6,659.8L743.6,660.0L744.5,660.2L745.5,660.4L746.5,660.6L747.5,660.8L748.5,661.0L749.4,661.2L750.4,661.5L751.4,661.7L752.4,661.9L753.3,662.2L754.3,662.4L755.3,662.7L756.2,663.0L757.2,663.2L758.2,663.5L759.1,663.8L760.1,664.1L761.0,664.4L762.0,664.7L763.0,665.0L763.9,665.3L764.9,665.6L765.8,665.9L766.8,666.2L767.7,666.6L768.6,666.9L769.6,667.2L770.5,667.6L771.5,667.9L772.4,668.3L773.3,668.7L774.3,669.0L775.2,669.4L776.1,669.8L777.0,670.2L778.0,670.6L778.9,671.0L779.8,671.4L780.7,671.8L781.6,672.2L782.6,672.6L783.5,673.0L784.4,673.4L785.3,673.9L786.2,674.3L787.1,674.7L788.0,675.2L788.9,675.6L789.8,676.1L790.7,676.5L791.5,677.0L792.4,677.5L793.3,677.9L794.2,678.4L795.1,678.9L796.0,679.4L796.8,679.9L797.7,680.4L798.6,680.9L799.4,681.4L800.3,681.9L801.2,682.4L802.0,682.9L802.9,683.4L803.7,683.9L804.6,684.5L805.4,685.0L806.3,685.5L807.1,686.1L808.0,686.6L808.8,687.2L809.6,687.7L810.5,688.3L811.3,688.8L812.1,689.4L813.0,690.0L813.8,690.5L814.6,691.1L815.4,691.7L816.2,692.3L817.1,692.9L817.9,693.4L818.7,694.0L819.5,694.6L820.3,695.2L821.1,695.8L821.9,696.4L822.7,697.1L823.5,697.7L824.2,698.3L825.0,698.9L825.8,699.5L826.6,700.2L827.4,700.8L828.1,701.4L828.9,702.1L829.7,702.7L830.5,703.4L831.2,704.0L832.0,704.7L832.7,705.3L833.5,706.0L834.2,706.6L835.0,707.3L835.7,708.0L836.5,708.6L837.2,709.3L838.0,710.0L838.7,710.7L839.4,711.3L840.2,712.0L840.9,712.7L841.6,713.4L842.4,714.1L843.1,714.8L843.8,715.5L844.5,716.2L845.2,716.9L845.9,717.6L846.6,718.3L847.3,719.0L848.0,719.7L848.7,720.5L849.4,721.2L850.1,721.9L850.8,722.6L851.5,723.4L852.2,724.1L852.9,724.8L853.6,725.6L854.2,726.3L854.9,727.0L855.6,727.8L856.2,728.5L856.9,729.3L857.6,730.0L858.2,730.8L858.9,731.5L859.5,732.3L860.2,733.1L860.8,733.8L861.5,734.6L862.1,735.3L862.8,736.1L863.4,736.9L864.0,737.7L864.7,738.4L865.3,739.2L865.9,740.0L866.6,740.8L867.2,741.6L867.8,742.4L868.4,743.1L869.0,743.9L869.6,744.7L870.2,745.5L870.9,746.3L871.5,747.1L872.1,747.9L872.7,748.7L873.2,749.5L873.8,750.4L874.4,751.2L875.0,752.0L875.6,752.8L876.2,753.6L876.8,754.4L877.3,755.2L877.9,756.1L878.5,756.9L879.0,757.7L879.6,758.5L880.2,759.4L880.7,760.2L881.3,761.0L881.8,761.9L882.4,762.7L883.0,763.5L883.5,764.4L884.1,765.2L884.6,766.1L885.1,766.9L885.7,767.7L886.2,768.6L886.8,769.4L887.3,770.3L887.8,771.1L888.4,772.0L888.9,772.8L889.4,773.7L889.9,774.5L890.5,775.4L891.0,776.2L891.5,777.1L892.0,778.0L892.5,778.8L893.0,779.7L893.6,780.5L894.1,781.4L894.6,782.3L895.1,783.1L895.6,784.0L896.1,784.9L896.6,785.7L897.1,786.6L897.6,787.5L898.1,788.3L898.6,789.2L899.1,790.1L899.6,790.9L900.1,791.8L900.6,792.7L901.1,793.5L901.6,794.4L902.0,795.3L902.5,796.2L903.0,797.0L903.5,797.9L904.0,798.8L904.5,799.7L905.0,800.6L905.4,801.4L905.9,802.3L906.4,803.2L906.9,804.1L907.3,805.0L907.8,805.8L908.3,806.7L908.8,807.6L909.2,808.5L909.7,809.4L910.2,810.3L910.6,811.1L911.1,812.0L911.6,812.9L912.0,813.8L912.5,814.7L913.0,815.6L913.4,816.5L913.9,817.4L914.4,818.2L914.8,819.1L915.3,820.0L915.7,820.9L916.2,821.8L916.7,822.7L917.1,823.6L917.6,824.5L918.0,825.4L918.5,826.3L918.9,827.2L919.4,828.1L919.8,828.9L920.3,829.8L920.8,830.7L921.2,831.6L921.7,832.5L922.1,833.4L922.6,834.3L923.0,835.2L923.5,836.1L923.9,837.0L924.3,837.9L924.8,838.8L925.2,839.7L925.7,840.6L926.1,841.5L926.6,842.4L927.0,843.3L927.5,844.2L927.9,845.1L928.4,846.0L928.8,846.9L929.3,847.8L929.7,848.7L930.1,849.6L930.6,850.5L931.0,851.4L931.5,852.3L931.9,853.2L932.4,854.0L932.8,854.9L933.2,855.8L933.7,856.7L934.1,857.6L934.6,858.5L935.0,859.4L935.5,860.3L935.9,861.2L936.3,862.1L936.8,863.0L937.2,863.9L937.7,864.8L938.1,865.7L938.6,866.6L939.0,867.5L939.5,868.4L939.9,869.3L940.3,870.2L940.8,871.1L941.2,872.0L941.7,872.9L942.1,873.8L942.6,874.7L943.0,875.6L943.5,876.5L943.9,877.4L944.4,878.3L944.8,879.2L945.2,880.1L945.7,881.0L946.1,881.9L946.6,882.8L947.0,883.7L947.5,884.6L947.9,885.5L948.4,886.4L948.8,887.2L949.3,888.1L949.7,889.0L950.2,889.9L950.7,890.8L951.1,891.7L951.6,892.6L952.0,893.5L952.5,894.4L952.9,895.3L953.4,896.2L953.9,897.1L954.3,898.0L954.8,898.8L955.2,899.7L955.7,900.6L956.2,901.5L956.6,902.4L957.1,903.3L957.6,904.2L958.0,905.1L958.5,905.9L959.0,906.8L959.4,907.7L959.9,908.6L960.4,909.5L960.8,910.4L961.3,911.3L961.8,912.1L962.3,913.0L962.7,913.9L963.2,914.8L963.7,915.7L964.2,916.5L964.7,917.4L965.1,918.3L965.6,919.2L966.1,920.1L966.6,920.9L967.1,921.8L967.6,922.7L968.0,923.6L968.5,924.4L969.0,925.3L969.5,926.2L970.0,927.0L970.5,927.9L971.0,928.8L971.5,929.7L972.0,930.5L972.5,931.4L973.0,932.3L973.5,933.1L974.0,934.0L974.5,934.8L975.0,935.7L975.5,936.6L976.1,937.4L976.6,938.3L977.1,939.2L977.6,940.0L978.1,940.9L978.6,941.7L979.2,942.6L979.7,943.4L980.2,944.3L980.7,945.1L981.3,946.0L981.8,946.9L982.3,947.7L982.8,948.6L983.4,949.4L983.9,950.2L984.5,951.1L985.0,951.9L985.5,952.8L986.1,953.6L986.6,954.5L987.2,955.3L987.7,956.1L988.3,957.0L988.8,957.8L989.4,958.6L989.9,959.5L990.5,960.3L991.0,961.1L991.6,962.0L992.2,962.8L992.7,963.6L993.3,964.5L993.9,965.3L994.4,966.1L995.0,966.9L995.6,967.7L996.2,968.6L996.7,969.4L997.3,970.2L997.9,971.0" fill="none" stroke="#b4241a" stroke-width="2.85" stroke-linecap="round" stroke-dasharray="0 6.3"/>
<text x="253.99" y="512.45" class="t" style="font-size:27.6px">(</text>
<text x="275.12" y="512.45" class="t" style="font-size:27.6px">)</text>
<text x="263.04" y="512.45" class="t bd" style="font-size:25.0px">a</text>
<text x="770.89" y="512.45" class="t" style="font-size:27.6px">(</text>
<text x="792.02" y="512.45" class="t" style="font-size:27.6px">)</text>
<text x="779.80" y="512.45" class="t bd" style="font-size:25.0px">b</text>
<text x="253.99" y="1063.25" class="t" style="font-size:27.6px">(</text>
<text x="275.12" y="1063.25" class="t" style="font-size:27.6px">)</text>
<text x="263.84" y="1063.25" class="t bd" style="font-size:25.0px">c</text>
<text x="770.89" y="1063.25" class="t" style="font-size:27.6px">(</text>
<text x="792.02" y="1063.25" class="t" style="font-size:27.6px">)</text>
<text x="779.08" y="1063.25" class="t bd" style="font-size:25.0px">d</text>
<text x="80.74" y="212.70" class="t" textLength="33.19" lengthAdjust="spacingAndGlyphs">LR</text>
<path d="M116.00,201.80L116.90,201.90L120.60,194.00Q120.40,193.20 119.40,193.30Q118.60,193.50 118.50,194.10Z" fill="#1a1a1a"/>
<text x="123.09" y="212.70" class="t">,</text>
<text x="137.81" y="212.70" class="t it">a</text>
<path d="M159.50,203.45H176.40M159.50,208.35H176.40" stroke="#333" stroke-width="1.25" fill="none"/>
<text x="184.58" y="212.70" class="t">4</text>
<path d="M205.00,205.20H270.30" fill="none" stroke="#ec1c24" stroke-width="2.3" stroke-linejoin="round"/>
<text x="98.99" y="245.90" class="t it" transform="translate(98.99,245.90) scale(1.12,1) translate(-98.99,-245.90)">S</text>
<path d="M115.80,235.00L116.70,235.10L120.60,227.20Q120.40,226.40 119.40,226.50Q118.60,226.70 118.50,227.30Z" fill="#1a1a1a"/>
<text x="123.09" y="245.90" class="t">,</text>
<text x="137.81" y="245.90" class="t it">a</text>
<path d="M159.50,236.65H176.40M159.50,241.55H176.40" stroke="#333" stroke-width="1.25" fill="none"/>
<text x="184.58" y="245.90" class="t">4</text>
<path d="M206.70,238.40H269.60" fill="none" stroke="#262a92" stroke-width="2.3" stroke-linecap="round" stroke-dasharray="3.7 6.38"/>
<text x="80.74" y="348.00" class="t" textLength="33.19" lengthAdjust="spacingAndGlyphs">LR</text>
<path d="M116.00,337.10L116.90,337.20L120.60,329.30Q120.40,328.50 119.40,328.60Q118.60,328.80 118.50,329.40Z" fill="#1a1a1a"/>
<text x="123.09" y="348.00" class="t">,</text>
<text x="137.81" y="348.00" class="t it">a</text>
<path d="M159.50,338.75H176.40M159.50,343.65H176.40" stroke="#333" stroke-width="1.25" fill="none"/>
<text x="184.58" y="348.00" class="t">2</text>
<path d="M205.65,340.50H268.90" fill="none" stroke="#b4241a" stroke-width="2.85" stroke-linecap="round" stroke-dasharray="0 6.3"/>
<text x="98.99" y="381.80" class="t it" transform="translate(98.99,381.80) scale(1.12,1) translate(-98.99,-381.80)">S</text>
<path d="M115.80,370.90L116.70,371.00L120.60,363.10Q120.40,362.30 119.40,362.40Q118.60,362.60 118.50,363.20Z" fill="#1a1a1a"/>
<text x="123.09" y="381.80" class="t">,</text>
<text x="137.81" y="381.80" class="t it">a</text>
<path d="M159.50,372.55H176.40M159.50,377.45H176.40" stroke="#333" stroke-width="1.25" fill="none"/>
<text x="184.58" y="381.80" class="t">2</text>
<path d="M206.20,374.30H266.60" fill="none" stroke="#95449f" stroke-width="1.75" stroke-linecap="round" stroke-dasharray="4.0 4.05"/>
<text x="597.64" y="238.00" class="t" textLength="33.19" lengthAdjust="spacingAndGlyphs">LR</text>
<path d="M632.90,227.10L633.80,227.20L637.50,219.30Q637.30,218.50 636.30,218.60Q635.50,218.80 635.40,219.40Z" fill="#1a1a1a"/>
<text x="639.99" y="238.00" class="t">,</text>
<text x="654.71" y="238.00" class="t it">a</text>
<path d="M676.40,228.75H693.30M676.40,233.65H693.30" stroke="#333" stroke-width="1.25" fill="none"/>
<text x="701.48" y="238.00" class="t">4</text>
<path d="M721.90,230.50H787.20" fill="none" stroke="#ec1c24" stroke-width="2.3" stroke-linejoin="round"/>
<text x="615.89" y="271.20" class="t it" transform="translate(615.89,271.20) scale(1.12,1) translate(-615.89,-271.20)">S</text>
<path d="M632.70,260.30L633.60,260.40L637.50,252.50Q637.30,251.70 636.30,251.80Q635.50,252.00 635.40,252.60Z" fill="#1a1a1a"/>
<text x="639.99" y="271.20" class="t">,</text>
<text x="654.71" y="271.20" class="t it">a</text>
<path d="M676.40,261.95H693.30M676.40,266.85H693.30" stroke="#333" stroke-width="1.25" fill="none"/>
<text x="701.48" y="271.20" class="t">4</text>
<path d="M723.60,263.70H786.50" fill="none" stroke="#262a92" stroke-width="2.3" stroke-linecap="round" stroke-dasharray="3.7 6.38"/>
<text x="597.64" y="305.70" class="t" textLength="33.19" lengthAdjust="spacingAndGlyphs">LR</text>
<path d="M632.90,294.80L633.80,294.90L637.50,287.00Q637.30,286.20 636.30,286.30Q635.50,286.50 635.40,287.10Z" fill="#1a1a1a"/>
<text x="639.99" y="305.70" class="t">,</text>
<text x="654.71" y="305.70" class="t it">a</text>
<path d="M676.40,296.45H693.30M676.40,301.35H693.30" stroke="#333" stroke-width="1.25" fill="none"/>
<text x="701.48" y="305.70" class="t">2</text>
<path d="M722.55,298.20H785.80" fill="none" stroke="#b4241a" stroke-width="2.85" stroke-linecap="round" stroke-dasharray="0 6.3"/>
<text x="615.89" y="339.00" class="t it" transform="translate(615.89,339.00) scale(1.12,1) translate(-615.89,-339.00)">S</text>
<path d="M632.70,328.10L633.60,328.20L637.50,320.30Q637.30,319.50 636.30,319.60Q635.50,319.80 635.40,320.40Z" fill="#1a1a1a"/>
<text x="639.99" y="339.00" class="t">,</text>
<text x="654.71" y="339.00" class="t it">a</text>
<path d="M676.40,329.75H693.30M676.40,334.65H693.30" stroke="#333" stroke-width="1.25" fill="none"/>
<text x="701.48" y="339.00" class="t">2</text>
<path d="M723.10,331.50H783.50" fill="none" stroke="#95449f" stroke-width="1.75" stroke-linecap="round" stroke-dasharray="4.0 4.05"/>
<text x="80.74" y="831.85" class="t" textLength="33.19" lengthAdjust="spacingAndGlyphs">LR</text>
<path d="M116.00,820.95L116.90,821.05L120.60,813.15Q120.40,812.35 119.40,812.45Q118.60,812.65 118.50,813.25Z" fill="#1a1a1a"/>
<text x="123.09" y="831.85" class="t">,</text>
<text x="137.81" y="831.85" class="t it">a</text>
<path d="M159.50,822.60H176.40M159.50,827.50H176.40" stroke="#333" stroke-width="1.25" fill="none"/>
<text x="184.58" y="831.85" class="t">8</text>
<path d="M205.00,823.90H270.30" fill="none" stroke="#ec1c24" stroke-width="2.3" stroke-linejoin="round"/>
<text x="98.99" y="865.75" class="t it" transform="translate(98.99,865.75) scale(1.12,1) translate(-98.99,-865.75)">S</text>
<path d="M115.80,854.85L116.70,854.95L120.60,847.05Q120.40,846.25 119.40,846.35Q118.60,846.55 118.50,847.15Z" fill="#1a1a1a"/>
<text x="123.09" y="865.75" class="t">,</text>
<text x="137.81" y="865.75" class="t it">a</text>
<path d="M159.50,856.50H176.40M159.50,861.40H176.40" stroke="#333" stroke-width="1.25" fill="none"/>
<text x="184.58" y="865.75" class="t">8</text>
<path d="M206.70,857.80H269.60" fill="none" stroke="#262a92" stroke-width="2.3" stroke-linecap="round" stroke-dasharray="3.7 6.38"/>
<text x="80.74" y="899.75" class="t" textLength="33.19" lengthAdjust="spacingAndGlyphs">LR</text>
<path d="M116.00,888.85L116.90,888.95L120.60,881.05Q120.40,880.25 119.40,880.35Q118.60,880.55 118.50,881.15Z" fill="#1a1a1a"/>
<text x="123.09" y="899.75" class="t">,</text>
<text x="137.81" y="899.75" class="t it">a</text>
<path d="M159.50,890.50H176.40M159.50,895.40H176.40" stroke="#333" stroke-width="1.25" fill="none"/>
<text x="184.58" y="899.75" class="t">6</text>
<path d="M205.65,891.80H268.90" fill="none" stroke="#b4241a" stroke-width="2.85" stroke-linecap="round" stroke-dasharray="0 6.3"/>
<text x="98.99" y="933.25" class="t it" transform="translate(98.99,933.25) scale(1.12,1) translate(-98.99,-933.25)">S</text>
<path d="M115.80,922.35L116.70,922.45L120.60,914.55Q120.40,913.75 119.40,913.85Q118.60,914.05 118.50,914.65Z" fill="#1a1a1a"/>
<text x="123.09" y="933.25" class="t">,</text>
<text x="137.81" y="933.25" class="t it">a</text>
<path d="M159.50,924.00H176.40M159.50,928.90H176.40" stroke="#333" stroke-width="1.25" fill="none"/>
<text x="184.58" y="933.25" class="t">6</text>
<path d="M206.20,925.30H266.60" fill="none" stroke="#95449f" stroke-width="1.75" stroke-linecap="round" stroke-dasharray="4.0 4.05"/>
<text x="597.64" y="831.85" class="t" textLength="33.19" lengthAdjust="spacingAndGlyphs">LR</text>
<path d="M632.90,820.95L633.80,821.05L637.50,813.15Q637.30,812.35 636.30,812.45Q635.50,812.65 635.40,813.25Z" fill="#1a1a1a"/>
<text x="639.99" y="831.85" class="t">,</text>
<text x="654.71" y="831.85" class="t it">a</text>
<path d="M676.40,822.60H693.30M676.40,827.50H693.30" stroke="#333" stroke-width="1.25" fill="none"/>
<text x="701.48" y="831.85" class="t">8</text>
<path d="M721.90,823.90H787.20" fill="none" stroke="#ec1c24" stroke-width="2.3" stroke-linejoin="round"/>
<text x="615.89" y="865.75" class="t it" transform="translate(615.89,865.75) scale(1.12,1) translate(-615.89,-865.75)">S</text>
<path d="M632.70,854.85L633.60,854.95L637.50,847.05Q637.30,846.25 636.30,846.35Q635.50,846.55 635.40,847.15Z" fill="#1a1a1a"/>
<text x="639.99" y="865.75" class="t">,</text>
<text x="654.71" y="865.75" class="t it">a</text>
<path d="M676.40,856.50H693.30M676.40,861.40H693.30" stroke="#333" stroke-width="1.25" fill="none"/>
<text x="701.48" y="865.75" class="t">8</text>
<path d="M723.60,857.80H786.50" fill="none" stroke="#262a92" stroke-width="2.3" stroke-linecap="round" stroke-dasharray="3.7 6.38"/>
<text x="597.64" y="899.75" class="t" textLength="33.19" lengthAdjust="spacingAndGlyphs">LR</text>
<path d="M632.90,888.85L633.80,888.95L637.50,881.05Q637.30,880.25 636.30,880.35Q635.50,880.55 635.40,881.15Z" fill="#1a1a1a"/>
<text x="639.99" y="899.75" class="t">,</text>
<text x="654.71" y="899.75" class="t it">a</text>
<path d="M676.40,890.50H693.30M676.40,895.40H693.30" stroke="#333" stroke-width="1.25" fill="none"/>
<text x="701.48" y="899.75" class="t">6</text>
<path d="M722.55,891.80H785.80" fill="none" stroke="#b4241a" stroke-width="2.85" stroke-linecap="round" stroke-dasharray="0 6.3"/>
<text x="615.89" y="933.25" class="t it" transform="translate(615.89,933.25) scale(1.12,1) translate(-615.89,-933.25)">S</text>
<path d="M632.70,922.35L633.60,922.45L637.50,914.55Q637.30,913.75 636.30,913.85Q635.50,914.05 635.40,914.65Z" fill="#1a1a1a"/>
<text x="639.99" y="933.25" class="t">,</text>
<text x="654.71" y="933.25" class="t it">a</text>
<path d="M676.40,924.00H693.30M676.40,928.90H693.30" stroke="#333" stroke-width="1.25" fill="none"/>
<text x="701.48" y="933.25" class="t">6</text>
<path d="M723.10,925.30H783.50" fill="none" stroke="#95449f" stroke-width="1.75" stroke-linecap="round" stroke-dasharray="4.0 4.05"/>
</svg>
</body></html>
